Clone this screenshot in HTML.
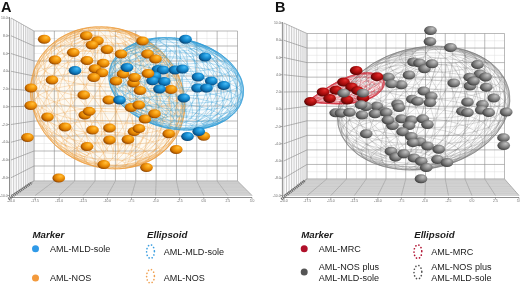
<!DOCTYPE html>
<html><head><meta charset="utf-8"><style>
html,body{margin:0;padding:0;background:#fff;width:520px;height:285px;overflow:hidden}
svg{display:block;filter:blur(0.3px)}
text{font-family:"Liberation Sans",sans-serif}
</style></head><body>
<svg width="520" height="285" viewBox="0 0 520 285">
<defs>
<radialGradient id="go" cx="0.58" cy="0.42" r="0.62" fx="0.66" fy="0.28"><stop offset="0" stop-color="#ffc040"/><stop offset="0.35" stop-color="#f8a012"/><stop offset="0.7" stop-color="#d87a00"/><stop offset="0.9" stop-color="#a45200"/><stop offset="1" stop-color="#7a3c00"/></radialGradient>
<radialGradient id="gb" cx="0.58" cy="0.42" r="0.62" fx="0.66" fy="0.28"><stop offset="0" stop-color="#4cbcf4"/><stop offset="0.35" stop-color="#2098dc"/><stop offset="0.7" stop-color="#0c72b2"/><stop offset="0.9" stop-color="#084e84"/><stop offset="1" stop-color="#063a64"/></radialGradient>
<radialGradient id="gr" cx="0.58" cy="0.42" r="0.62" fx="0.66" fy="0.28"><stop offset="0" stop-color="#e03232"/><stop offset="0.35" stop-color="#c21616"/><stop offset="0.7" stop-color="#940a0a"/><stop offset="0.9" stop-color="#640404"/><stop offset="1" stop-color="#440000"/></radialGradient>
<radialGradient id="gg" cx="0.58" cy="0.42" r="0.62" fx="0.66" fy="0.28"><stop offset="0" stop-color="#c2c2c2"/><stop offset="0.35" stop-color="#9a9a9a"/><stop offset="0.7" stop-color="#6c6c6c"/><stop offset="0.9" stop-color="#4a4a4a"/><stop offset="1" stop-color="#333"/></radialGradient>
</defs>
<rect width="520" height="285" fill="#fff"/>
<polygon points="11,18 34,31 34,181 11,195.5" fill="#fbfbfc"/>
<polygon points="11,195.5 252,195.5 237.5,181 34,181" fill="#dedede"/>
<line x1="44.17" y1="31" x2="44.17" y2="181" stroke="#dcdcdc" stroke-width="0.45"/>
<line x1="64.53" y1="31" x2="64.53" y2="181" stroke="#dcdcdc" stroke-width="0.45"/>
<line x1="84.88" y1="31" x2="84.88" y2="181" stroke="#dcdcdc" stroke-width="0.45"/>
<line x1="105.22" y1="31" x2="105.22" y2="181" stroke="#dcdcdc" stroke-width="0.45"/>
<line x1="125.58" y1="31" x2="125.58" y2="181" stroke="#dcdcdc" stroke-width="0.45"/>
<line x1="145.93" y1="31" x2="145.93" y2="181" stroke="#dcdcdc" stroke-width="0.45"/>
<line x1="166.28" y1="31" x2="166.28" y2="181" stroke="#dcdcdc" stroke-width="0.45"/>
<line x1="186.62" y1="31" x2="186.62" y2="181" stroke="#dcdcdc" stroke-width="0.45"/>
<line x1="206.97" y1="31" x2="206.97" y2="181" stroke="#dcdcdc" stroke-width="0.45"/>
<line x1="227.32" y1="31" x2="227.32" y2="181" stroke="#dcdcdc" stroke-width="0.45"/>
<line x1="34" y1="38.5" x2="237.5" y2="38.5" stroke="#dcdcdc" stroke-width="0.45"/>
<line x1="34" y1="53.5" x2="237.5" y2="53.5" stroke="#dcdcdc" stroke-width="0.45"/>
<line x1="34" y1="68.5" x2="237.5" y2="68.5" stroke="#dcdcdc" stroke-width="0.45"/>
<line x1="34" y1="83.5" x2="237.5" y2="83.5" stroke="#dcdcdc" stroke-width="0.45"/>
<line x1="34" y1="98.5" x2="237.5" y2="98.5" stroke="#dcdcdc" stroke-width="0.45"/>
<line x1="34" y1="113.5" x2="237.5" y2="113.5" stroke="#dcdcdc" stroke-width="0.45"/>
<line x1="34" y1="128.5" x2="237.5" y2="128.5" stroke="#dcdcdc" stroke-width="0.45"/>
<line x1="34" y1="143.5" x2="237.5" y2="143.5" stroke="#dcdcdc" stroke-width="0.45"/>
<line x1="34" y1="158.5" x2="237.5" y2="158.5" stroke="#dcdcdc" stroke-width="0.45"/>
<line x1="34" y1="173.5" x2="237.5" y2="173.5" stroke="#dcdcdc" stroke-width="0.45"/>
<line x1="34" y1="31" x2="34" y2="181" stroke="#8c8c8c" stroke-width="0.6"/>
<line x1="54.35" y1="31" x2="54.35" y2="181" stroke="#8c8c8c" stroke-width="0.6"/>
<line x1="74.7" y1="31" x2="74.7" y2="181" stroke="#8c8c8c" stroke-width="0.6"/>
<line x1="95.05" y1="31" x2="95.05" y2="181" stroke="#8c8c8c" stroke-width="0.6"/>
<line x1="115.4" y1="31" x2="115.4" y2="181" stroke="#8c8c8c" stroke-width="0.6"/>
<line x1="135.75" y1="31" x2="135.75" y2="181" stroke="#8c8c8c" stroke-width="0.6"/>
<line x1="156.1" y1="31" x2="156.1" y2="181" stroke="#8c8c8c" stroke-width="0.6"/>
<line x1="176.45" y1="31" x2="176.45" y2="181" stroke="#8c8c8c" stroke-width="0.6"/>
<line x1="196.8" y1="31" x2="196.8" y2="181" stroke="#8c8c8c" stroke-width="0.6"/>
<line x1="217.15" y1="31" x2="217.15" y2="181" stroke="#8c8c8c" stroke-width="0.6"/>
<line x1="237.5" y1="31" x2="237.5" y2="181" stroke="#8c8c8c" stroke-width="0.6"/>
<line x1="34" y1="31" x2="237.5" y2="31" stroke="#8c8c8c" stroke-width="0.6"/>
<line x1="34" y1="46" x2="237.5" y2="46" stroke="#8c8c8c" stroke-width="0.6"/>
<line x1="34" y1="61" x2="237.5" y2="61" stroke="#8c8c8c" stroke-width="0.6"/>
<line x1="34" y1="76" x2="237.5" y2="76" stroke="#8c8c8c" stroke-width="0.6"/>
<line x1="34" y1="91" x2="237.5" y2="91" stroke="#8c8c8c" stroke-width="0.6"/>
<line x1="34" y1="106" x2="237.5" y2="106" stroke="#8c8c8c" stroke-width="0.6"/>
<line x1="34" y1="121" x2="237.5" y2="121" stroke="#8c8c8c" stroke-width="0.6"/>
<line x1="34" y1="136" x2="237.5" y2="136" stroke="#8c8c8c" stroke-width="0.6"/>
<line x1="34" y1="151" x2="237.5" y2="151" stroke="#8c8c8c" stroke-width="0.6"/>
<line x1="34" y1="166" x2="237.5" y2="166" stroke="#8c8c8c" stroke-width="0.6"/>
<line x1="34" y1="181" x2="237.5" y2="181" stroke="#8c8c8c" stroke-width="0.6"/>
<line x1="11" y1="18" x2="11" y2="195.5" stroke="#989898" stroke-width="0.5"/>
<line x1="13.67" y1="19.51" x2="13.67" y2="193.81" stroke="#989898" stroke-width="0.5"/>
<line x1="16.25" y1="20.97" x2="16.25" y2="192.19" stroke="#989898" stroke-width="0.5"/>
<line x1="18.74" y1="22.38" x2="18.74" y2="190.62" stroke="#989898" stroke-width="0.5"/>
<line x1="21.15" y1="23.74" x2="21.15" y2="189.1" stroke="#989898" stroke-width="0.5"/>
<line x1="23.47" y1="25.05" x2="23.47" y2="187.64" stroke="#989898" stroke-width="0.5"/>
<line x1="25.72" y1="26.32" x2="25.72" y2="186.22" stroke="#989898" stroke-width="0.5"/>
<line x1="27.89" y1="27.55" x2="27.89" y2="184.85" stroke="#989898" stroke-width="0.5"/>
<line x1="29.99" y1="28.73" x2="29.99" y2="183.53" stroke="#989898" stroke-width="0.5"/>
<line x1="32.03" y1="29.88" x2="32.03" y2="182.24" stroke="#989898" stroke-width="0.5"/>
<line x1="34" y1="31" x2="34" y2="181" stroke="#989898" stroke-width="0.5"/>
<line x1="11" y1="18" x2="34" y2="31" stroke="#888888" stroke-width="0.6"/>
<line x1="11" y1="35.75" x2="34" y2="46" stroke="#888888" stroke-width="0.6"/>
<line x1="11" y1="53.5" x2="34" y2="61" stroke="#888888" stroke-width="0.6"/>
<line x1="11" y1="71.25" x2="34" y2="76" stroke="#888888" stroke-width="0.6"/>
<line x1="11" y1="89" x2="34" y2="91" stroke="#888888" stroke-width="0.6"/>
<line x1="11" y1="106.75" x2="34" y2="106" stroke="#888888" stroke-width="0.6"/>
<line x1="11" y1="124.5" x2="34" y2="121" stroke="#888888" stroke-width="0.6"/>
<line x1="11" y1="142.25" x2="34" y2="136" stroke="#888888" stroke-width="0.6"/>
<line x1="11" y1="160" x2="34" y2="151" stroke="#888888" stroke-width="0.6"/>
<line x1="11" y1="177.75" x2="34" y2="166" stroke="#888888" stroke-width="0.6"/>
<line x1="11" y1="195.5" x2="34" y2="181" stroke="#888888" stroke-width="0.6"/>
<line x1="11" y1="195.5" x2="34" y2="181" stroke="#7a7a7a" stroke-width="0.6"/>
<line x1="35.1" y1="195.5" x2="54.35" y2="181" stroke="#7a7a7a" stroke-width="0.6"/>
<line x1="59.2" y1="195.5" x2="74.7" y2="181" stroke="#7a7a7a" stroke-width="0.6"/>
<line x1="83.3" y1="195.5" x2="95.05" y2="181" stroke="#7a7a7a" stroke-width="0.6"/>
<line x1="107.4" y1="195.5" x2="115.4" y2="181" stroke="#7a7a7a" stroke-width="0.6"/>
<line x1="131.5" y1="195.5" x2="135.75" y2="181" stroke="#7a7a7a" stroke-width="0.6"/>
<line x1="155.6" y1="195.5" x2="156.1" y2="181" stroke="#7a7a7a" stroke-width="0.6"/>
<line x1="179.7" y1="195.5" x2="176.45" y2="181" stroke="#7a7a7a" stroke-width="0.6"/>
<line x1="203.8" y1="195.5" x2="196.8" y2="181" stroke="#7a7a7a" stroke-width="0.6"/>
<line x1="227.9" y1="195.5" x2="217.15" y2="181" stroke="#7a7a7a" stroke-width="0.6"/>
<line x1="252" y1="195.5" x2="237.5" y2="181" stroke="#7a7a7a" stroke-width="0.6"/>
<line x1="11" y1="195.5" x2="252" y2="195.5" stroke="#b8b8b8" stroke-width="0.45"/>
<line x1="12.35" y1="194.65" x2="251.15" y2="194.65" stroke="#cccccc" stroke-width="0.45"/>
<line x1="13.67" y1="193.81" x2="250.31" y2="193.81" stroke="#b8b8b8" stroke-width="0.45"/>
<line x1="14.98" y1="192.99" x2="249.49" y2="192.99" stroke="#cccccc" stroke-width="0.45"/>
<line x1="16.25" y1="192.19" x2="248.69" y2="192.19" stroke="#b8b8b8" stroke-width="0.45"/>
<line x1="17.51" y1="191.4" x2="247.9" y2="191.4" stroke="#cccccc" stroke-width="0.45"/>
<line x1="18.74" y1="190.62" x2="247.12" y2="190.62" stroke="#b8b8b8" stroke-width="0.45"/>
<line x1="19.96" y1="189.85" x2="246.35" y2="189.85" stroke="#cccccc" stroke-width="0.45"/>
<line x1="21.15" y1="189.1" x2="245.6" y2="189.1" stroke="#b8b8b8" stroke-width="0.45"/>
<line x1="22.32" y1="188.36" x2="244.86" y2="188.36" stroke="#cccccc" stroke-width="0.45"/>
<line x1="23.47" y1="187.64" x2="244.14" y2="187.64" stroke="#b8b8b8" stroke-width="0.45"/>
<line x1="24.6" y1="186.92" x2="243.42" y2="186.92" stroke="#cccccc" stroke-width="0.45"/>
<line x1="25.72" y1="186.22" x2="242.72" y2="186.22" stroke="#b8b8b8" stroke-width="0.45"/>
<line x1="26.81" y1="185.53" x2="242.03" y2="185.53" stroke="#cccccc" stroke-width="0.45"/>
<line x1="27.89" y1="184.85" x2="241.35" y2="184.85" stroke="#b8b8b8" stroke-width="0.45"/>
<line x1="28.95" y1="184.18" x2="240.68" y2="184.18" stroke="#cccccc" stroke-width="0.45"/>
<line x1="29.99" y1="183.53" x2="240.03" y2="183.53" stroke="#b8b8b8" stroke-width="0.45"/>
<line x1="31.02" y1="182.88" x2="239.38" y2="182.88" stroke="#cccccc" stroke-width="0.45"/>
<line x1="32.03" y1="182.24" x2="238.74" y2="182.24" stroke="#b8b8b8" stroke-width="0.45"/>
<line x1="33.02" y1="181.62" x2="238.12" y2="181.62" stroke="#cccccc" stroke-width="0.45"/>
<line x1="34" y1="181" x2="237.5" y2="181" stroke="#b8b8b8" stroke-width="0.45"/>
<line x1="9.5" y1="17" x2="9.5" y2="197.5" stroke="#707070" stroke-width="0.8"/>
<line x1="11" y1="197.5" x2="252" y2="197.5" stroke="#707070" stroke-width="0.8"/>
<line x1="7.5" y1="18" x2="9.5" y2="18" stroke="#707070" stroke-width="0.6"/>
<line x1="7.5" y1="35.75" x2="9.5" y2="35.75" stroke="#707070" stroke-width="0.6"/>
<line x1="7.5" y1="53.5" x2="9.5" y2="53.5" stroke="#707070" stroke-width="0.6"/>
<line x1="7.5" y1="71.25" x2="9.5" y2="71.25" stroke="#707070" stroke-width="0.6"/>
<line x1="7.5" y1="89" x2="9.5" y2="89" stroke="#707070" stroke-width="0.6"/>
<line x1="7.5" y1="106.75" x2="9.5" y2="106.75" stroke="#707070" stroke-width="0.6"/>
<line x1="7.5" y1="124.5" x2="9.5" y2="124.5" stroke="#707070" stroke-width="0.6"/>
<line x1="7.5" y1="142.25" x2="9.5" y2="142.25" stroke="#707070" stroke-width="0.6"/>
<line x1="7.5" y1="160" x2="9.5" y2="160" stroke="#707070" stroke-width="0.6"/>
<line x1="7.5" y1="177.75" x2="9.5" y2="177.75" stroke="#707070" stroke-width="0.6"/>
<line x1="7.5" y1="195.5" x2="9.5" y2="195.5" stroke="#707070" stroke-width="0.6"/>
<line x1="11" y1="197.5" x2="11" y2="199.5" stroke="#707070" stroke-width="0.6"/>
<line x1="35.1" y1="197.5" x2="35.1" y2="199.5" stroke="#707070" stroke-width="0.6"/>
<line x1="59.2" y1="197.5" x2="59.2" y2="199.5" stroke="#707070" stroke-width="0.6"/>
<line x1="83.3" y1="197.5" x2="83.3" y2="199.5" stroke="#707070" stroke-width="0.6"/>
<line x1="107.4" y1="197.5" x2="107.4" y2="199.5" stroke="#707070" stroke-width="0.6"/>
<line x1="131.5" y1="197.5" x2="131.5" y2="199.5" stroke="#707070" stroke-width="0.6"/>
<line x1="155.6" y1="197.5" x2="155.6" y2="199.5" stroke="#707070" stroke-width="0.6"/>
<line x1="179.7" y1="197.5" x2="179.7" y2="199.5" stroke="#707070" stroke-width="0.6"/>
<line x1="203.8" y1="197.5" x2="203.8" y2="199.5" stroke="#707070" stroke-width="0.6"/>
<line x1="227.9" y1="197.5" x2="227.9" y2="199.5" stroke="#707070" stroke-width="0.6"/>
<line x1="252" y1="197.5" x2="252" y2="199.5" stroke="#707070" stroke-width="0.6"/>
<line x1="8.5" y1="199" x2="32" y2="182.5" stroke="#6a6a6a" stroke-width="2.8" stroke-dasharray="1.1 0.8"/>
<text x="7.7" y="19.2" font-size="3.4" text-anchor="end" fill="#666">10.0</text>
<text x="7.7" y="36.95" font-size="3.4" text-anchor="end" fill="#666">8.0</text>
<text x="7.7" y="54.7" font-size="3.4" text-anchor="end" fill="#666">6.0</text>
<text x="7.7" y="72.45" font-size="3.4" text-anchor="end" fill="#666">4.0</text>
<text x="7.7" y="90.2" font-size="3.4" text-anchor="end" fill="#666">2.0</text>
<text x="7.7" y="107.95" font-size="3.4" text-anchor="end" fill="#666">0.0</text>
<text x="7.7" y="125.7" font-size="3.4" text-anchor="end" fill="#666">-2.0</text>
<text x="7.7" y="143.45" font-size="3.4" text-anchor="end" fill="#666">-4.0</text>
<text x="7.7" y="161.2" font-size="3.4" text-anchor="end" fill="#666">-6.0</text>
<text x="7.7" y="178.95" font-size="3.4" text-anchor="end" fill="#666">-8.0</text>
<text x="7.7" y="196.7" font-size="3.4" text-anchor="end" fill="#666">-10.0</text>
<text x="11" y="202.1" font-size="3.4" text-anchor="middle" fill="#666">-20.0</text>
<text x="35.1" y="202.1" font-size="3.4" text-anchor="middle" fill="#666">-17.5</text>
<text x="59.2" y="202.1" font-size="3.4" text-anchor="middle" fill="#666">-15.0</text>
<text x="83.3" y="202.1" font-size="3.4" text-anchor="middle" fill="#666">-12.5</text>
<text x="107.4" y="202.1" font-size="3.4" text-anchor="middle" fill="#666">-10.0</text>
<text x="131.5" y="202.1" font-size="3.4" text-anchor="middle" fill="#666">-7.5</text>
<text x="155.6" y="202.1" font-size="3.4" text-anchor="middle" fill="#666">-5.0</text>
<text x="179.7" y="202.1" font-size="3.4" text-anchor="middle" fill="#666">-2.5</text>
<text x="203.8" y="202.1" font-size="3.4" text-anchor="middle" fill="#666">0.0</text>
<text x="227.9" y="202.1" font-size="3.4" text-anchor="middle" fill="#666">2.5</text>
<text x="252" y="202.1" font-size="3.4" text-anchor="middle" fill="#666">5.0</text>
<polygon points="283.8,23 307,33.5 307,179 283.8,195.5" fill="#fbfbfc"/>
<polygon points="283.8,195.5 519,195.5 504.5,179 307,179" fill="#dedede"/>
<line x1="316.88" y1="33.5" x2="316.88" y2="179" stroke="#dcdcdc" stroke-width="0.45"/>
<line x1="336.62" y1="33.5" x2="336.62" y2="179" stroke="#dcdcdc" stroke-width="0.45"/>
<line x1="356.38" y1="33.5" x2="356.38" y2="179" stroke="#dcdcdc" stroke-width="0.45"/>
<line x1="376.12" y1="33.5" x2="376.12" y2="179" stroke="#dcdcdc" stroke-width="0.45"/>
<line x1="395.88" y1="33.5" x2="395.88" y2="179" stroke="#dcdcdc" stroke-width="0.45"/>
<line x1="415.62" y1="33.5" x2="415.62" y2="179" stroke="#dcdcdc" stroke-width="0.45"/>
<line x1="435.38" y1="33.5" x2="435.38" y2="179" stroke="#dcdcdc" stroke-width="0.45"/>
<line x1="455.12" y1="33.5" x2="455.12" y2="179" stroke="#dcdcdc" stroke-width="0.45"/>
<line x1="474.88" y1="33.5" x2="474.88" y2="179" stroke="#dcdcdc" stroke-width="0.45"/>
<line x1="494.62" y1="33.5" x2="494.62" y2="179" stroke="#dcdcdc" stroke-width="0.45"/>
<line x1="307" y1="40.77" x2="504.5" y2="40.77" stroke="#dcdcdc" stroke-width="0.45"/>
<line x1="307" y1="55.33" x2="504.5" y2="55.33" stroke="#dcdcdc" stroke-width="0.45"/>
<line x1="307" y1="69.88" x2="504.5" y2="69.88" stroke="#dcdcdc" stroke-width="0.45"/>
<line x1="307" y1="84.42" x2="504.5" y2="84.42" stroke="#dcdcdc" stroke-width="0.45"/>
<line x1="307" y1="98.97" x2="504.5" y2="98.97" stroke="#dcdcdc" stroke-width="0.45"/>
<line x1="307" y1="113.53" x2="504.5" y2="113.53" stroke="#dcdcdc" stroke-width="0.45"/>
<line x1="307" y1="128.07" x2="504.5" y2="128.07" stroke="#dcdcdc" stroke-width="0.45"/>
<line x1="307" y1="142.62" x2="504.5" y2="142.62" stroke="#dcdcdc" stroke-width="0.45"/>
<line x1="307" y1="157.18" x2="504.5" y2="157.18" stroke="#dcdcdc" stroke-width="0.45"/>
<line x1="307" y1="171.72" x2="504.5" y2="171.72" stroke="#dcdcdc" stroke-width="0.45"/>
<line x1="307" y1="33.5" x2="307" y2="179" stroke="#8c8c8c" stroke-width="0.6"/>
<line x1="326.75" y1="33.5" x2="326.75" y2="179" stroke="#8c8c8c" stroke-width="0.6"/>
<line x1="346.5" y1="33.5" x2="346.5" y2="179" stroke="#8c8c8c" stroke-width="0.6"/>
<line x1="366.25" y1="33.5" x2="366.25" y2="179" stroke="#8c8c8c" stroke-width="0.6"/>
<line x1="386" y1="33.5" x2="386" y2="179" stroke="#8c8c8c" stroke-width="0.6"/>
<line x1="405.75" y1="33.5" x2="405.75" y2="179" stroke="#8c8c8c" stroke-width="0.6"/>
<line x1="425.5" y1="33.5" x2="425.5" y2="179" stroke="#8c8c8c" stroke-width="0.6"/>
<line x1="445.25" y1="33.5" x2="445.25" y2="179" stroke="#8c8c8c" stroke-width="0.6"/>
<line x1="465" y1="33.5" x2="465" y2="179" stroke="#8c8c8c" stroke-width="0.6"/>
<line x1="484.75" y1="33.5" x2="484.75" y2="179" stroke="#8c8c8c" stroke-width="0.6"/>
<line x1="504.5" y1="33.5" x2="504.5" y2="179" stroke="#8c8c8c" stroke-width="0.6"/>
<line x1="307" y1="33.5" x2="504.5" y2="33.5" stroke="#8c8c8c" stroke-width="0.6"/>
<line x1="307" y1="48.05" x2="504.5" y2="48.05" stroke="#8c8c8c" stroke-width="0.6"/>
<line x1="307" y1="62.6" x2="504.5" y2="62.6" stroke="#8c8c8c" stroke-width="0.6"/>
<line x1="307" y1="77.15" x2="504.5" y2="77.15" stroke="#8c8c8c" stroke-width="0.6"/>
<line x1="307" y1="91.7" x2="504.5" y2="91.7" stroke="#8c8c8c" stroke-width="0.6"/>
<line x1="307" y1="106.25" x2="504.5" y2="106.25" stroke="#8c8c8c" stroke-width="0.6"/>
<line x1="307" y1="120.8" x2="504.5" y2="120.8" stroke="#8c8c8c" stroke-width="0.6"/>
<line x1="307" y1="135.35" x2="504.5" y2="135.35" stroke="#8c8c8c" stroke-width="0.6"/>
<line x1="307" y1="149.9" x2="504.5" y2="149.9" stroke="#8c8c8c" stroke-width="0.6"/>
<line x1="307" y1="164.45" x2="504.5" y2="164.45" stroke="#8c8c8c" stroke-width="0.6"/>
<line x1="307" y1="179" x2="504.5" y2="179" stroke="#8c8c8c" stroke-width="0.6"/>
<line x1="283.8" y1="23" x2="283.8" y2="195.5" stroke="#989898" stroke-width="0.5"/>
<line x1="286.51" y1="24.23" x2="286.51" y2="193.57" stroke="#989898" stroke-width="0.5"/>
<line x1="289.12" y1="25.41" x2="289.12" y2="191.71" stroke="#989898" stroke-width="0.5"/>
<line x1="291.64" y1="26.55" x2="291.64" y2="189.92" stroke="#989898" stroke-width="0.5"/>
<line x1="294.07" y1="27.65" x2="294.07" y2="188.2" stroke="#989898" stroke-width="0.5"/>
<line x1="296.41" y1="28.71" x2="296.41" y2="186.53" stroke="#989898" stroke-width="0.5"/>
<line x1="298.67" y1="29.73" x2="298.67" y2="184.92" stroke="#989898" stroke-width="0.5"/>
<line x1="300.86" y1="30.72" x2="300.86" y2="183.37" stroke="#989898" stroke-width="0.5"/>
<line x1="302.97" y1="31.68" x2="302.97" y2="181.86" stroke="#989898" stroke-width="0.5"/>
<line x1="305.02" y1="32.6" x2="305.02" y2="180.41" stroke="#989898" stroke-width="0.5"/>
<line x1="307" y1="33.5" x2="307" y2="179" stroke="#989898" stroke-width="0.5"/>
<line x1="283.8" y1="23" x2="307" y2="33.5" stroke="#888888" stroke-width="0.6"/>
<line x1="283.8" y1="40.25" x2="307" y2="48.05" stroke="#888888" stroke-width="0.6"/>
<line x1="283.8" y1="57.5" x2="307" y2="62.6" stroke="#888888" stroke-width="0.6"/>
<line x1="283.8" y1="74.75" x2="307" y2="77.15" stroke="#888888" stroke-width="0.6"/>
<line x1="283.8" y1="92" x2="307" y2="91.7" stroke="#888888" stroke-width="0.6"/>
<line x1="283.8" y1="109.25" x2="307" y2="106.25" stroke="#888888" stroke-width="0.6"/>
<line x1="283.8" y1="126.5" x2="307" y2="120.8" stroke="#888888" stroke-width="0.6"/>
<line x1="283.8" y1="143.75" x2="307" y2="135.35" stroke="#888888" stroke-width="0.6"/>
<line x1="283.8" y1="161" x2="307" y2="149.9" stroke="#888888" stroke-width="0.6"/>
<line x1="283.8" y1="178.25" x2="307" y2="164.45" stroke="#888888" stroke-width="0.6"/>
<line x1="283.8" y1="195.5" x2="307" y2="179" stroke="#888888" stroke-width="0.6"/>
<line x1="283.8" y1="195.5" x2="307" y2="179" stroke="#7a7a7a" stroke-width="0.6"/>
<line x1="307.32" y1="195.5" x2="326.75" y2="179" stroke="#7a7a7a" stroke-width="0.6"/>
<line x1="330.84" y1="195.5" x2="346.5" y2="179" stroke="#7a7a7a" stroke-width="0.6"/>
<line x1="354.36" y1="195.5" x2="366.25" y2="179" stroke="#7a7a7a" stroke-width="0.6"/>
<line x1="377.88" y1="195.5" x2="386" y2="179" stroke="#7a7a7a" stroke-width="0.6"/>
<line x1="401.4" y1="195.5" x2="405.75" y2="179" stroke="#7a7a7a" stroke-width="0.6"/>
<line x1="424.92" y1="195.5" x2="425.5" y2="179" stroke="#7a7a7a" stroke-width="0.6"/>
<line x1="448.44" y1="195.5" x2="445.25" y2="179" stroke="#7a7a7a" stroke-width="0.6"/>
<line x1="471.96" y1="195.5" x2="465" y2="179" stroke="#7a7a7a" stroke-width="0.6"/>
<line x1="495.48" y1="195.5" x2="484.75" y2="179" stroke="#7a7a7a" stroke-width="0.6"/>
<line x1="519" y1="195.5" x2="504.5" y2="179" stroke="#7a7a7a" stroke-width="0.6"/>
<line x1="283.8" y1="195.5" x2="519" y2="195.5" stroke="#b8b8b8" stroke-width="0.45"/>
<line x1="285.17" y1="194.53" x2="518.14" y2="194.53" stroke="#cccccc" stroke-width="0.45"/>
<line x1="286.51" y1="193.57" x2="517.31" y2="193.57" stroke="#b8b8b8" stroke-width="0.45"/>
<line x1="287.83" y1="192.63" x2="516.48" y2="192.63" stroke="#cccccc" stroke-width="0.45"/>
<line x1="289.12" y1="191.71" x2="515.67" y2="191.71" stroke="#b8b8b8" stroke-width="0.45"/>
<line x1="290.39" y1="190.81" x2="514.88" y2="190.81" stroke="#cccccc" stroke-width="0.45"/>
<line x1="291.64" y1="189.92" x2="514.1" y2="189.92" stroke="#b8b8b8" stroke-width="0.45"/>
<line x1="292.86" y1="189.05" x2="513.33" y2="189.05" stroke="#cccccc" stroke-width="0.45"/>
<line x1="294.07" y1="188.2" x2="512.58" y2="188.2" stroke="#b8b8b8" stroke-width="0.45"/>
<line x1="295.25" y1="187.36" x2="511.84" y2="187.36" stroke="#cccccc" stroke-width="0.45"/>
<line x1="296.41" y1="186.53" x2="511.12" y2="186.53" stroke="#b8b8b8" stroke-width="0.45"/>
<line x1="297.55" y1="185.72" x2="510.41" y2="185.72" stroke="#cccccc" stroke-width="0.45"/>
<line x1="298.67" y1="184.92" x2="509.7" y2="184.92" stroke="#b8b8b8" stroke-width="0.45"/>
<line x1="299.78" y1="184.14" x2="509.01" y2="184.14" stroke="#cccccc" stroke-width="0.45"/>
<line x1="300.86" y1="183.37" x2="508.34" y2="183.37" stroke="#b8b8b8" stroke-width="0.45"/>
<line x1="301.93" y1="182.61" x2="507.67" y2="182.61" stroke="#cccccc" stroke-width="0.45"/>
<line x1="302.97" y1="181.86" x2="507.02" y2="181.86" stroke="#b8b8b8" stroke-width="0.45"/>
<line x1="304.01" y1="181.13" x2="506.37" y2="181.13" stroke="#cccccc" stroke-width="0.45"/>
<line x1="305.02" y1="180.41" x2="505.74" y2="180.41" stroke="#b8b8b8" stroke-width="0.45"/>
<line x1="306.02" y1="179.7" x2="505.11" y2="179.7" stroke="#cccccc" stroke-width="0.45"/>
<line x1="307" y1="179" x2="504.5" y2="179" stroke="#b8b8b8" stroke-width="0.45"/>
<line x1="282.4" y1="22" x2="282.4" y2="197.5" stroke="#707070" stroke-width="0.8"/>
<line x1="283.8" y1="197.5" x2="519" y2="197.5" stroke="#707070" stroke-width="0.8"/>
<line x1="280.4" y1="23" x2="282.4" y2="23" stroke="#707070" stroke-width="0.6"/>
<line x1="280.4" y1="40.25" x2="282.4" y2="40.25" stroke="#707070" stroke-width="0.6"/>
<line x1="280.4" y1="57.5" x2="282.4" y2="57.5" stroke="#707070" stroke-width="0.6"/>
<line x1="280.4" y1="74.75" x2="282.4" y2="74.75" stroke="#707070" stroke-width="0.6"/>
<line x1="280.4" y1="92" x2="282.4" y2="92" stroke="#707070" stroke-width="0.6"/>
<line x1="280.4" y1="109.25" x2="282.4" y2="109.25" stroke="#707070" stroke-width="0.6"/>
<line x1="280.4" y1="126.5" x2="282.4" y2="126.5" stroke="#707070" stroke-width="0.6"/>
<line x1="280.4" y1="143.75" x2="282.4" y2="143.75" stroke="#707070" stroke-width="0.6"/>
<line x1="280.4" y1="161" x2="282.4" y2="161" stroke="#707070" stroke-width="0.6"/>
<line x1="280.4" y1="178.25" x2="282.4" y2="178.25" stroke="#707070" stroke-width="0.6"/>
<line x1="280.4" y1="195.5" x2="282.4" y2="195.5" stroke="#707070" stroke-width="0.6"/>
<line x1="283.8" y1="197.5" x2="283.8" y2="199.5" stroke="#707070" stroke-width="0.6"/>
<line x1="307.32" y1="197.5" x2="307.32" y2="199.5" stroke="#707070" stroke-width="0.6"/>
<line x1="330.84" y1="197.5" x2="330.84" y2="199.5" stroke="#707070" stroke-width="0.6"/>
<line x1="354.36" y1="197.5" x2="354.36" y2="199.5" stroke="#707070" stroke-width="0.6"/>
<line x1="377.88" y1="197.5" x2="377.88" y2="199.5" stroke="#707070" stroke-width="0.6"/>
<line x1="401.4" y1="197.5" x2="401.4" y2="199.5" stroke="#707070" stroke-width="0.6"/>
<line x1="424.92" y1="197.5" x2="424.92" y2="199.5" stroke="#707070" stroke-width="0.6"/>
<line x1="448.44" y1="197.5" x2="448.44" y2="199.5" stroke="#707070" stroke-width="0.6"/>
<line x1="471.96" y1="197.5" x2="471.96" y2="199.5" stroke="#707070" stroke-width="0.6"/>
<line x1="495.48" y1="197.5" x2="495.48" y2="199.5" stroke="#707070" stroke-width="0.6"/>
<line x1="519" y1="197.5" x2="519" y2="199.5" stroke="#707070" stroke-width="0.6"/>
<line x1="281.3" y1="199" x2="305" y2="180.5" stroke="#6a6a6a" stroke-width="2.8" stroke-dasharray="1.1 0.8"/>
<text x="280.6" y="24.2" font-size="3.4" text-anchor="end" fill="#666">10.0</text>
<text x="280.6" y="41.45" font-size="3.4" text-anchor="end" fill="#666">8.0</text>
<text x="280.6" y="58.7" font-size="3.4" text-anchor="end" fill="#666">6.0</text>
<text x="280.6" y="75.95" font-size="3.4" text-anchor="end" fill="#666">4.0</text>
<text x="280.6" y="93.2" font-size="3.4" text-anchor="end" fill="#666">2.0</text>
<text x="280.6" y="110.45" font-size="3.4" text-anchor="end" fill="#666">0.0</text>
<text x="280.6" y="127.7" font-size="3.4" text-anchor="end" fill="#666">-2.0</text>
<text x="280.6" y="144.95" font-size="3.4" text-anchor="end" fill="#666">-4.0</text>
<text x="280.6" y="162.2" font-size="3.4" text-anchor="end" fill="#666">-6.0</text>
<text x="280.6" y="179.45" font-size="3.4" text-anchor="end" fill="#666">-8.0</text>
<text x="280.6" y="196.7" font-size="3.4" text-anchor="end" fill="#666">-10.0</text>
<text x="283.8" y="202.1" font-size="3.4" text-anchor="middle" fill="#666">-20.0</text>
<text x="307.32" y="202.1" font-size="3.4" text-anchor="middle" fill="#666">-17.5</text>
<text x="330.84" y="202.1" font-size="3.4" text-anchor="middle" fill="#666">-15.0</text>
<text x="354.36" y="202.1" font-size="3.4" text-anchor="middle" fill="#666">-12.5</text>
<text x="377.88" y="202.1" font-size="3.4" text-anchor="middle" fill="#666">-10.0</text>
<text x="401.4" y="202.1" font-size="3.4" text-anchor="middle" fill="#666">-7.5</text>
<text x="424.92" y="202.1" font-size="3.4" text-anchor="middle" fill="#666">-5.0</text>
<text x="448.44" y="202.1" font-size="3.4" text-anchor="middle" fill="#666">-2.5</text>
<text x="471.96" y="202.1" font-size="3.4" text-anchor="middle" fill="#666">0.0</text>
<text x="495.48" y="202.1" font-size="3.4" text-anchor="middle" fill="#666">2.5</text>
<text x="519" y="202.1" font-size="3.4" text-anchor="middle" fill="#666">5.0</text>
<path d="M179.4,130.5 176.6,135.9 173.3,140.9 169.5,145.7 165.2,150.1 160.5,154.1 155.4,157.7 149.9,160.8 144.1,163.4 138.1,165.6 131.7,167.2 125.3,168.3 118.6,168.8 111.9,168.8 105.2,168.3 98.5,167.3 91.8,165.7 85.3,163.6 78.9,161 72.8,157.9 66.9,154.3 61.3,150.3 56.1,146 51.3,141.2 46.9,136.2 43,130.8 39.6,125.2 36.6,119.3 34.3,113.4 32.5,107.3 31.2,101.1 30.6,94.9 30.5,88.7 31,82.6 32.1,76.6 33.8,70.8 36,65.1 38.8,59.7 42.1,54.7 45.9,49.9 50.2,45.5 54.9,41.5 60,37.9 65.5,34.8 71.3,32.2 77.3,30 83.7,28.4 90.1,27.3 96.8,26.8 103.5,26.8 110.2,27.3 116.9,28.3 123.6,29.9 130.1,32 136.5,34.6 142.6,37.7 148.5,41.3 154.1,45.3 159.3,49.6 164.1,54.4 168.5,59.4 172.4,64.8 175.8,70.4 178.8,76.3 181.1,82.2 182.9,88.3 184.2,94.5 184.8,100.7 184.9,106.9 184.4,113 183.3,119 181.6,124.8 179.4,130.5Z" fill="#f8d898" fill-opacity="0.12"/>
<path d="M130.8,36.7 136.7,39.1 142.5,41.7 148,44.8 153.2,48.2 158.1,52 162.7,56 167,60.3 170.8,64.9 174.2,69.7 177.2,74.7 179.7,79.8 181.7,85.1 183.3,90.4 184.3,95.8 184.9,101.2 184.9,106.6 184.4,111.9 183.4,117.1 181.9,122.2 179.9,127.1 177.5,131.9 174.5,136.4 171.2,140.6 167.4,144.6 163.2,148.3 158.6,151.6 153.7,154.6 148.5,157.2 143.1,159.4 137.4,161.2 M117.4,34.1 124.4,36.2 131.2,38.9 137.8,42.1 144.1,45.8 150.2,49.9 155.8,54.4 161.1,59.3 165.8,64.5 170.1,70.1 173.8,75.8 177,81.8 179.6,87.9 181.5,94.1 182.8,100.3 183.5,106.5 183.5,112.6 182.8,118.6 181.5,124.4 179.5,129.9 177,135.2 173.8,140.2 170.1,144.8 165.8,149 161,152.8 155.7,156.1 150.1,158.8 144,161.1 137.7,162.8 131.1,163.9 124.3,164.5 M128.7,40.2 134.2,43.3 139.5,46.7 144.5,50.5 149.4,54.6 153.9,59 158.2,63.6 162.1,68.4 165.6,73.5 168.8,78.7 171.6,84 173.9,89.5 175.8,94.9 177.2,100.4 178.2,105.9 178.8,111.4 178.8,116.7 178.4,121.9 177.5,127 176.1,131.8 174.3,136.5 172.1,140.8 169.4,144.9 166.3,148.7 162.8,152.2 159,155.3 154.8,158 150.3,160.3 145.5,162.1 140.5,163.6 135.3,164.6 M115.3,35.7 121.1,38.7 126.8,42.2 132.3,46.1 137.6,50.5 142.7,55.4 147.4,60.6 151.8,66.1 155.9,71.9 159.5,77.9 162.6,84.1 165.3,90.4 167.5,96.7 169.2,103.1 170.3,109.4 170.9,115.7 171,121.7 170.5,127.6 169.4,133.2 167.9,138.5 165.8,143.5 163.2,148 160.1,152.1 156.6,155.8 152.6,158.9 148.2,161.6 143.6,163.6 138.5,165.1 133.3,166 127.8,166.4 122.1,166.1 M122.4,42.9 126.5,46.6 130.5,50.6 134.3,54.9 137.9,59.5 141.3,64.3 144.5,69.4 147.4,74.7 150.1,80.1 152.5,85.6 154.7,91.2 156.5,96.9 157.9,102.5 159.1,108.2 159.9,113.7 160.3,119.2 160.5,124.5 160.2,129.6 159.6,134.6 158.7,139.2 157.4,143.7 155.8,147.8 153.9,151.5 151.7,154.9 149.2,158 146.4,160.6 143.3,162.8 140,164.6 136.5,166 132.8,166.9 129,167.3 M111.2,36.8 114.9,40.3 118.5,44.3 122,48.8 125.4,53.7 128.7,59 131.7,64.6 134.6,70.6 137.2,76.7 139.6,83.1 141.7,89.5 143.5,96.1 145,102.6 146.1,109.1 147,115.5 147.5,121.8 147.6,127.8 147.4,133.6 146.9,139.1 146,144.2 144.8,148.9 143.3,153.2 141.4,157 139.3,160.3 136.9,163 134.2,165.2 131.3,166.8 128.3,167.8 125,168.2 121.6,168 118,167.2 M113,44.3 115,48.3 117,52.6 118.9,57.2 120.7,62.1 122.4,67.2 124.1,72.5 125.6,77.9 127,83.6 128.3,89.3 129.4,95 130.4,100.8 131.2,106.5 131.9,112.2 132.5,117.8 132.8,123.3 133,128.6 133.1,133.7 132.9,138.6 132.6,143.2 132.2,147.5 131.5,151.4 130.7,155 129.8,158.2 128.7,161.1 127.5,163.5 126.1,165.4 124.6,167 123,168 121.4,168.6 119.6,168.7 M105.9,37.1 106.8,40.8 107.8,45 108.7,49.7 109.6,54.8 110.5,60.2 111.4,66 112.3,72 113.1,78.3 113.8,84.7 114.5,91.3 115.2,97.9 115.8,104.5 116.3,111 116.7,117.5 117.1,123.7 117.4,129.8 117.6,135.6 117.7,141 117.7,146.1 117.7,150.7 117.5,154.9 117.3,158.6 117,161.7 116.6,164.4 116.1,166.4 115.6,167.8 115,168.7 114.3,168.9 113.5,168.5 112.8,167.5 M102.1,44.2 101.7,48.2 101.4,52.5 101.1,57 100.8,61.9 100.6,67 100.4,72.3 100.2,77.7 100.2,83.3 100.1,89 100.1,94.8 100.2,100.5 100.3,106.3 100.5,112 100.7,117.6 101,123 101.3,128.3 101.6,133.4 102,138.3 102.4,142.9 102.9,147.2 103.4,151.2 103.9,154.8 104.5,158 105,160.9 105.6,163.3 106.2,165.3 106.8,166.8 107.4,167.9 108.1,168.5 108.7,168.6 M100.4,36.7 98.4,40.2 96.5,44.1 94.7,48.6 93,53.4 91.4,58.7 90,64.3 88.8,70.2 87.7,76.3 86.7,82.6 86,89 85.4,95.5 85.1,102.1 84.9,108.6 84.9,115 85.1,121.2 85.6,127.3 86.2,133.1 87,138.6 87.9,143.7 89.1,148.5 90.4,152.8 91.9,156.6 93.5,159.9 95.2,162.7 97,164.9 98.9,166.5 100.9,167.6 103,168 105.1,167.8 107.2,167.1 M91.6,42.6 88.9,46.2 86.3,50.2 83.9,54.4 81.6,59 79.5,63.8 77.6,68.8 75.8,74 74.3,79.4 73,84.9 72,90.5 71.1,96.1 70.6,101.8 70.2,107.4 70.1,112.9 70.3,118.4 70.7,123.7 71.3,128.9 72.2,133.8 73.4,138.5 74.7,142.9 76.3,147.1 78.1,150.9 80.1,154.3 82.2,157.4 84.6,160.1 87,162.4 89.7,164.2 92.4,165.6 95.2,166.6 98.2,167.1 M95.5,35.5 91,38.4 86.6,41.8 82.4,45.7 78.4,50 74.7,54.8 71.2,59.9 68.1,65.3 65.3,71.1 62.9,77 60.9,83.2 59.3,89.4 58.1,95.8 57.3,102.1 57,108.4 57.1,114.7 57.6,120.7 58.6,126.6 60,132.3 61.8,137.6 64,142.6 66.6,147.2 69.5,151.4 72.8,155.1 76.4,158.3 80.3,161 84.3,163.1 88.6,164.7 93.1,165.7 97.7,166.1 102.3,165.9 M83.3,39.8 78.8,42.8 74.5,46.2 70.3,49.9 66.5,53.9 62.9,58.2 59.6,62.7 56.6,67.5 53.9,72.5 51.6,77.7 49.7,83 48.2,88.4 47,93.8 46.3,99.3 46,104.8 46.1,110.2 46.5,115.5 47.4,120.8 48.7,125.8 50.4,130.7 52.5,135.4 54.9,139.8 57.7,144 60.8,147.8 64.2,151.3 67.9,154.5 71.9,157.2 76.1,159.6 80.5,161.6 85.1,163.1 89.9,164.2 M92.1,33.9 85.8,35.9 79.8,38.5 73.9,41.5 68.4,45.1 63.1,49.1 58.3,53.5 53.9,58.4 50,63.5 46.5,69 43.6,74.7 41.3,80.6 39.5,86.7 38.3,92.8 37.7,99 37.7,105.2 38.4,111.3 39.6,117.3 41.4,123.1 43.8,128.8 46.7,134.1 50.2,139.1 54.2,143.8 58.6,148.1 63.5,151.9 68.7,155.3 74.3,158.2 80.2,160.5 86.3,162.3 92.6,163.6 99,164.3 M78.7,36.3 73.2,38.5 67.8,41.1 62.8,44.1 58,47.4 53.6,51.1 49.5,55 45.8,59.3 42.5,63.8 39.7,68.5 37.3,73.5 35.3,78.6 33.9,83.8 32.9,89.1 32.5,94.5 32.5,99.8 33,105.2 34.1,110.6 35.6,115.8 37.6,120.9 40,125.9 42.9,130.7 46.3,135.3 50,139.6 54.1,143.6 58.6,147.4 63.4,150.8 68.5,153.8 73.9,156.5 79.5,158.8 85.2,160.7 M90.9,32 83.9,33.1 77.2,34.7 70.7,36.8 64.6,39.5 58.8,42.7 53.5,46.3 48.6,50.5 44.2,55 40.4,59.9 37.2,65.1 34.5,70.6 32.6,76.3 31.2,82.2 30.5,88.3 30.5,94.4 31.2,100.6 32.5,106.7 34.5,112.8 37.1,118.7 40.3,124.5 44.1,130 48.4,135.3 53.3,140.2 58.6,144.7 64.4,148.9 70.5,152.6 77,155.8 83.7,158.5 90.6,160.7 97.7,162.4 M78.5,32.6 72.9,34 67.5,35.9 62.4,38.1 57.6,40.7 53.2,43.7 49.1,47.1 45.3,50.8 42,54.8 39.2,59.1 36.7,63.6 34.8,68.4 33.3,73.4 32.4,78.5 31.9,83.8 31.9,89.1 32.5,94.6 33.5,100 35,105.4 37,110.8 39.5,116.1 42.4,121.2 45.8,126.2 49.6,131.1 53.7,135.7 58.2,140 63.1,144.1 68.2,147.8 73.6,151.3 79.2,154.3 85.1,157 M91.9,30.3 85.6,30.4 79.4,31.1 73.4,32.4 67.8,34.2 62.5,36.6 57.6,39.5 53.1,43 49.1,46.9 45.6,51.2 42.6,56 40.3,61.1 38.4,66.5 37.2,72.2 36.6,78.2 36.6,84.2 37.3,90.5 38.5,96.7 40.4,103 42.8,109.3 45.8,115.4 49.3,121.4 53.3,127.2 57.8,132.7 62.7,137.9 68.1,142.8 73.7,147.3 79.7,151.4 85.9,155 92.3,158.1 98.8,160.6 M82.8,29.5 78.2,30.2 73.7,31.3 69.5,32.9 65.5,35 61.8,37.4 58.4,40.2 55.3,43.5 52.6,47 50.2,51 48.3,55.2 46.7,59.7 45.5,64.5 44.7,69.4 44.4,74.6 44.5,79.9 45,85.4 45.9,90.9 47.2,96.5 48.9,102.1 51,107.6 53.5,113.1 56.3,118.5 59.5,123.7 63,128.8 66.8,133.7 70.9,138.3 75.2,142.7 79.8,146.8 84.5,150.5 89.3,153.9 M95.1,28.9 90.4,28.3 85.9,28.3 81.5,28.9 77.4,30.1 73.5,31.9 69.9,34.3 66.6,37.2 63.7,40.7 61.2,44.6 59.1,49 57.4,53.8 56.1,59 55.3,64.5 55,70.4 55.1,76.4 55.6,82.7 56.6,89 58.1,95.5 59.9,102 62.2,108.4 64.9,114.7 68,120.9 71.3,126.9 75.1,132.7 79.1,138.1 83.3,143.2 87.7,147.9 92.4,152.2 97.1,156 102,159.3 M90.8,27.4 87.9,27.6 85.2,28.3 82.6,29.5 80.1,31.1 77.9,33.2 75.8,35.7 74,38.6 72.4,41.9 71,45.6 69.8,49.6 68.9,53.9 68.3,58.5 67.9,63.4 67.8,68.5 67.9,73.8 68.4,79.3 69,84.9 70,90.6 71.1,96.3 72.6,102 74.2,107.7 76.1,113.3 78.2,118.9 80.5,124.3 82.9,129.5 85.6,134.5 88.4,139.3 91.3,143.8 94.3,148 97.4,151.8 M99.9,28.2 97.7,27.2 95.6,26.9 93.6,27.1 91.7,28 89.9,29.5 88.3,31.5 86.9,34.2 85.6,37.4 84.5,41.1 83.7,45.3 83,49.9 82.6,55 82.4,60.5 82.4,66.2 82.6,72.3 83,78.5 83.6,85 84.5,91.5 85.6,98.1 86.8,104.7 88.2,111.2 89.8,117.7 91.6,123.9 93.5,129.9 95.5,135.7 97.6,141.1 99.8,146.1 102.1,150.7 104.4,154.9 106.8,158.6 M101.2,26.7 100.6,26.8 100.1,27.4 99.6,28.4 99.1,29.9 98.7,31.8 98.4,34.2 98.1,37 97.9,40.2 97.8,43.8 97.7,47.8 97.7,52 97.7,56.6 97.8,61.5 98,66.6 98.3,71.9 98.6,77.3 99,82.9 99.4,88.6 99.9,94.4 100.4,100.2 101,106 101.7,111.7 102.3,117.3 103,122.8 103.8,128.1 104.5,133.3 105.3,138.2 106.1,142.8 106.9,147.1 107.7,151.1 M105.4,28.2 106.1,27.3 106.8,27 107.5,27.2 108.2,28.1 108.9,29.6 109.6,31.7 110.3,34.4 110.9,37.6 111.6,41.3 112.1,45.5 112.7,50.2 113.2,55.3 113.7,60.7 114.1,66.5 114.4,72.6 114.7,78.8 114.9,85.2 115.1,91.8 115.2,98.4 115.3,105 115.2,111.5 115.2,117.9 115,124.1 114.8,130.1 114.5,135.8 114.2,141.2 113.8,146.2 113.3,150.8 112.8,155 112.3,158.6 M112.1,27.6 114,27.9 115.7,28.6 117.4,29.8 119.1,31.5 120.7,33.6 122.1,36.1 123.5,39 124.8,42.3 126,46 127,50.1 128,54.4 128.8,59 129.4,63.9 129.9,69.1 130.3,74.4 130.5,79.8 130.5,85.4 130.4,91.1 130.2,96.8 129.8,102.5 129.3,108.2 128.6,113.8 127.7,119.3 126.8,124.7 125.7,129.9 124.5,134.8 123.2,139.6 121.8,144 120.3,148.2 118.7,152 M110.8,29 114.2,28.5 117.7,28.6 121,29.3 124.2,30.5 127.3,32.4 130.2,34.8 132.9,37.8 135.3,41.3 137.6,45.3 139.6,49.7 141.3,54.5 142.7,59.8 143.8,65.3 144.6,71.1 145.1,77.2 145.3,83.4 145.1,89.8 144.6,96.2 143.8,102.7 142.7,109.1 141.3,115.4 139.6,121.6 137.6,127.5 135.3,133.2 132.8,138.6 130.1,143.6 127.2,148.3 124.2,152.5 120.9,156.2 117.6,159.4 M121.7,29.8 125.7,30.6 129.5,31.8 133.1,33.5 136.6,35.6 139.9,38.1 143,41 145.9,44.2 148.4,47.9 150.8,51.8 152.8,56.1 154.6,60.6 156,65.4 157.1,70.4 157.9,75.6 158.3,80.9 158.5,86.4 158.2,91.9 157.7,97.4 156.8,103 155.6,108.5 154,114 152.2,119.3 150.1,124.5 147.7,129.6 145,134.4 142.1,138.9 138.9,143.2 135.5,147.2 132,150.9 128.3,154.2 M115,30.5 120.6,30.7 126.2,31.5 131.6,32.9 136.8,34.8 141.7,37.3 146.4,40.3 150.7,43.8 154.6,47.8 158.1,52.2 161.2,57 163.9,62.2 166,67.6 167.6,73.4 168.8,79.3 169.3,85.4 169.4,91.6 168.9,97.9 167.9,104.1 166.4,110.3 164.3,116.4 161.8,122.4 158.8,128.1 155.4,133.6 151.5,138.7 147.3,143.5 142.7,147.9 137.8,151.9 132.7,155.4 127.4,158.4 121.8,160.8 M128.4,33.1 133.7,34.6 138.9,36.5 143.9,38.8 148.7,41.5 153.2,44.6 157.4,48 161.2,51.8 164.7,55.9 167.8,60.2 170.6,64.8 172.9,69.6 174.7,74.6 176.2,79.8 177.1,85.1 177.7,90.4 177.7,95.8 177.3,101.3 176.4,106.7 175.1,112 173.3,117.2 171.1,122.4 168.5,127.3 165.4,132.1 162,136.6 158.2,140.9 154.1,144.9 149.7,148.6 145,151.9 140.1,154.9 134.9,157.5 M117.3,32.3 124.2,33.4 131,35.1 137.5,37.4 143.8,40.2 149.8,43.5 155.4,47.2 160.6,51.4 165.4,56 169.6,61 173.3,66.3 176.5,71.8 179,77.6 181,83.5 182.3,89.6 182.9,95.8 182.9,101.9 182.3,108 181,114.1 179,120 176.5,125.7 173.3,131.1 169.6,136.3 165.4,141.2 160.6,145.6 155.4,149.7 149.8,153.3 143.8,156.4 137.5,159 130.9,161.1 124.2,162.6 M117.7,33.2 117.6,33.8 117.3,34.3 116.7,34.9 116,35.4 115,35.8 113.9,36.2 112.6,36.5 111.2,36.8 109.6,37 108,37.1 106.3,37.1 104.5,37.1 102.8,37 101,36.8 99.4,36.5 97.8,36.2 96.3,35.8 95,35.4 93.8,34.9 92.8,34.3 92,33.8 91.4,33.2 91,32.6 90.9,32 91,31.4 91.3,30.9 91.8,30.4 92.6,29.9 93.5,29.4 94.6,29 95.9,28.7 97.4,28.4 98.9,28.3 100.6,28.1 102.3,28.1 104,28.1 105.8,28.3 107.5,28.4 109.2,28.7 110.8,29 112.2,29.4 113.6,29.9 114.8,30.4 115.8,30.9 116.6,31.4 117.2,32 117.5,32.6 117.7,33.2 M130.8,36.7 130.7,37.9 130,39 129,40 127.5,41 125.7,41.9 123.4,42.6 120.9,43.3 118,43.8 115,44.2 111.7,44.4 108.3,44.5 104.9,44.4 101.4,44.2 98,43.8 94.8,43.3 91.6,42.6 88.7,41.9 86.1,41 83.8,40 81.8,39 80.2,37.9 79.1,36.8 78.3,35.6 78,34.4 78.2,33.3 78.8,32.2 79.9,31.2 81.3,30.2 83.2,29.3 85.4,28.6 88,27.9 90.8,27.4 93.9,27 97.2,26.8 100.5,26.7 104,26.8 107.4,27 110.8,27.4 114.1,27.9 117.2,28.5 120.1,29.3 122.8,30.2 125.1,31.2 127.1,32.2 128.6,33.3 129.8,34.4 130.5,35.6 130.8,36.7 M143.3,42.2 143,43.8 142.1,45.4 140.6,47 138.4,48.4 135.7,49.6 132.5,50.8 128.7,51.7 124.6,52.5 120.1,53 115.3,53.3 110.4,53.4 105.4,53.3 100.3,53 95.4,52.5 90.5,51.7 86,50.8 81.7,49.7 77.9,48.4 74.5,47 71.6,45.4 69.3,43.8 67.6,42.2 66.5,40.5 66.1,38.8 66.3,37.1 67.2,35.5 68.8,34 70.9,32.6 73.7,31.3 76.9,30.2 80.7,29.2 84.8,28.5 89.3,27.9 94,27.6 99,27.5 104,27.6 109.1,27.9 114,28.5 118.8,29.2 123.4,30.2 127.6,31.3 131.5,32.6 134.9,34 137.8,35.5 140.1,37.1 141.8,38.8 142.9,40.5 143.3,42.2 M154.6,49.3 154.3,51.4 153.2,53.5 151.2,55.4 148.4,57.2 144.9,58.9 140.7,60.3 135.9,61.5 130.6,62.5 124.8,63.2 118.7,63.6 112.4,63.8 105.9,63.6 99.4,63.2 93,62.5 86.9,61.5 81,60.3 75.5,58.9 70.6,57.3 66.2,55.4 62.5,53.5 59.5,51.4 57.3,49.3 56,47.1 55.4,44.9 55.7,42.8 56.9,40.7 58.9,38.8 61.6,36.9 65.2,35.3 69.3,33.9 74.1,32.6 79.5,31.7 85.2,31 91.4,30.5 97.7,30.4 104.2,30.5 110.6,31 117,31.7 123.2,32.6 129.1,33.8 134.5,35.3 139.5,36.9 143.9,38.7 147.6,40.7 150.5,42.8 152.7,44.9 154.1,47.1 154.6,49.3 M164.6,57.8 164.2,60.4 162.8,62.9 160.5,65.2 157.2,67.3 153,69.3 148,71 142.3,72.5 135.9,73.6 129,74.5 121.8,75 114.2,75.1 106.5,75 98.8,74.5 91.2,73.6 83.8,72.5 76.8,71 70.3,69.3 64.4,67.4 59.2,65.2 54.8,62.9 51.2,60.4 48.6,57.9 47,55.3 46.3,52.7 46.7,50.1 48.1,47.6 50.4,45.3 53.7,43.2 57.9,41.2 62.9,39.5 68.7,38 75,36.9 81.9,36 89.2,35.5 96.7,35.4 104.4,35.5 112.2,36 119.8,36.9 127.1,38 134.1,39.5 140.6,41.2 146.5,43.1 151.7,45.3 156.1,47.6 159.7,50.1 162.3,52.6 163.9,55.2 164.6,57.8 M172.8,67.6 172.4,70.5 170.8,73.3 168.2,75.9 164.4,78.4 159.7,80.6 154,82.5 147.6,84.2 140.4,85.5 132.6,86.4 124.4,87 115.8,87.2 107.1,87 98.4,86.4 89.8,85.5 81.5,84.2 73.6,82.5 66.2,80.6 59.5,78.4 53.6,75.9 48.7,73.3 44.7,70.5 41.7,67.6 39.9,64.7 39.1,61.8 39.5,58.9 41.1,56.1 43.8,53.5 47.5,51 52.2,48.8 57.9,46.9 64.3,45.2 71.5,43.9 79.3,43 87.5,42.4 96.1,42.2 104.8,42.4 113.5,43 122.1,43.9 130.5,45.2 138.4,46.9 145.7,48.8 152.4,51 158.3,53.5 163.3,56.1 167.3,58.9 170.2,61.8 172.1,64.7 172.8,67.6 M179,78.3 178.6,81.5 176.9,84.5 174,87.3 170,90 164.8,92.4 158.7,94.5 151.7,96.3 143.9,97.7 135.4,98.7 126.5,99.3 117.2,99.6 107.8,99.3 98.3,98.7 89,97.7 79.9,96.3 71.4,94.5 63.4,92.4 56.1,90 49.7,87.4 44.3,84.5 40,81.5 36.8,78.4 34.8,75.2 34,72 34.4,68.9 36.1,65.8 39,63 43.1,60.3 48.2,57.9 54.3,55.8 61.4,54 69.1,52.6 77.6,51.6 86.5,51 95.8,50.8 105.2,51 114.7,51.6 124.1,52.6 133.1,54 141.7,55.8 149.6,57.9 156.9,60.3 163.3,63 168.7,65.8 173,68.8 176.2,72 178.2,75.1 179,78.3 M183.1,89.6 182.6,92.9 180.9,96.1 177.8,99.1 173.6,101.9 168.2,104.4 161.8,106.6 154.4,108.4 146.3,109.9 137.4,111 128.1,111.6 118.3,111.9 108.4,111.7 98.5,111 88.7,109.9 79.2,108.4 70.2,106.6 61.9,104.4 54.3,101.9 47.6,99.1 41.9,96.1 37.4,92.9 34,89.7 31.9,86.3 31.1,83 31.6,79.7 33.3,76.5 36.4,73.5 40.6,70.8 46,68.2 52.4,66 59.8,64.2 67.9,62.7 76.8,61.6 86.1,61 95.9,60.7 105.8,61 115.7,61.6 125.5,62.7 135,64.2 143.9,66 152.3,68.2 159.9,70.7 166.6,73.5 172.3,76.5 176.8,79.7 180.2,83 182.3,86.3 183.1,89.6 M184.9,101.2 184.4,104.5 182.6,107.7 179.5,110.8 175.2,113.6 169.8,116.1 163.2,118.4 155.8,120.3 147.5,121.8 138.5,122.9 129,123.5 119.1,123.8 109.1,123.5 99,122.9 89,121.8 79.4,120.3 70.3,118.4 61.8,116.2 54.1,113.6 47.3,110.8 41.5,107.7 36.9,104.5 33.5,101.2 31.4,97.8 30.5,94.4 31,91.1 32.8,87.9 35.9,84.8 40.2,82 45.6,79.5 52.2,77.2 59.6,75.3 67.9,73.8 76.9,72.7 86.4,72.1 96.3,71.8 106.3,72.1 116.4,72.7 126.4,73.8 136,75.3 145.1,77.2 153.6,79.4 161.3,82 168.1,84.8 173.9,87.9 178.5,91.1 181.9,94.4 184,97.8 184.9,101.2 M184.3,112.6 183.8,115.9 182.1,119.1 179,122.1 174.8,124.8 169.4,127.4 163,129.6 155.6,131.4 147.5,132.9 138.6,134 129.3,134.6 119.5,134.9 109.6,134.6 99.7,134 89.9,132.9 80.4,131.4 71.5,129.6 63.1,127.4 55.5,124.9 48.8,122.1 43.1,119.1 38.6,115.9 35.2,112.6 33.1,109.3 32.3,106 32.8,102.7 34.5,99.5 37.6,96.5 41.8,93.7 47.2,91.2 53.6,89 61,87.2 69.1,85.7 78,84.6 87.3,84 97.1,83.7 107,83.9 116.9,84.6 126.7,85.7 136.2,87.2 145.2,89 153.5,91.2 161.1,93.7 167.8,96.5 173.5,99.5 178,102.7 181.4,105.9 183.5,109.3 184.3,112.6 M181.4,123.6 181,126.7 179.3,129.8 176.4,132.6 172.3,135.3 167.2,137.7 161.1,139.8 154,141.6 146.3,143 137.8,144 128.9,144.6 119.6,144.8 110.2,144.6 100.7,144 91.3,143 82.3,141.6 73.7,139.8 65.8,137.7 58.5,135.3 52.1,132.6 46.7,129.8 42.4,126.8 39.2,123.6 37.2,120.5 36.4,117.3 36.8,114.1 38.5,111.1 41.4,108.3 45.4,105.6 50.6,103.2 56.7,101.1 63.7,99.3 71.5,97.9 80,96.9 88.9,96.3 98.2,96 107.6,96.3 117.1,96.9 126.4,97.9 135.5,99.3 144,101.1 152,103.2 159.3,105.6 165.7,108.2 171.1,111.1 175.4,114.1 178.6,117.2 180.6,120.4 181.4,123.6 M176.3,133.8 175.9,136.7 174.3,139.5 171.6,142.1 167.9,144.6 163.2,146.8 157.5,148.7 151.1,150.4 143.9,151.7 136.1,152.6 127.9,153.2 119.3,153.4 110.6,153.2 101.9,152.6 93.3,151.7 84.9,150.4 77,148.7 69.7,146.8 63,144.6 57.1,142.1 52.1,139.5 48.1,136.7 45.2,133.8 43.3,130.9 42.6,128 43,125.1 44.6,122.3 47.2,119.7 51,117.2 55.7,115 61.4,113.1 67.8,111.4 75,110.1 82.8,109.2 91,108.6 99.6,108.4 108.3,108.6 117,109.2 125.6,110.1 133.9,111.4 141.8,113.1 149.2,115 155.9,117.2 161.8,119.7 166.7,122.3 170.7,125.1 173.7,128 175.5,130.9 176.3,133.8 M169.1,142.9 168.7,145.5 167.3,148 165,150.3 161.7,152.4 157.5,154.4 152.5,156.1 146.7,157.6 140.4,158.7 133.5,159.6 126.2,160.1 118.7,160.2 111,160.1 103.2,159.6 95.6,158.7 88.3,157.6 81.3,156.1 74.8,154.4 68.9,152.5 63.7,150.3 59.3,148 55.7,145.5 53.1,143 51.5,140.4 50.8,137.8 51.2,135.2 52.6,132.7 54.9,130.4 58.2,128.3 62.4,126.3 67.4,124.6 73.1,123.1 79.5,122 86.4,121.1 93.6,120.6 101.2,120.5 108.9,120.6 116.6,121.1 124.2,122 131.6,123.1 138.6,124.6 145.1,126.3 151,128.2 156.2,130.4 160.6,132.7 164.2,135.2 166.8,137.7 168.4,140.3 169.1,142.9 M160,150.7 159.7,152.8 158.5,154.9 156.5,156.8 153.8,158.7 150.2,160.3 146.1,161.7 141.3,163 135.9,163.9 130.2,164.6 124,165.1 117.7,165.2 111.2,165.1 104.8,164.6 98.4,163.9 92.2,163 86.3,161.8 80.9,160.3 75.9,158.7 71.5,156.9 67.8,154.9 64.9,152.8 62.7,150.7 61.3,148.5 60.8,146.3 61.1,144.2 62.2,142.1 64.2,140.2 67,138.4 70.5,136.7 74.7,135.3 79.5,134.1 84.8,133.1 90.6,132.4 96.7,132 103,131.8 109.5,132 116,132.4 122.4,133.1 128.5,134.1 134.4,135.3 139.9,136.7 144.8,138.3 149.2,140.2 152.9,142.1 155.9,144.2 158.1,146.3 159.4,148.5 160,150.7 M149.3,156.8 149.1,158.5 148.2,160.1 146.6,161.6 144.5,163 141.7,164.3 138.5,165.4 134.7,166.4 130.6,167.1 126.1,167.7 121.4,168 116.4,168.1 111.4,168 106.3,167.7 101.4,167.1 96.6,166.4 92,165.4 87.8,164.3 83.9,163 80.5,161.6 77.6,160.1 75.3,158.5 73.6,156.8 72.5,155.1 72.1,153.4 72.4,151.8 73.3,150.2 74.8,148.6 77,147.2 79.7,146 82.9,144.8 86.7,143.9 90.8,143.1 95.3,142.6 100.1,142.3 105,142.2 110,142.3 115.1,142.6 120,143.1 124.9,143.9 129.4,144.8 133.7,145.9 137.5,147.2 140.9,148.6 143.8,150.2 146.1,151.8 147.8,153.4 148.9,155.1 149.3,156.8 M137.4,161.2 137.2,162.3 136.6,163.4 135.5,164.4 134.1,165.4 132.2,166.3 130,167 127.4,167.7 124.6,168.2 121.5,168.6 118.2,168.8 114.9,168.9 111.4,168.8 108,168.6 104.6,168.2 101.3,167.7 98.2,167.1 95.3,166.3 92.6,165.4 90.3,164.4 88.3,163.4 86.8,162.3 85.6,161.2 84.9,160 84.6,158.9 84.7,157.7 85.4,156.6 86.4,155.6 87.9,154.6 89.7,153.7 92,153 94.5,152.3 97.4,151.8 100.4,151.4 103.7,151.2 107.1,151.1 110.5,151.2 114,151.4 117.4,151.8 120.6,152.3 123.8,153 126.7,153.7 129.3,154.6 131.6,155.6 133.6,156.6 135.2,157.7 136.3,158.8 137.1,160 137.4,161.2 M124.5,163.6 124.4,164.2 124.1,164.7 123.6,165.2 122.8,165.7 121.9,166.2 120.8,166.6 119.5,166.9 118,167.2 116.5,167.3 114.8,167.5 113.1,167.5 111.4,167.5 109.6,167.3 107.9,167.2 106.2,166.9 104.6,166.6 103.2,166.2 101.8,165.7 100.6,165.2 99.6,164.7 98.8,164.2 98.2,163.6 97.9,163 97.7,162.4 97.8,161.8 98.1,161.3 98.7,160.7 99.4,160.2 100.4,159.8 101.5,159.4 102.8,159.1 104.2,158.8 105.8,158.6 107.4,158.5 109.1,158.5 110.9,158.5 112.6,158.6 114.4,158.8 116,159.1 117.6,159.4 119.1,159.8 120.4,160.2 121.6,160.7 122.6,161.3 123.4,161.8 124,162.4 124.4,163 124.5,163.6 M130.3,38.6 141.6,46.1 150.7,55.8 157.2,67.3 160.7,80.2 161.3,93.7 158.9,107.4 154.2,120.6 147.5,132.9 139.5,143.8 131.2,153 123.2,160.2 116.4,165.2 111.4,168 108.7,168.6 M128.7,40.2 138.4,48.4 145.7,58.6 150.1,70.4 151.6,83.2 150.2,96.6 146.3,109.9 140.3,122.7 133.1,134.4 125.2,144.8 117.6,153.4 111,160.1 106,164.7 103.4,167.4 103.3,168 M126.1,41.7 133.8,50.3 138.9,60.8 141.1,72.7 140.4,85.5 137.2,98.5 131.8,111.4 125.1,123.7 117.6,134.8 110.2,144.6 103.6,152.8 98.7,159.1 95.9,163.6 95.6,166.2 98.2,167.1 M122.4,42.9 127.9,51.9 130.6,62.5 130.5,74.3 127.7,86.8 122.8,99.5 116.4,111.9 109.1,123.5 101.7,134.2 95.1,143.4 89.9,151.2 86.8,157.3 86.3,161.8 88.6,164.5 93.7,165.8 M118,43.8 121,52.9 121.2,63.5 118.8,75.1 114.1,87.2 107.8,99.3 100.5,111.2 93,122.3 86.1,132.4 80.6,141.2 77,148.7 76,154.8 77.8,159.4 82.5,162.5 89.9,164.2 M113,44.3 113.4,53.4 111.1,63.8 106.5,75 100.1,86.6 92.7,98.2 84.9,109.4 77.5,119.9 71.5,129.6 67.3,138.1 65.6,145.5 66.7,151.6 70.7,156.5 77.6,160.1 87,162.5 M107.7,44.5 105.4,53.3 100.7,63.3 94.2,74 86.4,85 78.2,96 70.2,106.6 63.4,116.6 58.4,125.9 55.8,134.3 56.1,141.6 59.3,148 65.4,153.3 74.2,157.5 85.2,160.7 M102.1,44.2 97.3,52.7 90.5,62.2 82.4,72.2 73.6,82.5 64.9,92.9 57.2,102.9 51.3,112.5 47.6,121.5 46.7,129.8 48.9,137.3 54,144 62,149.8 72.4,154.8 84.6,158.9 M96.7,43.6 89.6,51.5 81,60.3 71.6,69.7 62.1,79.3 53.5,89 46.4,98.5 41.5,107.7 39.4,116.6 40.3,124.9 44.3,132.7 51.2,139.8 60.8,146.3 72.3,152.1 85.1,157 M91.6,42.6 82.6,49.9 72.5,57.9 62.2,66.5 52.6,75.4 44.3,84.5 38.2,93.6 34.7,102.5 34.2,111.3 36.9,119.8 42.6,128 51,135.7 61.7,142.9 73.8,149.5 86.7,155.4 M87.1,41.4 76.5,47.8 65.4,55.1 54.8,62.9 45.4,71.1 37.9,79.6 33,88.3 31.1,97.1 32.3,106 36.6,114.8 43.8,123.4 53.4,131.8 64.7,139.8 77,147.2 89.3,153.9 M83.3,39.8 71.6,45.4 60.1,51.8 49.6,58.9 40.8,66.5 34.5,74.5 31.1,83 30.8,91.8 33.7,100.8 39.5,109.9 47.9,119.2 58.2,128.3 69.7,137 81.6,145.3 93,152.7 M80.5,38.1 68.2,42.8 56.7,48.4 46.8,54.7 39.1,61.8 34.3,69.5 32.5,77.8 33.9,86.6 38.3,95.9 45.4,105.6 54.7,115.4 65.3,125.2 76.5,134.8 87.5,143.7 97.4,151.8 M78.7,36.3 66.4,40.1 55.4,44.9 46.6,50.6 40.3,57.2 37.1,64.7 37.1,73 40.2,82 46,91.7 54.1,101.9 63.8,112.4 74.3,122.9 84.8,133.1 94.4,142.7 102.4,151.3 M78,34.4 66.2,37.4 56.3,41.5 48.9,46.7 44.4,53 43.1,60.3 44.8,68.7 49.4,78.1 56.5,88.2 65.2,99 75,110.1 84.9,121.3 94.2,132.1 102,142.2 107.7,151.1 M78.5,32.6 67.8,34.9 59.4,38.4 53.7,43.2 51.2,49.2 51.8,56.6 55.3,65.2 61.2,75 69.1,85.7 78.2,97.1 87.7,108.8 96.6,120.5 104.3,131.8 110,142.3 113.3,151.4 M80.1,31 70.9,32.6 64.4,35.6 60.8,40.1 60.4,46.2 62.9,53.7 67.9,62.7 75.1,72.9 83.6,84.2 92.6,96.1 101.3,108.4 108.9,120.6 114.7,132.3 118.1,142.9 118.7,152 M82.8,29.5 75.6,30.6 71.2,33.3 69.9,37.8 71.5,43.9 75.9,51.8 82.3,61.2 90.3,71.9 99,83.7 107.6,96.3 115.3,109 121.2,121.6 124.9,133.4 125.8,144.1 123.8,153 M86.4,28.3 81.5,29.1 79.5,31.7 80.5,36.2 84.2,42.6 90.2,50.8 97.8,60.8 106.3,72.1 114.9,84.4 122.7,97.4 129,110.6 133,123.4 134.4,135.3 132.8,145.7 128.3,154.2 M90.8,27.4 88.4,28 88.9,30.7 92.2,35.4 97.8,42.2 105.2,51 113.7,61.4 122.4,73.3 130.5,86.2 137.2,99.6 141.8,113.1 143.8,125.9 142.9,137.7 138.9,147.8 132.1,155.8 M95.8,26.9 96,27.5 99,30.4 104.4,35.5 111.8,42.8 120.3,52.2 129.3,63.2 137.9,75.7 145.2,89 150.5,102.7 153.3,116.3 153.2,129.1 150,140.5 143.8,150.2 134.9,157.5 M101.2,26.7 104,27.6 109.4,30.9 116.7,36.5 125.5,44.4 134.8,54.4 143.9,66 152,79 158.2,92.7 161.9,106.6 162.8,120.2 160.6,132.7 155.3,143.8 147.2,152.8 136.7,159.3 M106.7,27 112,28.2 119.5,32 128.6,38.3 138.4,46.9 148.1,57.5 157,69.7 164.1,83.1 169,97.1 171.1,111.1 170,124.5 165.8,136.7 158.7,147.2 149,155.5 137.4,161.2 M112.1,27.6 119.8,29.4 129.1,33.8 139.4,40.8 149.8,50.1 159.6,61.3 167.8,74.1 173.9,87.9 177.2,102 177.5,116 174.6,129.1 168.6,140.9 160,150.7 149.2,158.2 136.9,163 M117.2,28.5 126.8,31.1 137.6,36.2 148.7,44 159.3,54 168.7,65.8 176,79 180.7,93.1 182.4,107.3 180.9,121.1 176.3,133.8 168.8,145 159.1,154.1 147.6,160.7 135.3,164.6 M121.7,29.8 132.9,33.1 144.7,39.1 156.1,47.6 166.5,58.3 175.1,70.7 181.2,84.3 184.3,98.5 184.3,112.6 181.1,126.1 175.1,138.4 166.5,148.9 156,157.2 144.5,163 132.6,166.1 M125.5,31.4 137.8,35.5 150,42.3 161.4,51.6 171.1,62.9 178.5,75.8 183.1,89.6 184.6,103.8 182.9,117.8 178.3,130.9 171,142.6 161.7,152.4 151,160 139.8,165 129,167.3 M128.4,33.1 141.2,38.1 153.4,45.8 164.2,55.8 172.8,67.6 178.8,80.8 181.7,94.8 181.5,109 178.3,122.6 172.3,135.3 164.2,146.4 154.6,155.5 144.2,162.3 133.9,166.5 124.6,168.2 M130.2,34.9 143,40.8 154.6,49.3 164.4,59.9 171.6,72.2 175.9,85.7 177.1,99.7 175.2,113.6 170.6,126.9 163.6,139 155,149.4 145.5,157.8 135.9,163.9 127,167.6 119.6,168.7 M130.8,36.7 143.1,43.5 153.7,52.7 162,63.8 167.5,76.4 170,90 169.4,103.9 166,117.5 160.1,130.4 152.5,141.9 143.9,151.7 134.9,159.4 126.5,164.9 119.4,168.1 114.2,168.9" fill="none" stroke="#eb9a38" stroke-width="0.45" stroke-opacity="0.62"/>
<path d="M179.4,130.5 176.6,135.9 173.3,140.9 169.5,145.7 165.2,150.1 160.5,154.1 155.4,157.7 149.9,160.8 144.1,163.4 138.1,165.6 131.7,167.2 125.3,168.3 118.6,168.8 111.9,168.8 105.2,168.3 98.5,167.3 91.8,165.7 85.3,163.6 78.9,161 72.8,157.9 66.9,154.3 61.3,150.3 56.1,146 51.3,141.2 46.9,136.2 43,130.8 39.6,125.2 36.6,119.3 34.3,113.4 32.5,107.3 31.2,101.1 30.6,94.9 30.5,88.7 31,82.6 32.1,76.6 33.8,70.8 36,65.1 38.8,59.7 42.1,54.7 45.9,49.9 50.2,45.5 54.9,41.5 60,37.9 65.5,34.8 71.3,32.2 77.3,30 83.7,28.4 90.1,27.3 96.8,26.8 103.5,26.8 110.2,27.3 116.9,28.3 123.6,29.9 130.1,32 136.5,34.6 142.6,37.7 148.5,41.3 154.1,45.3 159.3,49.6 164.1,54.4 168.5,59.4 172.4,64.8 175.8,70.4 178.8,76.3 181.1,82.2 182.9,88.3 184.2,94.5 184.8,100.7 184.9,106.9 184.4,113 183.3,119 181.6,124.8 179.4,130.5Z" fill="none" stroke="#eb9a38" stroke-width="0.8" stroke-opacity="0.85"/>
<path d="M177.6,129.7 174.9,134.9 171.7,139.9 168,144.5 163.8,148.8 159.2,152.7 154.2,156.2 148.9,159.2 143.2,161.8 137.3,163.9 131.1,165.4 124.8,166.5 118.4,167.1 111.8,167.1 105.2,166.6 98.7,165.5 92.2,164 85.8,161.9 79.6,159.4 73.7,156.4 67.9,152.9 62.5,149 57.4,144.8 52.7,140.1 48.4,135.2 44.6,130 41.3,124.5 38.4,118.8 36.1,113 34.3,107 33.1,101 32.5,94.9 32.4,88.9 32.9,83 34,77.1 35.6,71.4 37.8,65.9 40.5,60.7 43.7,55.7 47.4,51.1 51.6,46.8 56.2,42.9 61.2,39.4 66.5,36.4 72.2,33.8 78.1,31.7 84.3,30.2 90.6,29.1 97,28.5 103.6,28.5 110.2,29 116.7,30.1 123.2,31.6 129.6,33.7 135.8,36.2 141.7,39.2 147.5,42.7 152.9,46.6 158,50.8 162.7,55.5 167,60.4 170.8,65.6 174.1,71.1 177,76.8 179.3,82.6 181.1,88.6 182.3,94.6 182.9,100.7 183,106.7 182.5,112.6 181.4,118.5 179.8,124.2 177.6,129.7Z M175.8,128.8 173.2,134 170,138.8 166.4,143.3 162.4,147.5 157.9,151.3 153,154.7 147.8,157.6 142.3,160.1 136.5,162.2 130.5,163.7 124.4,164.8 118.1,165.3 111.7,165.3 105.3,164.8 98.9,163.8 92.6,162.3 86.4,160.3 80.4,157.8 74.5,154.9 68.9,151.5 63.7,147.7 58.7,143.6 54.1,139.1 50,134.2 46.2,129.1 43,123.8 40.2,118.3 37.9,112.6 36.2,106.8 35,100.9 34.4,95 34.3,89.1 34.8,83.3 35.9,77.6 37.5,72.1 39.6,66.8 42.2,61.6 45.4,56.8 49,52.3 53,48.1 57.5,44.3 62.4,40.9 67.6,38 73.1,35.5 78.9,33.4 84.9,31.9 91,30.8 97.3,30.3 103.7,30.3 110.1,30.8 116.5,31.8 122.8,33.3 129,35.3 135,37.8 140.9,40.7 146.5,44.1 151.7,47.9 156.7,52 161.3,56.5 165.4,61.4 169.2,66.5 172.4,71.8 175.2,77.3 177.5,83 179.2,88.8 180.4,94.7 181,100.6 181.1,106.5 180.6,112.3 179.5,118 177.9,123.5 175.8,128.8Z" fill="none" stroke="#eb9a38" stroke-width="0.45" stroke-opacity="0.85"/>
<path d="M243,97 242,100.8 240.5,104.5 238.5,108.1 236,111.4 233,114.5 229.7,117.4 225.9,120.1 221.7,122.4 217.2,124.5 212.4,126.3 207.3,127.7 202,128.8 196.5,129.6 190.8,130 185,130.1 179.2,129.8 173.3,129.1 167.4,128.1 161.6,126.8 156,125.2 150.4,123.2 145.1,120.9 140,118.4 135.2,115.6 130.7,112.5 126.5,109.3 122.8,105.8 119.4,102.2 116.4,98.4 114,94.5 111.9,90.6 110.4,86.5 109.4,82.5 108.9,78.5 108.9,74.5 109.4,70.6 110.4,66.8 111.9,63.1 113.9,59.5 116.4,56.2 119.4,53.1 122.7,50.2 126.5,47.5 130.7,45.2 135.2,43.1 140,41.3 145.1,39.9 150.4,38.8 155.9,38 161.6,37.6 167.4,37.5 173.2,37.8 179.1,38.5 185,39.5 190.8,40.8 196.4,42.4 202,44.4 207.3,46.7 212.4,49.2 217.2,52 221.7,55.1 225.9,58.3 229.6,61.8 233,65.4 236,69.2 238.4,73.1 240.5,77 242,81.1 243,85.1 243.5,89.1 243.5,93.1 243,97Z" fill="#90ccf0" fill-opacity="0.06"/>
<path d="M195.2,45.7 200.4,47.3 205.4,49.2 210.3,51.3 214.9,53.6 219.2,56.1 223.3,58.7 227.1,61.6 230.5,64.6 233.5,67.7 236.2,71 238.5,74.3 240.4,77.7 241.8,81.1 242.8,84.5 243.4,88 243.5,91.4 243.2,94.7 242.4,98 241.2,101.2 239.6,104.3 237.5,107.2 235.1,110 232.2,112.6 229,115 225.4,117.2 221.5,119.2 217.3,121 212.8,122.5 208.1,123.8 203.2,124.7 M183.5,43.8 189.6,45.3 195.6,47.3 201.4,49.5 207,52 212.3,54.8 217.3,57.9 221.9,61.2 226.2,64.6 230,68.3 233.4,72.1 236.3,75.9 238.6,79.9 240.4,83.9 241.7,87.8 242.3,91.8 242.5,95.7 242,99.4 241,103.1 239.4,106.5 237.2,109.8 234.6,112.9 231.4,115.7 227.7,118.2 223.6,120.4 219.1,122.3 214.2,123.9 209,125.1 203.5,126 197.8,126.5 191.9,126.6 M193.5,48.2 198.3,50.4 202.9,52.7 207.4,55.3 211.7,58.1 215.8,61.1 219.6,64.2 223.1,67.4 226.2,70.7 229.1,74.2 231.6,77.7 233.7,81.2 235.5,84.7 236.9,88.3 237.8,91.8 238.4,95.3 238.5,98.6 238.2,101.9 237.6,105.1 236.5,108.1 235,111 233.1,113.7 230.8,116.1 228.2,118.4 225.3,120.5 222,122.3 218.4,123.8 214.5,125.1 210.4,126.1 206,126.8 201.5,127.2 M181.6,44.9 186.8,47 191.8,49.5 196.7,52.3 201.4,55.4 205.9,58.7 210.2,62.2 214.1,65.9 217.7,69.8 221,73.7 223.9,77.8 226.3,81.9 228.4,86.1 230,90.2 231.1,94.3 231.7,98.2 231.9,102.1 231.5,105.8 230.7,109.3 229.4,112.5 227.7,115.6 225.5,118.3 222.9,120.8 219.9,122.9 216.5,124.7 212.8,126.2 208.7,127.2 204.4,127.9 199.8,128.2 195,128.2 190,127.7 M188.1,50 191.7,52.6 195.2,55.3 198.6,58.3 201.9,61.4 204.9,64.7 207.8,68.1 210.5,71.6 213,75.2 215.2,78.9 217.1,82.5 218.8,86.2 220.2,89.9 221.3,93.5 222.1,97.1 222.6,100.6 222.8,103.9 222.7,107.2 222.2,110.2 221.5,113.2 220.5,115.9 219.2,118.4 217.6,120.6 215.7,122.6 213.5,124.4 211.1,125.9 208.5,127.1 205.7,128 202.6,128.7 199.4,129 196.1,129.1 M178.1,45.6 181.4,48.1 184.7,50.9 187.8,54.1 190.9,57.4 193.8,61 196.6,64.8 199.2,68.8 201.7,72.9 203.8,77.1 205.8,81.3 207.5,85.6 208.9,89.9 210.1,94.1 210.9,98.2 211.5,102.2 211.7,106 211.6,109.6 211.3,113.1 210.6,116.2 209.6,119.1 208.4,121.7 206.8,123.9 205,125.8 203,127.4 200.7,128.5 198.2,129.3 195.5,129.7 192.6,129.6 189.6,129.2 186.5,128.4 M179.9,50.8 181.8,53.6 183.5,56.5 185.3,59.7 187,62.9 188.6,66.4 190.1,69.9 191.6,73.5 192.9,77.2 194.1,81 195.2,84.8 196.2,88.5 197.1,92.2 197.8,95.9 198.4,99.5 198.8,103 199.1,106.3 199.2,109.6 199.1,112.6 199,115.4 198.6,118.1 198.1,120.5 197.5,122.7 196.7,124.6 195.8,126.2 194.8,127.6 193.6,128.6 192.4,129.4 191,129.9 189.5,130 187.9,129.9 M173.6,45.7 174.5,48.3 175.4,51.2 176.3,54.4 177.2,57.8 178.1,61.5 179,65.4 179.9,69.4 180.7,73.5 181.5,77.8 182.3,82 183,86.3 183.6,90.6 184.2,94.8 184.7,99 185.1,103 185.5,106.8 185.8,110.4 186,113.8 186.1,116.9 186.1,119.8 186,122.3 185.9,124.5 185.6,126.4 185.3,127.9 184.9,129 184.5,129.7 183.9,130 183.3,129.9 182.7,129.4 181.9,128.6 M170.4,50.5 170.2,53.2 170,56.1 169.8,59.2 169.7,62.4 169.6,65.8 169.5,69.2 169.5,72.8 169.6,76.5 169.7,80.2 169.8,83.9 170,87.7 170.2,91.4 170.4,95 170.7,98.6 171.1,102.1 171.4,105.4 171.8,108.7 172.3,111.7 172.7,114.6 173.2,117.3 173.7,119.7 174.2,121.9 174.7,123.8 175.2,125.5 175.8,126.9 176.3,128.1 176.9,128.9 177.4,129.4 177.9,129.7 178.4,129.6 M168.7,45.3 167.1,47.6 165.5,50.3 164.1,53.3 162.7,56.5 161.5,60 160.3,63.7 159.4,67.5 158.5,71.5 157.9,75.6 157.3,79.8 157,84 156.8,88.2 156.8,92.3 156.9,96.4 157.2,100.4 157.7,104.3 158.4,107.9 159.2,111.4 160.1,114.6 161.2,117.5 162.4,120.2 163.7,122.5 165.1,124.5 166.7,126.2 168.3,127.5 170,128.4 171.7,128.9 173.5,129 175.3,128.8 177.1,128.1 M161.3,49.1 159,51.5 156.8,54.1 154.8,56.9 152.9,59.8 151.2,63 149.6,66.2 148.2,69.6 147,73.1 146,76.6 145.2,80.2 144.6,83.8 144.2,87.4 144,91 144,94.6 144.2,98 144.7,101.4 145.4,104.7 146.2,107.8 147.3,110.7 148.5,113.5 150,116.1 151.6,118.5 153.4,120.6 155.3,122.5 157.4,124.2 159.6,125.5 161.9,126.6 164.3,127.4 166.7,128 169.3,128.2 M164.4,44.3 160.6,46.2 156.8,48.4 153.3,50.9 149.9,53.7 146.8,56.8 143.9,60 141.3,63.5 139,67.2 137,71 135.4,74.9 134.1,78.9 133.2,83 132.6,87 132.4,91.1 132.6,95 133.2,98.9 134.2,102.6 135.5,106.2 137.2,109.5 139.2,112.7 141.5,115.6 144.1,118.2 147.1,120.5 150.2,122.6 153.6,124.2 157.2,125.6 160.9,126.5 164.8,127.1 168.8,127.3 172.8,127.2 M154,46.9 150.1,48.8 146.4,50.9 142.9,53.2 139.6,55.8 136.6,58.5 133.8,61.4 131.3,64.4 129.1,67.6 127.2,70.9 125.6,74.2 124.4,77.6 123.5,81.1 123,84.6 122.8,88.1 122.9,91.5 123.5,94.9 124.3,98.2 125.6,101.5 127.1,104.6 129,107.5 131.2,110.3 133.7,113 136.4,115.4 139.5,117.7 142.8,119.7 146.3,121.5 150,123 153.8,124.2 157.8,125.2 162,126 M161.5,43 156.1,44.3 150.8,45.8 145.8,47.7 141,49.9 136.6,52.4 132.5,55.1 128.7,58.1 125.4,61.4 122.5,64.8 120.1,68.4 118.2,72.1 116.7,75.9 115.8,79.8 115.4,83.7 115.6,87.7 116.2,91.6 117.4,95.4 119.1,99.1 121.3,102.7 123.9,106.1 127,109.4 130.6,112.4 134.5,115.1 138.8,117.6 143.4,119.8 148.3,121.7 153.5,123.3 158.8,124.5 164.3,125.4 169.9,125.9 M149.8,44.2 145.1,45.5 140.5,47.1 136.1,48.8 132,50.9 128.3,53.1 124.8,55.5 121.7,58.2 118.9,61 116.5,63.9 114.5,67 112.9,70.2 111.8,73.5 111,76.8 110.7,80.2 110.8,83.6 111.4,87.1 112.4,90.5 113.8,93.8 115.7,97.1 117.9,100.3 120.5,103.4 123.5,106.4 126.8,109.2 130.5,111.8 134.5,114.3 138.7,116.5 143.2,118.6 147.9,120.4 152.8,122 157.9,123.3 M160.3,41.7 154.3,42.1 148.5,43 142.9,44.2 137.6,45.7 132.6,47.6 128.1,49.8 123.9,52.2 120.2,55 116.9,58 114.2,61.2 112,64.6 110.4,68.2 109.4,71.9 108.9,75.8 109,79.6 109.7,83.6 110.9,87.5 112.8,91.4 115.1,95.2 118,99 121.5,102.6 125.3,106 129.7,109.3 134.4,112.3 139.5,115.1 144.9,117.6 150.6,119.8 156.5,121.7 162.5,123.3 168.7,124.5 M149.6,41.5 144.7,42.2 140.1,43.2 135.7,44.5 131.5,46 127.7,47.7 124.2,49.7 121,51.9 118.2,54.4 115.8,57 113.8,59.8 112.2,62.8 111,65.9 110.2,69.1 109.9,72.4 110.1,75.8 110.6,79.3 111.6,82.7 113.1,86.2 114.9,89.7 117.2,93.1 119.8,96.5 122.8,99.8 126.2,103 129.9,106 133.9,108.9 138.2,111.7 142.7,114.2 147.5,116.6 152.5,118.7 157.6,120.6 M161.2,40.4 155.6,40.2 150.3,40.4 145.1,41 140.2,41.9 135.7,43.2 131.4,44.9 127.6,46.9 124.2,49.2 121.2,51.8 118.7,54.7 116.7,57.8 115.3,61.2 114.3,64.8 113.9,68.5 114,72.3 114.7,76.3 115.9,80.3 117.6,84.4 119.8,88.4 122.5,92.4 125.7,96.4 129.3,100.2 133.4,103.9 137.8,107.4 142.5,110.7 147.5,113.8 152.8,116.6 158.2,119.1 163.9,121.3 169.6,123.2 M153.2,39.3 149.2,39.6 145.3,40.1 141.6,40.9 138.2,41.9 135,43.3 132.1,44.9 129.5,46.8 127.2,49 125.2,51.3 123.6,53.9 122.3,56.7 121.3,59.6 120.7,62.7 120.5,66 120.7,69.4 121.2,72.8 122.1,76.4 123.4,80 125,83.6 126.9,87.2 129.2,90.8 131.8,94.4 134.7,97.8 137.8,101.2 141.2,104.5 144.9,107.6 148.7,110.6 152.7,113.4 156.9,116 161.2,118.4 M163.9,39.5 159.8,38.8 155.8,38.5 152,38.6 148.4,39.2 145.1,40 142,41.3 139.2,43 136.7,45 134.6,47.3 132.8,49.9 131.4,52.9 130.4,56.1 129.8,59.5 129.6,63.2 129.8,67 130.4,71 131.4,75.1 132.8,79.3 134.5,83.5 136.7,87.7 139.1,91.9 141.9,96 145,100 148.3,103.8 151.9,107.5 155.7,111 159.7,114.3 163.8,117.2 168,119.9 172.3,122.3 M160.1,38 157.6,37.9 155.2,38.1 153,38.7 150.8,39.5 148.9,40.6 147.1,42 145.6,43.7 144.2,45.6 143.1,47.8 142.1,50.3 141.4,52.9 141,55.8 140.7,58.8 140.7,62.1 140.9,65.4 141.4,68.9 142.1,72.5 143,76.1 144.2,79.8 145.5,83.6 147.1,87.3 148.8,91 150.7,94.7 152.8,98.3 155.1,101.8 157.5,105.2 160,108.4 162.6,111.5 165.4,114.4 168.1,117 M168.1,39 166.1,38.2 164.2,37.7 162.5,37.6 160.8,37.9 159.3,38.6 157.9,39.7 156.7,41.2 155.7,43 154.8,45.2 154.1,47.8 153.6,50.6 153.3,53.8 153.2,57.2 153.3,60.8 153.6,64.6 154.1,68.6 154.8,72.7 155.7,77 156.7,81.2 157.9,85.5 159.3,89.8 160.8,94.1 162.5,98.2 164.3,102.2 166.1,106.1 168.1,109.8 170.1,113.2 172.2,116.4 174.3,119.3 176.5,121.9 M169.1,37.7 168.6,37.6 168.1,37.7 167.7,38.2 167.3,39 167,40.1 166.7,41.4 166.5,43.1 166.4,45 166.3,47.1 166.3,49.6 166.4,52.2 166.5,55 166.7,58.1 167,61.3 167.3,64.6 167.7,68.1 168.1,71.7 168.6,75.4 169.1,79.1 169.7,82.9 170.3,86.6 171,90.4 171.7,94.1 172.4,97.7 173.2,101.3 174,104.7 174.7,108 175.5,111.1 176.3,114 177.2,116.8 M172.9,39.2 173.4,38.4 174,38 174.6,38 175.2,38.4 175.8,39.1 176.5,40.3 177.1,41.8 177.7,43.8 178.3,46 178.9,48.6 179.4,51.5 180,54.6 180.5,58 180.9,61.7 181.3,65.5 181.7,69.5 182,73.6 182.3,77.8 182.5,82.1 182.7,86.3 182.8,90.6 182.9,94.8 182.9,98.9 182.8,102.8 182.7,106.6 182.5,110.2 182.3,113.6 182,116.7 181.7,119.5 181.3,122 M178.7,38.6 180.2,38.6 181.8,39 183.3,39.6 184.7,40.6 186.1,41.8 187.4,43.3 188.7,45.1 189.9,47.1 190.9,49.4 191.9,51.9 192.8,54.6 193.6,57.5 194.2,60.6 194.7,63.8 195.2,67.2 195.4,70.7 195.6,74.2 195.6,77.9 195.5,81.5 195.3,85.2 194.9,88.9 194.5,92.5 193.9,96.1 193.1,99.6 192.3,103 191.4,106.3 190.3,109.4 189.2,112.3 188,115.1 186.7,117.6 M177.6,39.9 180.5,39.5 183.5,39.4 186.4,39.8 189.2,40.5 191.9,41.6 194.4,43 196.8,44.8 199,47 201,49.4 202.8,52.2 204.4,55.2 205.7,58.5 206.8,62 207.6,65.7 208.2,69.6 208.4,73.5 208.4,77.6 208.1,81.7 207.5,85.9 206.7,90 205.6,94 204.2,98 202.6,101.8 200.7,105.5 198.7,109 196.5,112.3 194,115.4 191.5,118.1 188.8,120.6 185.9,122.8 M187.1,40.4 190.5,40.9 193.8,41.6 197,42.7 200.1,44 203,45.5 205.7,47.3 208.3,49.4 210.6,51.7 212.7,54.2 214.5,56.8 216.1,59.7 217.4,62.7 218.5,65.9 219.3,69.2 219.8,72.6 220,76.1 219.9,79.6 219.5,83.1 218.8,86.6 217.9,90.2 216.7,93.7 215.2,97.1 213.4,100.4 211.4,103.6 209.2,106.7 206.7,109.6 204.1,112.4 201.3,115 198.3,117.3 195.1,119.5 M181.3,41 186.2,41.2 191,41.7 195.7,42.6 200.3,43.9 204.6,45.5 208.7,47.4 212.5,49.6 216,52.2 219.1,55 221.9,58 224.3,61.3 226.2,64.8 227.7,68.4 228.8,72.2 229.5,76.1 229.6,80 229.3,84 228.6,88 227.4,91.9 225.7,95.8 223.6,99.6 221.1,103.2 218.2,106.6 215,109.9 211.4,112.9 207.5,115.7 203.4,118.2 199,120.4 194.4,122.3 189.6,123.9 M192.9,43 197.6,44 202.2,45.2 206.6,46.8 210.8,48.5 214.7,50.6 218.4,52.8 221.8,55.2 224.9,57.8 227.7,60.6 230.2,63.6 232.3,66.7 234,69.9 235.3,73.2 236.3,76.5 236.8,79.9 237,83.4 236.7,86.8 236.1,90.2 235,93.6 233.6,96.9 231.7,100.1 229.5,103.3 227,106.2 224.1,109.1 220.9,111.7 217.4,114.2 213.6,116.5 209.6,118.6 205.4,120.4 200.9,122 M183.4,42.4 189.4,43.3 195.3,44.5 201,46.1 206.5,47.9 211.8,50.1 216.8,52.6 221.4,55.4 225.6,58.4 229.4,61.6 232.7,65.1 235.5,68.6 237.8,72.4 239.6,76.2 240.9,80 241.6,84 241.7,87.9 241.2,91.7 240.2,95.5 238.6,99.2 236.5,102.8 233.9,106.2 230.7,109.4 227.1,112.4 223.1,115.2 218.6,117.6 213.8,119.8 208.7,121.7 203.3,123.2 197.6,124.4 191.7,125.3 M183.7,43.1 183.6,43.5 183.4,43.9 182.9,44.3 182.3,44.6 181.5,44.9 180.5,45.2 179.4,45.4 178.1,45.6 176.8,45.7 175.3,45.7 173.9,45.7 172.3,45.6 170.8,45.5 169.3,45.3 167.8,45.1 166.5,44.8 165.2,44.5 164,44.2 162.9,43.8 162.1,43.4 161.3,43 160.8,42.5 160.5,42.1 160.3,41.7 160.4,41.2 160.6,40.8 161.1,40.5 161.7,40.1 162.5,39.8 163.5,39.6 164.6,39.3 165.9,39.2 167.2,39.1 168.7,39 170.2,39 171.7,39.1 173.2,39.2 174.7,39.4 176.2,39.6 177.6,39.9 178.8,40.2 180,40.6 181.1,41 181.9,41.4 182.7,41.8 183.2,42.2 183.5,42.7 183.7,43.1 M195.2,45.7 195.1,46.5 194.6,47.3 193.7,48.1 192.4,48.7 190.8,49.3 188.9,49.8 186.7,50.2 184.3,50.6 181.6,50.8 178.8,50.9 175.8,50.8 172.8,50.7 169.8,50.5 166.9,50.1 164,49.7 161.3,49.1 158.7,48.5 156.4,47.8 154.4,47.1 152.6,46.3 151.2,45.4 150.2,44.6 149.5,43.7 149.2,42.9 149.3,42 149.8,41.2 150.7,40.5 152,39.8 153.6,39.2 155.5,38.7 157.7,38.3 160.1,38 162.8,37.8 165.6,37.7 168.5,37.7 171.5,37.8 174.6,38.1 177.5,38.4 180.4,38.9 183.1,39.4 185.7,40 188,40.7 190,41.5 191.8,42.3 193.2,43.1 194.2,44 194.9,44.8 195.2,45.7 M206.1,49.4 206,50.7 205.2,51.8 203.9,52.9 202.1,53.9 199.8,54.8 196.9,55.5 193.7,56.1 190.1,56.6 186.3,56.9 182.1,57 177.8,57 173.5,56.8 169.1,56.4 164.7,55.9 160.5,55.3 156.5,54.5 152.8,53.6 149.4,52.6 146.4,51.5 143.9,50.3 141.8,49.1 140.3,47.8 139.3,46.5 138.9,45.3 139.1,44.1 139.8,42.9 141.1,41.9 142.9,40.9 145.3,40 148.1,39.2 151.3,38.6 154.9,38.2 158.8,37.9 162.9,37.7 167.2,37.8 171.6,38 176,38.3 180.3,38.8 184.5,39.5 188.5,40.3 192.2,41.2 195.6,42.2 198.6,43.3 201.1,44.5 203.2,45.7 204.7,46.9 205.7,48.2 206.1,49.4 M216.1,54.2 215.9,55.8 215,57.3 213.3,58.7 211,59.9 208,61.1 204.4,62 200.2,62.8 195.6,63.4 190.6,63.8 185.3,64 179.8,63.9 174.2,63.7 168.5,63.2 162.9,62.6 157.5,61.7 152.4,60.7 147.6,59.6 143.3,58.2 139.4,56.8 136.1,55.3 133.5,53.7 131.5,52.1 130.3,50.5 129.7,48.9 129.9,47.4 130.9,45.9 132.6,44.5 134.9,43.2 137.9,42.1 141.5,41.1 145.7,40.4 150.3,39.8 155.3,39.4 160.6,39.2 166.1,39.2 171.7,39.5 177.4,39.9 182.9,40.6 188.3,41.4 193.5,42.4 198.3,43.6 202.6,44.9 206.5,46.3 209.7,47.8 212.4,49.4 214.4,51 215.6,52.6 216.1,54.2 M225,59.9 224.7,61.8 223.6,63.6 221.6,65.2 218.8,66.7 215.2,68.1 210.9,69.2 206,70.1 200.5,70.8 194.5,71.3 188.2,71.5 181.6,71.5 174.9,71.2 168.2,70.6 161.5,69.9 155.1,68.9 149,67.7 143.3,66.3 138.1,64.7 133.5,63 129.6,61.2 126.4,59.3 124.1,57.4 122.6,55.5 122,53.6 122.2,51.7 123.3,50 125.3,48.3 128.1,46.8 131.7,45.5 136,44.3 141,43.4 146.5,42.7 152.4,42.2 158.7,42 165.3,42 172,42.3 178.7,42.9 185.4,43.7 191.8,44.7 197.9,45.9 203.6,47.3 208.8,48.8 213.4,50.5 217.3,52.3 220.5,54.2 222.8,56.1 224.3,58 225,59.9 M232.3,66.4 232,68.5 230.7,70.5 228.5,72.3 225.3,74 221.3,75.5 216.4,76.8 210.8,77.9 204.6,78.7 197.9,79.2 190.7,79.4 183.3,79.4 175.7,79.1 168.1,78.5 160.6,77.6 153.3,76.5 146.4,75.1 139.9,73.5 134.1,71.8 128.9,69.8 124.5,67.8 120.9,65.7 118.3,63.5 116.6,61.3 115.9,59.2 116.1,57.1 117.4,55.1 119.7,53.2 122.8,51.5 126.9,50 131.7,48.7 137.3,47.6 143.5,46.9 150.3,46.3 157.4,46.1 164.8,46.1 172.4,46.5 180,47.1 187.5,48 194.8,49.1 201.7,50.4 208.2,52 214.1,53.8 219.2,55.7 223.7,57.7 227.2,59.9 229.9,62 231.6,64.2 232.3,66.4 M237.9,73.3 237.6,75.6 236.2,77.8 233.8,79.8 230.3,81.6 225.9,83.3 220.7,84.7 214.6,85.8 207.9,86.7 200.6,87.3 192.8,87.5 184.8,87.5 176.5,87.1 168.3,86.4 160.1,85.5 152.2,84.3 144.7,82.8 137.7,81.1 131.3,79.2 125.7,77.1 120.9,74.9 117.1,72.6 114.2,70.2 112.4,67.9 111.6,65.5 111.9,63.2 113.3,61.1 115.7,59 119.1,57.2 123.5,55.5 128.8,54.1 134.9,53 141.6,52.1 148.9,51.6 156.7,51.3 164.7,51.4 173,51.7 181.2,52.4 189.4,53.3 197.3,54.6 204.8,56 211.8,57.8 218.1,59.7 223.8,61.7 228.5,64 232.4,66.3 235.3,68.6 237.1,71 237.9,73.3 M241.7,80.6 241.3,83 239.9,85.2 237.3,87.4 233.7,89.3 229.1,91 223.6,92.5 217.2,93.7 210.2,94.6 202.5,95.2 194.4,95.5 186,95.4 177.3,95 168.7,94.3 160.1,93.3 151.9,92.1 144,90.5 136.7,88.7 130,86.7 124.1,84.5 119.1,82.2 115,79.8 112,77.3 110.1,74.9 109.3,72.4 109.6,70 111,67.7 113.6,65.6 117.2,63.7 121.8,62 127.3,60.5 133.7,59.3 140.7,58.4 148.4,57.8 156.5,57.5 165,57.6 173.6,58 182.2,58.7 190.8,59.6 199.1,60.9 206.9,62.5 214.3,64.3 220.9,66.3 226.8,68.5 231.8,70.8 235.9,73.2 238.9,75.7 240.8,78.1 241.7,80.6 M243.4,88 243.1,90.4 241.6,92.7 239,94.8 235.4,96.8 230.7,98.6 225.1,100 218.6,101.3 211.5,102.2 203.7,102.8 195.4,103.1 186.9,103 178.1,102.6 169.3,101.9 160.6,100.9 152.2,99.6 144.2,98 136.8,96.2 130,94.2 124,92 118.9,89.6 114.8,87.2 111.8,84.7 109.8,82.1 109,79.6 109.3,77.2 110.8,74.9 113.4,72.8 117,70.8 121.7,69 127.3,67.6 133.8,66.3 140.9,65.4 148.7,64.8 157,64.5 165.5,64.6 174.3,65 183.1,65.7 191.8,66.7 200.2,68 208.2,69.6 215.6,71.4 222.4,73.4 228.4,75.6 233.5,78 237.6,80.4 240.6,82.9 242.6,85.5 243.4,88 M243.1,95.2 242.8,97.6 241.4,99.9 238.8,102 235.2,103.9 230.6,105.6 225.1,107.1 218.7,108.3 211.7,109.2 204,109.8 195.9,110.1 187.4,110 178.8,109.6 170.2,108.9 161.6,108 153.3,106.7 145.5,105.1 138.1,103.3 131.5,101.3 125.6,99.1 120.6,96.8 116.5,94.4 113.5,91.9 111.6,89.5 110.7,87 111.1,84.6 112.5,82.4 115.1,80.2 118.7,78.3 123.3,76.6 128.8,75.1 135.2,73.9 142.2,73 149.9,72.4 158,72.1 166.4,72.2 175.1,72.6 183.7,73.3 192.3,74.3 200.5,75.5 208.4,77.1 215.7,78.9 222.4,80.9 228.3,83.1 233.3,85.4 237.4,87.8 240.4,90.3 242.3,92.7 243.1,95.2 M240.8,102.1 240.5,104.4 239.1,106.5 236.7,108.6 233.3,110.4 228.9,112.1 223.6,113.5 217.5,114.6 210.8,115.5 203.5,116 195.7,116.3 187.7,116.2 179.4,115.9 171.2,115.2 163,114.3 155.1,113 147.6,111.6 140.6,109.8 134.3,107.9 128.6,105.9 123.9,103.6 120,101.3 117.1,99 115.3,96.6 114.5,94.3 114.8,92 116.2,89.8 118.6,87.8 122.1,86 126.5,84.3 131.7,82.9 137.8,81.8 144.5,80.9 151.8,80.3 159.6,80.1 167.6,80.1 175.9,80.5 184.1,81.2 192.3,82.1 200.2,83.3 207.7,84.8 214.7,86.5 221.1,88.4 226.7,90.5 231.5,92.7 235.3,95 238.2,97.4 240,99.7 240.8,102.1 M236.5,108.4 236.3,110.5 235,112.5 232.7,114.4 229.6,116.1 225.5,117.6 220.7,118.9 215.1,120 208.9,120.7 202.1,121.3 195,121.5 187.6,121.5 180,121.1 172.4,120.5 164.9,119.6 157.6,118.5 150.7,117.2 144.2,115.6 138.3,113.8 133.2,111.9 128.7,109.9 125.2,107.7 122.5,105.6 120.8,103.4 120.1,101.2 120.4,99.1 121.7,97.1 123.9,95.3 127.1,93.6 131.1,92.1 136,90.8 141.6,89.7 147.8,88.9 154.5,88.4 161.7,88.2 169.1,88.2 176.7,88.5 184.3,89.1 191.8,90 199.1,91.1 206,92.5 212.5,94.1 218.3,95.8 223.5,97.8 227.9,99.8 231.5,101.9 234.1,104.1 235.8,106.3 236.5,108.4 M230.4,114 230.2,115.9 229.1,117.6 227.1,119.3 224.3,120.8 220.7,122.1 216.4,123.3 211.4,124.2 205.9,124.9 200,125.4 193.7,125.6 187.1,125.6 180.4,125.3 173.7,124.7 167,123.9 160.6,122.9 154.5,121.7 148.8,120.3 143.6,118.8 139,117.1 135.1,115.3 131.9,113.4 129.6,111.5 128.1,109.6 127.4,107.7 127.7,105.8 128.8,104 130.8,102.4 133.6,100.9 137.2,99.5 141.5,98.4 146.4,97.5 151.9,96.8 157.9,96.3 164.2,96.1 170.8,96.1 177.5,96.4 184.2,97 190.9,97.7 197.3,98.7 203.4,99.9 209.1,101.3 214.3,102.9 218.9,104.6 222.8,106.4 226,108.3 228.3,110.2 229.8,112.1 230.4,114 M222.7,118.7 222.5,120.2 221.5,121.7 219.8,123.1 217.5,124.4 214.5,125.5 210.9,126.5 206.7,127.2 202.1,127.8 197.1,128.2 191.8,128.4 186.3,128.4 180.7,128.1 175,127.7 169.5,127 164.1,126.2 158.9,125.2 154.1,124 149.8,122.7 145.9,121.3 142.7,119.8 140,118.2 138,116.6 136.8,115 136.3,113.4 136.5,111.8 137.4,110.3 139.1,108.9 141.4,107.7 144.4,106.5 148,105.6 152.2,104.8 156.8,104.2 161.8,103.8 167.1,103.6 172.6,103.7 178.2,103.9 183.9,104.4 189.5,105 194.9,105.9 200,106.9 204.8,108 209.1,109.4 213,110.8 216.3,112.3 218.9,113.9 220.9,115.5 222.1,117.1 222.7,118.7 M213.5,122.3 213.3,123.5 212.6,124.7 211.3,125.7 209.5,126.7 207.1,127.6 204.3,128.4 201.1,129 197.5,129.4 193.6,129.7 189.5,129.9 185.2,129.8 180.8,129.6 176.4,129.3 172.1,128.8 167.9,128.1 163.9,127.3 160.2,126.4 156.8,125.4 153.8,124.3 151.3,123.1 149.2,121.9 147.7,120.7 146.7,119.4 146.3,118.2 146.4,116.9 147.2,115.8 148.5,114.7 150.3,113.7 152.6,112.8 155.5,112.1 158.7,111.5 162.3,111 166.1,110.7 170.3,110.6 174.6,110.6 178.9,110.8 183.3,111.2 187.7,111.7 191.9,112.3 195.9,113.1 199.6,114 203,115 206,116.1 208.5,117.3 210.6,118.5 212.1,119.8 213.1,121.1 213.5,122.3 M203.2,124.7 203.1,125.6 202.6,126.4 201.7,127.1 200.4,127.8 198.8,128.4 196.9,128.9 194.7,129.3 192.3,129.6 189.6,129.8 186.8,129.9 183.9,129.9 180.9,129.8 177.8,129.5 174.9,129.2 172,128.7 169.3,128.2 166.7,127.6 164.4,126.9 162.4,126.1 160.6,125.3 159.2,124.5 158.2,123.6 157.5,122.8 157.2,121.9 157.3,121.1 157.8,120.3 158.7,119.5 160,118.9 161.6,118.3 163.5,117.8 165.7,117.4 168.1,117 170.8,116.8 173.6,116.7 176.6,116.8 179.6,116.9 182.6,117.1 185.5,117.5 188.4,117.9 191.1,118.5 193.7,119.1 196,119.8 198,120.5 199.8,121.3 201.2,122.2 202.2,123 202.9,123.9 203.2,124.7 M192.1,125.9 192,126.4 191.8,126.8 191.3,127.1 190.7,127.5 189.9,127.8 188.9,128 187.8,128.3 186.5,128.4 185.2,128.5 183.7,128.6 182.2,128.6 180.7,128.5 179.2,128.4 177.7,128.2 176.2,128 174.8,127.7 173.6,127.4 172.4,127 171.3,126.6 170.5,126.2 169.7,125.8 169.2,125.4 168.9,124.9 168.7,124.5 168.8,124.1 169,123.7 169.5,123.3 170.1,123 170.9,122.7 171.9,122.4 173,122.2 174.3,122 175.6,121.9 177.1,121.9 178.5,121.9 180.1,122 181.6,122.1 183.1,122.3 184.6,122.5 185.9,122.8 187.2,123.1 188.4,123.4 189.5,123.8 190.3,124.2 191.1,124.6 191.6,125.1 191.9,125.5 192.1,125.9 M194.8,47 204.8,52.3 212.9,58.9 218.8,66.7 222.1,75.3 222.9,84.2 221.1,93 217.3,101.5 211.7,109.2 205,115.9 197.9,121.4 191.1,125.6 185.2,128.3 180.8,129.6 178.4,129.6 M193.5,48.2 202.1,53.9 208.6,60.9 212.7,68.8 214.2,77.3 213.3,86 210.2,94.6 205.3,102.7 199.2,110 192.5,116.3 186.1,121.4 180.4,125.3 176.2,127.8 173.8,129 173.7,129 M191.2,49.2 198.1,55.2 202.8,62.4 204.9,70.3 204.6,78.7 202.1,87.2 197.7,95.4 192,103.1 185.7,110 179.4,115.9 173.9,120.7 169.7,124.3 167.3,126.7 167.1,128 169.3,128.2 M188.1,50 193,56.2 195.6,63.4 195.7,71.2 193.6,79.4 189.6,87.5 184.2,95.4 178.1,102.6 171.9,109.1 166.3,114.7 161.9,119.2 159.3,122.7 158.9,125.2 160.9,126.6 165.3,127.2 M184.3,50.6 187.1,56.8 187.5,63.9 185.6,71.5 181.8,79.4 176.5,87.1 170.4,94.5 164.1,101.3 158.3,107.5 153.6,112.8 150.7,117.2 149.9,120.6 151.5,123.2 155.6,125 162,126 M179.9,50.8 180.4,57 178.7,63.9 174.9,71.2 169.6,78.6 163.4,85.9 156.8,92.9 150.6,99.3 145.5,105.1 142,110.2 140.6,114.5 141.7,118.1 145.2,121 151.3,123.1 159.5,124.6 M175.2,50.8 173.5,56.8 169.6,63.3 164.2,70.2 157.7,77.2 150.7,84 144,90.5 138.2,96.6 134,102.1 131.9,107.1 132.2,111.5 135.1,115.3 140.5,118.5 148.2,121.2 157.9,123.3 M170.4,50.5 166.5,56.1 160.8,62.3 153.9,68.6 146.4,75.1 139.1,81.4 132.6,87.5 127.5,93.3 124.5,98.7 123.9,103.6 125.8,108.2 130.4,112.3 137.5,115.9 146.6,119.1 157.2,121.9 M165.7,50 159.7,55.1 152.4,60.7 144.4,66.6 136.3,72.5 129,78.3 123,84.1 118.9,89.6 117.2,94.9 118.1,99.9 121.7,104.7 127.9,109.2 136.3,113.4 146.4,117.2 157.6,120.6 M161.3,49.1 153.5,53.8 144.9,58.8 136.2,64 127.9,69.4 120.9,74.9 115.8,80.3 112.9,85.7 112.6,91 115,96.2 120.1,101.2 127.6,106.2 136.9,110.9 147.6,115.3 158.9,119.4 M157.3,48.1 148.2,52.1 138.7,56.5 129.6,61.2 121.6,66.1 115.2,71.2 111.1,76.3 109.6,81.6 110.7,87 114.7,92.5 121,97.9 129.5,103.4 139.5,108.7 150.3,113.7 161.2,118.4 M154,46.9 143.9,50.3 134,54.1 124.9,58.2 117.5,62.6 112.1,67.4 109.3,72.4 109.2,77.7 111.8,83.2 117,89 124.5,94.9 133.6,100.9 143.8,106.7 154.3,112.4 164.3,117.6 M151.5,45.6 140.8,48.3 130.9,51.5 122.4,55.1 115.9,59.2 111.7,63.7 110.3,68.6 111.7,74 115.7,79.8 122.1,86 130.3,92.3 139.7,98.8 149.6,105.2 159.4,111.4 168.1,117 M149.8,44.2 139.2,46.3 129.7,48.9 122.1,52.1 116.8,55.9 114.1,60.2 114.2,65.2 117,70.8 122.3,76.9 129.5,83.4 138.2,90.3 147.5,97.3 156.8,104.2 165.3,110.8 172.5,116.8 M149.2,42.9 139,44.3 130.4,46.4 124,49.3 120.2,52.9 119.1,57.2 120.8,62.3 125,68.1 131.3,74.6 139.1,81.6 147.8,88.9 156.7,96.4 164.9,103.7 172,110.6 177.2,116.8 M149.6,41.5 140.3,42.5 133,44.2 128.1,46.8 126,50.3 126.6,54.7 129.8,60 135.1,66.1 142.2,73 150.3,80.4 158.8,88.2 166.8,96.1 173.7,103.7 178.9,110.8 182,117.1 M150.9,40.4 142.9,40.9 137.3,42.3 134.2,44.7 133.9,48.2 136.2,52.8 140.7,58.4 147.1,64.9 154.7,72.2 162.8,80.1 170.6,88.2 177.5,96.4 182.8,104.3 185.9,111.5 186.7,117.6 M153.2,39.3 146.9,39.5 143.1,40.8 142,43.2 143.5,46.9 147.4,51.7 153.2,57.6 160.4,64.5 168.2,72.2 175.9,80.5 182.8,89 188.2,97.4 191.6,105.3 192.7,112.5 191.1,118.5 M156.3,38.5 152,38.5 150.3,39.8 151.2,42.3 154.5,46.2 159.9,51.3 166.7,57.6 174.3,65 182,73.1 189,81.7 194.7,90.4 198.5,99 200,106.9 198.9,113.8 195.1,119.5 M160.1,38 158,37.9 158.4,39.2 161.3,42 166.3,46.2 173,51.7 180.5,58.5 188.3,66.3 195.6,74.7 201.7,83.6 206,92.5 208,101 207.5,108.8 204.2,115.5 198.4,120.7 M164.5,37.7 164.6,37.7 167.2,39.3 172,42.3 178.5,46.9 186.1,52.9 194.1,60.1 201.8,68.3 208.4,77.1 213.3,86.2 216.1,95.1 216.2,103.6 213.7,111.1 208.5,117.3 200.9,122 M169.1,37.7 171.6,38 176.2,39.8 182.7,43.3 190.5,48.4 198.8,54.8 206.9,62.5 214.2,71 219.8,80.1 223.4,89.3 224.5,98.2 222.8,106.4 218.4,113.5 211.6,119.3 202.6,123.4 M174,38 178.6,38.6 185.1,40.9 193.1,44.9 201.7,50.4 210.4,57.4 218.4,65.5 224.9,74.3 229.4,83.5 231.5,92.7 230.8,101.5 227.5,109.4 221.5,116.1 213.2,121.3 203.2,124.7 M178.7,38.6 185.3,39.6 193.5,42.4 202.5,47 211.8,53.1 220.5,60.5 227.9,68.9 233.5,78 236.6,87.3 237.2,96.4 234.9,105 230,112.5 222.7,118.7 213.4,123.3 202.8,126.1 M183.1,39.4 191.5,41 200.9,44.4 210.7,49.5 220.2,56.1 228.5,64 235.2,72.7 239.5,81.9 241.3,91.3 240.3,100.2 236.5,108.4 230.3,115.5 222,121.2 212.1,125.1 201.5,127.2 M187.1,40.4 196.8,42.6 207.2,46.6 217.3,52.3 226.6,59.4 234.3,67.7 239.8,76.6 242.8,86 243.1,95.2 240.7,103.9 235.6,111.7 228.4,118.3 219.4,123.4 209.5,126.7 199.2,128.3 M190.4,41.6 201.1,44.5 211.9,49.1 222,55.3 230.7,62.9 237.4,71.4 241.7,80.6 243.2,89.9 242.1,99 238.3,107.4 232.2,114.7 224.3,120.8 215.1,125.3 205.5,128.1 196.1,129.1 M192.9,43 204.2,46.4 214.9,51.7 224.5,58.4 232.3,66.4 237.7,75.1 240.6,84.4 240.7,93.6 238.2,102.4 233.3,110.4 226.4,117.3 218.2,122.9 209.3,126.8 200.4,129.1 192.3,129.6 M194.5,44.3 205.8,48.5 216.1,54.2 224.8,61.4 231.4,69.7 235.4,78.6 236.7,87.8 235.4,96.8 231.6,105.3 225.8,112.9 218.5,119.4 210.4,124.4 202.1,127.8 194.4,129.7 187.9,129.9 M195.2,45.7 206,50.4 215.5,56.7 222.9,64.2 227.9,72.7 230.3,81.6 230.1,90.7 227.4,99.5 222.6,107.6 216.2,114.8 208.9,120.7 201.2,125.3 194,128.4 187.8,129.9 183.3,129.9" fill="none" stroke="#2e9ad6" stroke-width="0.42" stroke-opacity="0.75"/>
<path d="M243,97 242,100.8 240.5,104.5 238.5,108.1 236,111.4 233,114.5 229.7,117.4 225.9,120.1 221.7,122.4 217.2,124.5 212.4,126.3 207.3,127.7 202,128.8 196.5,129.6 190.8,130 185,130.1 179.2,129.8 173.3,129.1 167.4,128.1 161.6,126.8 156,125.2 150.4,123.2 145.1,120.9 140,118.4 135.2,115.6 130.7,112.5 126.5,109.3 122.8,105.8 119.4,102.2 116.4,98.4 114,94.5 111.9,90.6 110.4,86.5 109.4,82.5 108.9,78.5 108.9,74.5 109.4,70.6 110.4,66.8 111.9,63.1 113.9,59.5 116.4,56.2 119.4,53.1 122.7,50.2 126.5,47.5 130.7,45.2 135.2,43.1 140,41.3 145.1,39.9 150.4,38.8 155.9,38 161.6,37.6 167.4,37.5 173.2,37.8 179.1,38.5 185,39.5 190.8,40.8 196.4,42.4 202,44.4 207.3,46.7 212.4,49.2 217.2,52 221.7,55.1 225.9,58.3 229.6,61.8 233,65.4 236,69.2 238.4,73.1 240.5,77 242,81.1 243,85.1 243.5,89.1 243.5,93.1 243,97Z" fill="none" stroke="#2e9ad6" stroke-width="0.8" stroke-opacity="0.75"/>
<path d="M241.3,96.7 240.3,100.4 238.9,104 236.9,107.4 234.5,110.7 231.6,113.8 228.3,116.6 224.6,119.2 220.6,121.5 216.2,123.5 211.5,125.2 206.5,126.6 201.4,127.7 196,128.4 190.4,128.8 184.8,128.9 179.1,128.6 173.3,128 167.6,127 162,125.7 156.5,124.1 151.1,122.2 145.9,120 140.9,117.5 136.2,114.8 131.8,111.8 127.8,108.6 124.1,105.2 120.8,101.7 117.9,98 115.5,94.2 113.6,90.4 112.1,86.5 111.1,82.5 110.6,78.6 110.6,74.7 111.1,70.9 112.1,67.2 113.5,63.6 115.5,60.2 117.9,56.9 120.8,53.8 124.1,51 127.8,48.4 131.8,46.1 136.2,44.1 140.9,42.4 145.9,41 151,39.9 156.4,39.2 162,38.8 167.6,38.7 173.3,39 179.1,39.6 184.8,40.6 190.4,41.9 195.9,43.5 201.3,45.4 206.5,47.6 211.5,50.1 216.2,52.8 220.6,55.8 224.6,59 228.3,62.4 231.6,65.9 234.5,69.6 236.9,73.4 238.8,77.2 240.3,81.1 241.3,85.1 241.8,89 241.8,92.9 241.3,96.7Z M239.7,96.4 238.7,100 237.3,103.5 235.3,106.8 233,110 230.2,113 227,115.7 223.4,118.3 219.5,120.5 215.2,122.5 210.6,124.1 205.8,125.5 200.7,126.6 195.5,127.3 190.1,127.7 184.6,127.7 179,127.5 173.4,126.9 167.9,125.9 162.4,124.7 157,123.1 151.7,121.2 146.7,119.1 141.8,116.7 137.2,114 133,111.1 129,108 125.4,104.7 122.2,101.2 119.4,97.7 117.1,94 115.2,90.2 113.7,86.4 112.7,82.6 112.3,78.7 112.3,75 112.7,71.2 113.7,67.6 115.1,64.1 117.1,60.8 119.4,57.6 122.2,54.6 125.4,51.9 129,49.3 132.9,47.1 137.2,45.1 141.8,43.5 146.6,42.1 151.7,41 156.9,40.3 162.3,39.9 167.8,39.9 173.4,40.1 179,40.7 184.5,41.7 190,42.9 195.4,44.5 200.7,46.4 205.7,48.5 210.6,50.9 215.2,53.6 219.4,56.5 223.4,59.6 227,62.9 230.2,66.4 233,69.9 235.3,73.6 237.2,77.4 238.7,81.2 239.7,85 240.1,88.9 240.1,92.6 239.7,96.4Z" fill="none" stroke="#2e9ad6" stroke-width="0.42" stroke-opacity="0.75"/>
<path d="M509,90.9 509.7,96.1 509.8,101.5 509.2,106.9 507.9,112.3 506.1,117.6 503.5,122.9 500.4,128.1 496.7,133.2 492.5,138 487.7,142.6 482.4,147 476.7,151 470.6,154.8 464.1,158.1 457.3,161.1 450.2,163.7 443,165.9 435.6,167.6 428.1,168.9 420.6,169.7 413.1,170 405.7,169.9 398.4,169.3 391.3,168.2 384.5,166.7 377.9,164.7 371.7,162.3 365.9,159.5 360.5,156.3 355.7,152.8 351.3,148.8 347.5,144.6 344.2,140.1 341.6,135.4 339.6,130.4 338.2,125.3 337.5,120.1 337.4,114.7 338,109.3 339.3,103.9 341.1,98.6 343.7,93.3 346.8,88.1 350.5,83 354.7,78.2 359.5,73.6 364.8,69.2 370.5,65.2 376.6,61.4 383.1,58.1 389.9,55.1 397,52.5 404.2,50.3 411.6,48.6 419.1,47.3 426.6,46.5 434.1,46.2 441.5,46.3 448.8,46.9 455.9,48 462.7,49.5 469.3,51.5 475.5,53.9 481.3,56.7 486.7,59.9 491.5,63.4 495.9,67.4 499.7,71.6 503,76.1 505.6,80.8 507.6,85.8 509,90.9Z" fill="#d0d0d0" fill-opacity="0.03"/>
<path d="M464.9,57 471.1,59 476.9,61.3 482.3,63.9 487.4,66.8 491.9,70 496.1,73.5 499.6,77.2 502.7,81.1 505.2,85.3 507.2,89.6 508.5,94 509.3,98.5 509.4,103.1 509,107.7 507.9,112.3 506.3,116.9 504.1,121.5 501.3,125.9 498,130.2 494.1,134.4 489.8,138.3 485,142.1 479.7,145.6 474.1,148.9 468.1,151.9 461.8,154.5 455.2,156.9 448.4,158.9 441.5,160.5 434.4,161.8 M452.1,55.2 459.3,57.1 466.2,59.5 472.7,62.4 478.7,65.6 484.3,69.2 489.3,73.1 493.7,77.4 497.5,81.9 500.7,86.7 503.2,91.7 504.9,96.8 506,102 506.3,107.2 505.9,112.5 504.7,117.7 502.8,122.9 500.3,127.9 497,132.7 493.1,137.3 488.6,141.7 483.5,145.7 477.9,149.5 471.7,152.8 465.2,155.8 458.3,158.3 451.1,160.4 443.6,162 436,163.2 428.2,163.8 420.4,164 M462,60.2 467.4,63 472.5,66.1 477.2,69.4 481.6,73.1 485.6,77 489.1,81.1 492.2,85.4 494.8,89.8 496.9,94.4 498.4,99.1 499.5,103.8 500,108.6 500,113.3 499.5,118.1 498.4,122.7 496.8,127.3 494.7,131.7 492,136 488.9,140 485.4,143.9 481.4,147.5 477,150.8 472.2,153.8 467.1,156.5 461.7,158.8 456,160.8 450.1,162.4 444,163.7 437.8,164.5 431.4,165 M449.7,56.7 455.5,59.5 460.9,62.7 466,66.4 470.8,70.4 475.1,74.8 479,79.4 482.4,84.3 485.2,89.4 487.6,94.7 489.3,100.1 490.5,105.6 491,111.1 491,116.5 490.4,121.9 489.2,127.2 487.4,132.3 485,137.2 482.1,141.8 478.7,146.1 474.7,150.1 470.4,153.7 465.6,156.9 460.4,159.7 454.9,162 449.2,163.9 443.2,165.2 437,166.1 430.7,166.4 424.4,166.2 418,165.5 M455.5,62.8 459.3,66.2 462.8,69.9 466,73.8 468.9,78 471.6,82.4 473.8,87 475.8,91.8 477.3,96.6 478.5,101.6 479.3,106.5 479.7,111.5 479.7,116.5 479.4,121.4 478.6,126.2 477.4,130.9 475.9,135.4 474,139.8 471.8,143.9 469.2,147.8 466.3,151.3 463.1,154.6 459.6,157.6 455.8,160.2 451.9,162.4 447.7,164.3 443.4,165.8 438.9,166.8 434.3,167.5 429.7,167.7 425,167.5 M445.7,57.7 449.1,61.1 452.3,65 455.2,69.2 457.8,73.8 460.1,78.6 462.1,83.8 463.8,89.1 465.1,94.6 466,100.3 466.6,106 466.7,111.7 466.5,117.4 466,123 465,128.5 463.7,133.8 462,138.8 459.9,143.6 457.6,148.1 454.9,152.2 452,156 448.8,159.3 445.4,162.1 441.8,164.5 438.1,166.4 434.2,167.7 430.2,168.6 426.1,168.9 422.1,168.6 418,167.8 414,166.5 M446.5,64.2 448,68 449.3,72 450.4,76.3 451.3,80.9 452.1,85.6 452.6,90.5 452.9,95.5 453.1,100.5 453,105.7 452.7,110.8 452.2,116 451.5,121.1 450.7,126 449.6,130.9 448.3,135.6 446.9,140.1 445.3,144.4 443.6,148.4 441.7,152.2 439.7,155.6 437.5,158.7 435.3,161.5 433,163.9 430.6,165.9 428.2,167.4 425.8,168.6 423.3,169.3 420.8,169.7 418.4,169.5 416,169 M440.8,58.1 441.2,61.8 441.6,65.9 441.7,70.3 441.7,75.1 441.5,80.2 441.2,85.5 440.7,91 440.1,96.7 439.3,102.5 438.4,108.3 437.4,114.2 436.2,119.9 434.9,125.6 433.5,131.1 432,136.4 430.5,141.5 428.9,146.2 427.2,150.7 425.5,154.7 423.8,158.3 422.1,161.5 420.4,164.2 418.8,166.4 417.1,168.1 415.6,169.3 414.1,169.9 412.7,170 411.4,169.5 410.2,168.5 409.1,166.9 M436.3,64.4 435.2,68.2 434,72.3 432.8,76.6 431.4,81.2 430.1,85.9 428.6,90.8 427.2,95.9 425.7,101 424.2,106.1 422.7,111.3 421.2,116.5 419.7,121.6 418.2,126.6 416.8,131.4 415.4,136.1 414.1,140.6 412.9,144.9 411.7,148.9 410.6,152.7 409.6,156.1 408.7,159.2 407.9,161.9 407.2,164.3 406.7,166.2 406.2,167.8 405.9,168.9 405.7,169.6 405.6,169.9 405.6,169.7 405.8,169.1 M435.6,57.9 433.1,61.4 430.4,65.3 427.7,69.6 425,74.3 422.2,79.2 419.5,84.4 416.8,89.8 414.1,95.4 411.5,101.1 409.1,106.9 406.8,112.6 404.6,118.3 402.6,124 400.8,129.5 399.1,134.8 397.7,139.8 396.6,144.6 395.6,149.1 394.9,153.2 394.5,156.9 394.3,160.1 394.4,162.9 394.8,165.2 395.4,167 396.2,168.3 397.3,169.1 398.7,169.3 400.2,169 402,168.1 403.9,166.7 M426.6,63.2 423,66.7 419.4,70.5 415.8,74.6 412.3,78.9 408.9,83.4 405.6,88.1 402.4,92.9 399.3,97.8 396.4,102.8 393.8,107.9 391.3,112.9 389,117.9 387,122.9 385.3,127.7 383.8,132.4 382.6,136.9 381.7,141.2 381,145.3 380.7,149.1 380.7,152.7 381,155.9 381.6,158.8 382.4,161.3 383.6,163.5 385,165.3 386.7,166.6 388.7,167.6 390.9,168.2 393.4,168.3 396,168 M431.1,57 425.8,60 420.5,63.4 415.3,67.2 410.1,71.4 405.1,75.9 400.2,80.6 395.5,85.7 391.1,90.9 386.9,96.3 383.1,101.8 379.6,107.3 376.6,112.9 373.9,118.4 371.7,123.8 370,129.1 368.7,134.1 367.9,139 367.6,143.6 367.8,147.9 368.5,151.8 369.7,155.3 371.4,158.4 373.5,161.1 376.1,163.3 379.1,165 382.5,166.2 386.2,166.9 390.3,167 394.7,166.7 399.4,165.8 M418.7,60.9 413.1,63.8 407.5,67.1 402.1,70.6 396.8,74.4 391.8,78.4 386.9,82.7 382.3,87.1 378,91.6 374,96.3 370.4,101.1 367.1,105.9 364.2,110.7 361.8,115.5 359.8,120.3 358.2,124.9 357.1,129.5 356.4,133.9 356.3,138.1 356.6,142.1 357.3,145.9 358.6,149.4 360.2,152.6 362.4,155.5 364.9,158.1 367.9,160.3 371.3,162.1 375,163.6 379.1,164.7 383.5,165.4 388.1,165.7 M427.8,55.6 420.6,57.8 413.4,60.4 406.3,63.4 399.4,66.8 392.7,70.6 386.3,74.8 380.2,79.2 374.5,83.9 369.2,88.8 364.4,93.8 360.1,99 356.4,104.3 353.3,109.6 350.8,114.9 349,120.2 347.8,125.3 347.3,130.3 347.4,135 348.3,139.6 349.8,143.8 352,147.8 354.8,151.4 358.2,154.6 362.2,157.4 366.7,159.7 371.8,161.6 377.3,163.1 383.2,164 389.5,164.4 396.1,164.4 M413.8,57.8 407,60 400.3,62.5 393.7,65.3 387.4,68.4 381.3,71.7 375.5,75.4 370.1,79.2 365,83.3 360.3,87.5 356.1,91.9 352.4,96.4 349.1,101 346.4,105.6 344.2,110.3 342.6,114.9 341.5,119.5 341,124 341.1,128.4 341.8,132.7 343.1,136.7 344.9,140.6 347.2,144.3 350.1,147.7 353.5,150.8 357.5,153.6 361.8,156.1 366.6,158.3 371.8,160.1 377.4,161.5 383.3,162.6 M426.3,53.9 418.2,55.1 410.1,56.7 402.2,58.8 394.5,61.4 387,64.3 379.9,67.7 373.1,71.4 366.8,75.4 361,79.7 355.8,84.3 351.1,89.1 347.1,94 343.8,99.1 341.2,104.2 339.3,109.4 338.2,114.6 337.8,119.7 338.2,124.7 339.3,129.6 341.2,134.3 343.8,138.7 347.2,142.9 351.2,146.8 355.8,150.3 361.1,153.4 366.9,156.2 373.2,158.5 379.9,160.4 387.1,161.8 394.6,162.7 M412.8,54.4 405.7,55.7 398.8,57.3 392,59.3 385.4,61.7 379.1,64.3 373.1,67.3 367.5,70.6 362.2,74.1 357.4,77.9 353.1,81.8 349.2,86 345.9,90.3 343.1,94.7 340.9,99.3 339.3,103.9 338.2,108.5 337.8,113.1 337.9,117.7 338.7,122.2 340,126.6 342,130.9 344.5,135.1 347.6,139 351.1,142.7 355.3,146.2 359.8,149.4 364.9,152.3 370.3,154.9 376.1,157.2 382.3,159.2 M426.8,52.2 419,52.4 411.2,53 403.6,54.2 396.1,55.8 388.9,57.9 382,60.4 375.5,63.4 369.3,66.7 363.7,70.5 358.6,74.5 354.1,78.9 350.2,83.5 346.9,88.3 344.4,93.3 342.5,98.5 341.3,103.7 340.9,109 341.2,114.2 342.3,119.4 344,124.5 346.5,129.5 349.7,134.3 353.5,138.8 357.9,143.1 362.9,147 368.5,150.6 374.5,153.8 381,156.7 387.9,159.1 395.1,161 M415.8,51.2 409.4,51.7 403.2,52.5 397.1,53.8 391.2,55.4 385.5,57.4 380.1,59.7 375,62.4 370.2,65.4 365.8,68.7 361.8,72.3 358.3,76.2 355.2,80.2 352.5,84.5 350.4,88.9 348.8,93.5 347.7,98.1 347.2,102.9 347.2,107.6 347.7,112.4 348.8,117.1 350.3,121.8 352.4,126.4 355,130.8 358.1,135.1 361.6,139.2 365.6,143.1 370,146.8 374.7,150.1 379.8,153.2 385.2,156 M429.2,50.7 422.8,50 416.5,49.8 410.2,50.1 404,51 398,52.3 392.3,54.2 386.8,56.5 381.6,59.3 376.8,62.5 372.5,66.1 368.5,70.1 365.1,74.4 362.2,79 359.8,83.9 358,89 356.8,94.3 356.2,99.7 356.2,105.1 356.7,110.6 357.9,116.1 359.6,121.5 362,126.8 364.8,131.9 368.2,136.8 372.1,141.4 376.4,145.8 381.2,149.8 386.3,153.5 391.7,156.7 397.5,159.5 M422.2,48.7 417.5,48.5 412.9,48.7 408.3,49.4 403.8,50.4 399.5,51.9 395.3,53.8 391.4,56 387.6,58.6 384.1,61.6 380.9,64.9 378,68.4 375.4,72.3 373.2,76.4 371.3,80.8 369.8,85.3 368.6,90 367.8,94.8 367.5,99.7 367.5,104.7 367.9,109.7 368.7,114.6 369.9,119.6 371.4,124.4 373.4,129.2 375.6,133.8 378.3,138.2 381.2,142.4 384.4,146.3 387.9,150 391.7,153.4 M433.2,49.7 429.2,48.4 425.1,47.6 421.1,47.3 417,47.6 413,48.5 409.1,49.8 405.4,51.7 401.8,54.1 398.4,56.9 395.2,60.2 392.3,64 389.6,68.1 387.3,72.6 385.2,77.4 383.5,82.4 382.2,87.7 381.2,93.2 380.7,98.8 380.5,104.5 380.6,110.2 381.2,115.9 382.1,121.6 383.4,127.1 385.1,132.4 387.1,137.6 389.4,142.4 392,147 394.9,151.2 398.1,155.1 401.5,158.5 M431.2,47.2 428.8,46.7 426.4,46.5 423.9,46.9 421.4,47.6 419,48.8 416.6,50.3 414.2,52.3 411.9,54.7 409.7,57.5 407.5,60.6 405.5,64 403.6,67.8 401.9,71.8 400.3,76.1 398.9,80.6 397.6,85.3 396.5,90.2 395.7,95.1 395,100.2 394.5,105.4 394.2,110.5 394.1,115.7 394.3,120.7 394.6,125.7 395.1,130.6 395.9,135.3 396.8,139.9 397.9,144.2 399.2,148.2 400.7,152 M438.1,49.3 437,47.7 435.8,46.7 434.5,46.2 433.1,46.3 431.6,46.9 430.1,48.1 428.4,49.8 426.8,52 425.1,54.7 423.4,57.9 421.7,61.5 420,65.5 418.3,70 416.7,74.7 415.2,79.8 413.7,85.1 412.3,90.6 411,96.3 409.8,102 408.8,107.9 407.9,113.7 407.1,119.5 406.5,125.2 406,130.7 405.7,136 405.5,141.1 405.5,145.9 405.6,150.3 406,154.4 406.4,158.1 M441.4,47.1 441.6,46.5 441.6,46.3 441.5,46.6 441.3,47.3 441,48.4 440.5,50 440,51.9 439.3,54.3 438.5,57 437.6,60.1 436.6,63.5 435.5,67.3 434.3,71.3 433.1,75.6 431.8,80.1 430.4,84.8 429,89.6 427.5,94.6 426,99.7 424.5,104.9 423,110.1 421.5,115.2 420,120.3 418.6,125.4 417.1,130.3 415.8,135 414.4,139.6 413.2,143.9 412,148 410.9,151.8 M443.3,49.5 445.2,48.1 447,47.2 448.5,46.9 449.9,47.1 451,47.9 451.8,49.2 452.4,51 452.8,53.3 452.9,56.1 452.7,59.3 452.3,63 451.6,67.1 450.6,71.6 449.5,76.4 448.1,81.4 446.4,86.7 444.6,92.2 442.6,97.9 440.4,103.6 438.1,109.3 435.7,115.1 433.1,120.8 430.4,126.4 427.7,131.8 425,137 422.2,141.9 419.5,146.6 416.8,150.9 414.1,154.8 411.6,158.3 M451.2,48.2 453.8,47.9 456.3,48 458.5,48.6 460.5,49.6 462.2,50.9 463.6,52.7 464.8,54.9 465.6,57.4 466.2,60.3 466.5,63.5 466.5,67.1 466.2,70.9 465.5,75 464.6,79.3 463.4,83.8 461.9,88.5 460.2,93.3 458.2,98.3 455.9,103.3 453.4,108.3 450.8,113.4 447.9,118.4 444.8,123.3 441.6,128.1 438.3,132.8 434.9,137.3 431.4,141.6 427.8,145.7 424.2,149.5 420.6,153 M447.8,50.4 452.5,49.5 456.9,49.2 461,49.3 464.7,50 468.1,51.2 471.1,52.9 473.7,55.1 475.8,57.8 477.5,60.9 478.7,64.4 479.4,68.3 479.6,72.6 479.3,77.2 478.5,82.1 477.2,87.1 475.5,92.4 473.3,97.8 470.6,103.3 467.6,108.9 464.1,114.4 460.3,119.9 456.1,125.3 451.7,130.5 447,135.6 442.1,140.3 437.1,144.8 431.9,149 426.7,152.8 421.4,156.2 416.1,159.2 M459.1,50.5 463.7,50.8 468.1,51.5 472.2,52.6 475.9,54.1 479.3,55.9 482.3,58.1 484.8,60.7 487,63.6 488.6,66.8 489.9,70.3 490.6,74.1 490.9,78.1 490.8,82.3 490.1,86.7 489,91.3 487.4,95.9 485.4,100.7 483,105.5 480.1,110.3 476.8,115.1 473.2,119.9 469.2,124.6 464.9,129.1 460.3,133.5 455.4,137.8 450.4,141.8 445.1,145.6 439.7,149.1 434.1,152.4 428.5,155.3 M451.1,51.8 457.7,51.8 464,52.2 469.9,53.1 475.4,54.6 480.5,56.5 485,58.8 489,61.6 492.4,64.8 495.2,68.4 497.4,72.4 498.9,76.6 499.8,81.2 499.9,85.9 499.4,90.9 498.2,96 496.4,101.3 493.9,106.6 490.8,111.9 487.1,117.2 482.8,122.4 478,127.4 472.7,132.3 467,137 460.9,141.4 454.5,145.6 447.8,149.4 440.9,152.8 433.8,155.8 426.6,158.4 419.4,160.6 M463.9,53.6 469.8,54.7 475.4,56.1 480.6,57.9 485.4,60.1 489.7,62.6 493.7,65.4 497.1,68.5 500,71.9 502.3,75.6 504.1,79.5 505.4,83.5 506.1,87.8 506.2,92.2 505.7,96.7 504.6,101.3 503,105.9 500.8,110.6 498.1,115.2 494.8,119.8 491.1,124.3 486.9,128.7 482.2,132.9 477.1,137 471.7,140.8 465.9,144.5 459.8,147.8 453.5,150.9 446.9,153.7 440.2,156.2 433.4,158.4 M452.6,53.5 460.1,54.4 467.3,55.8 474,57.7 480.3,60 486.1,62.8 491.4,65.9 496,69.4 500,73.3 503.4,77.5 506,81.9 507.9,86.6 509,91.5 509.4,96.5 509,101.6 507.9,106.8 506,112 503.4,117.1 500.1,122.2 496.1,127.1 491.4,131.9 486.2,136.5 480.4,140.8 474.1,144.8 467.3,148.5 460.2,151.9 452.7,154.8 445,157.4 437.1,159.5 429,161.1 420.9,162.3 M452.6,54.4 452.4,54.9 451.9,55.5 451.1,56 450.2,56.5 449.1,56.9 447.9,57.3 446.5,57.6 444.9,57.8 443.3,58 441.6,58.1 439.9,58.1 438.2,58.1 436.5,58 434.8,57.8 433.2,57.5 431.7,57.2 430.4,56.8 429.2,56.3 428.2,55.8 427.4,55.3 426.8,54.8 426.4,54.2 426.2,53.6 426.3,53 426.5,52.5 427,51.9 427.8,51.4 428.7,50.9 429.8,50.5 431,50.1 432.4,49.8 434,49.6 435.6,49.4 437.3,49.3 439,49.3 440.7,49.3 442.4,49.4 444.1,49.6 445.7,49.9 447.2,50.2 448.5,50.6 449.7,51.1 450.7,51.6 451.5,52.1 452.1,52.6 452.5,53.2 452.7,53.8 452.6,54.4 M464.9,57 464.4,58.1 463.4,59.2 462,60.2 460.2,61.2 458,62 455.5,62.8 452.7,63.4 449.7,63.9 446.5,64.2 443.2,64.4 439.8,64.5 436.3,64.4 433,64.1 429.7,63.7 426.6,63.2 423.6,62.6 421,61.8 418.7,60.9 416.7,60 415,58.9 413.8,57.8 413,56.7 412.7,55.6 412.8,54.4 413.4,53.3 414.3,52.2 415.8,51.2 417.6,50.3 419.7,49.4 422.2,48.7 425,48.1 428,47.6 431.2,47.2 434.6,47 438,47 441.4,47.1 444.8,47.3 448,47.7 451.2,48.2 454.1,48.9 456.7,49.6 459.1,50.5 461.1,51.5 462.7,52.5 463.9,53.6 464.7,54.7 465,55.9 464.9,57 M476.2,60.9 475.4,62.6 473.9,64.2 471.8,65.7 469.2,67.1 466,68.3 462.3,69.4 458.3,70.3 453.8,71 449.1,71.5 444.2,71.8 439.2,71.9 434.2,71.8 429.2,71.4 424.4,70.8 419.8,70 415.5,69.1 411.7,68 408.2,66.7 405.3,65.3 402.9,63.7 401.1,62.1 400,60.5 399.5,58.8 399.6,57.1 400.4,55.5 401.9,53.9 404,52.4 406.6,51 409.8,49.8 413.5,48.7 417.5,47.8 422,47 426.7,46.5 431.6,46.2 436.6,46.2 441.6,46.3 446.6,46.7 451.4,47.2 456,48 460.3,49 464.1,50.1 467.6,51.4 470.5,52.8 472.9,54.3 474.7,55.9 475.8,57.6 476.3,59.3 476.2,60.9 M486.1,66 485.1,68.2 483.2,70.2 480.5,72.1 477.1,73.9 473,75.5 468.2,77 462.9,78.1 457.2,79.1 451.1,79.7 444.8,80.1 438.3,80.2 431.8,80 425.4,79.6 419.1,78.8 413.2,77.8 407.6,76.6 402.6,75.1 398.1,73.4 394.3,71.6 391.3,69.6 389,67.6 387.5,65.4 386.8,63.2 387,61.1 388.1,58.9 390,56.9 392.6,54.9 396.1,53.2 400.2,51.5 404.9,50.1 410.2,49 416,48 422.1,47.4 428.4,47 434.9,46.9 441.4,47.1 447.8,47.5 454,48.3 460,49.3 465.5,50.5 470.6,52 475,53.7 478.8,55.5 481.9,57.5 484.2,59.5 485.7,61.7 486.3,63.9 486.1,66 M494.6,72.1 493.3,74.7 491,77.2 487.8,79.5 483.7,81.7 478.7,83.6 473,85.3 466.7,86.7 459.8,87.8 452.4,88.6 444.8,89.1 437,89.2 429.2,89 421.4,88.4 413.9,87.5 406.8,86.3 400.1,84.8 394.1,83.1 388.7,81.1 384.1,78.8 380.4,76.5 377.7,74 375.9,71.4 375.1,68.8 375.3,66.2 376.6,63.6 378.9,61.1 382.1,58.8 386.2,56.7 391.2,54.7 396.9,53 403.2,51.6 410.1,50.5 417.5,49.7 425.1,49.2 432.9,49.1 440.7,49.3 448.5,49.9 456,50.8 463.1,52 469.8,53.5 475.8,55.3 481.2,57.3 485.8,59.5 489.5,61.8 492.2,64.3 494,66.9 494.8,69.5 494.6,72.1 M501.2,79.2 499.8,82.1 497.2,84.9 493.5,87.6 488.8,90 483.1,92.2 476.6,94.2 469.3,95.8 461.4,97.1 453,98 444.3,98.5 435.4,98.7 426.4,98.4 417.6,97.8 409,96.7 400.8,95.4 393.2,93.7 386.3,91.6 380.1,89.3 374.9,86.8 370.7,84.1 367.5,81.2 365.4,78.3 364.5,75.3 364.8,72.3 366.3,69.4 368.9,66.6 372.5,63.9 377.3,61.4 382.9,59.2 389.5,57.3 396.7,55.7 404.6,54.4 413,53.5 421.8,52.9 430.7,52.8 439.6,53 448.5,53.7 457.1,54.7 465.2,56.1 472.9,57.8 479.8,59.8 485.9,62.1 491.2,64.6 495.4,67.4 498.6,70.2 500.6,73.2 501.5,76.2 501.2,79.2 M506,86.9 504.4,90.1 501.6,93.2 497.5,96.1 492.3,98.8 486.1,101.3 478.9,103.4 470.8,105.2 462.1,106.6 452.9,107.6 443.3,108.2 433.5,108.4 423.6,108.1 413.9,107.4 404.4,106.2 395.4,104.7 387,102.8 379.4,100.6 372.6,98.1 366.9,95.3 362.2,92.3 358.7,89.2 356.4,85.9 355.4,82.6 355.8,79.3 357.3,76.1 360.2,73 364.3,70.1 369.5,67.3 375.7,64.9 382.9,62.8 390.9,61 399.6,59.6 408.9,58.6 418.5,58 428.3,57.8 438.2,58.1 447.9,58.8 457.4,59.9 466.4,61.5 474.8,63.4 482.4,65.6 489.2,68.1 494.9,70.9 499.6,73.9 503.1,77 505.3,80.3 506.3,83.6 506,86.9 M508.8,95.1 507.1,98.6 504,101.9 499.7,105 494.1,107.9 487.5,110.5 479.8,112.8 471.2,114.7 461.9,116.2 452.1,117.3 441.8,117.9 431.3,118 420.8,117.7 410.4,117 400.3,115.8 390.7,114.2 381.7,112.2 373.6,109.8 366.4,107.1 360.2,104.1 355.2,100.9 351.5,97.6 349.1,94.1 348,90.6 348.4,87.1 350.1,83.6 353.1,80.3 357.4,77.2 363,74.3 369.7,71.7 377.3,69.4 385.9,67.5 395.2,66 405,64.9 415.3,64.3 425.8,64.1 436.3,64.4 446.7,65.2 456.8,66.4 466.4,68 475.4,70 483.5,72.4 490.8,75.1 496.9,78 501.9,81.2 505.6,84.6 508,88.1 509.1,91.6 508.8,95.1 M509.4,103.7 507.6,107.2 504.5,110.7 500,113.9 494.2,116.9 487.3,119.7 479.3,122 470.4,124 460.8,125.6 450.5,126.7 439.9,127.3 429,127.5 418,127.2 407.2,126.4 396.8,125.1 386.8,123.5 377.5,121.4 369,118.9 361.5,116.1 355.1,113 350,109.7 346.1,106.2 343.6,102.6 342.5,99 342.8,95.3 344.6,91.7 347.8,88.3 352.3,85 358,82 365,79.3 372.9,77 381.8,75 391.5,73.4 401.7,72.3 412.3,71.7 423.2,71.5 434.2,71.8 445,72.6 455.5,73.8 465.4,75.5 474.7,77.6 483.2,80.1 490.7,82.9 497.1,85.9 502.3,89.3 506.1,92.8 508.6,96.4 509.7,100 509.4,103.7 M507.9,112.3 506.1,116 502.9,119.4 498.4,122.7 492.5,125.8 485.5,128.5 477.4,130.9 468.5,132.9 458.7,134.5 448.3,135.6 437.5,136.3 426.5,136.4 415.4,136.1 404.5,135.3 393.9,134.1 383.8,132.4 374.4,130.3 365.8,127.8 358.2,124.9 351.7,121.8 346.5,118.5 342.6,114.9 340,111.3 338.9,107.6 339.3,103.9 341.1,100.2 344.3,96.8 348.8,93.5 354.7,90.4 361.7,87.7 369.8,85.3 378.7,83.3 388.5,81.7 398.9,80.6 409.7,79.9 420.7,79.8 431.8,80.1 442.7,80.9 453.3,82.1 463.4,83.8 472.8,85.9 481.4,88.4 489,91.3 495.5,94.4 500.7,97.7 504.6,101.3 507.2,104.9 508.3,108.6 507.9,112.3 M504.4,120.9 502.6,124.5 499.4,127.9 494.9,131.2 489.2,134.2 482.2,136.9 474.3,139.2 465.4,141.2 455.7,142.8 445.5,143.9 434.9,144.5 424,144.7 413,144.4 402.2,143.6 391.7,142.4 381.8,140.7 372.5,138.6 364,136.1 356.5,133.3 350.1,130.3 344.9,126.9 341.1,123.4 338.6,119.8 337.5,116.2 337.8,112.5 339.6,109 342.7,105.5 347.2,102.3 353,99.3 359.9,96.5 367.9,94.2 376.8,92.2 386.4,90.6 396.7,89.5 407.3,88.9 418.2,88.7 429.2,89 440,89.8 450.4,91.1 460.4,92.7 469.7,94.8 478.2,97.3 485.7,100.1 492.1,103.2 497.2,106.5 501.1,110 503.6,113.6 504.7,117.2 504.4,120.9 M498.8,129.1 497.1,132.6 494.1,135.9 489.8,139 484.2,141.9 477.5,144.5 469.9,146.8 461.3,148.7 452,150.2 442.2,151.3 431.9,151.9 421.4,152.1 410.9,151.8 400.5,151 390.4,149.8 380.8,148.2 371.8,146.2 363.7,143.8 356.4,141.1 350.3,138.2 345.3,135 341.6,131.6 339.2,128.1 338.1,124.6 338.4,121.1 340.1,117.6 343.2,114.3 347.5,111.2 353.1,108.3 359.7,105.7 367.4,103.4 376,101.5 385.3,100 395.1,98.9 405.4,98.3 415.9,98.2 426.4,98.5 436.8,99.2 446.9,100.4 456.5,102 465.5,104 473.6,106.4 480.8,109.1 487,112.1 492,115.3 495.7,118.6 498.1,122.1 499.2,125.6 498.8,129.1 M491.4,136.9 489.9,140.1 487,143.2 482.9,146.1 477.7,148.9 471.5,151.3 464.3,153.4 456.3,155.2 447.6,156.6 438.3,157.6 428.7,158.2 418.9,158.4 409,158.1 399.3,157.4 389.8,156.3 380.8,154.7 372.4,152.8 364.8,150.6 358,148.1 352.3,145.3 347.6,142.3 344.1,139.2 341.9,135.9 340.9,132.6 341.2,129.3 342.8,126.1 345.6,123 349.7,120.1 354.9,117.4 361.1,114.9 368.3,112.8 376.4,111 385.1,109.6 394.3,108.6 403.9,108 413.7,107.8 423.6,108.1 433.3,108.8 442.8,110 451.8,111.5 460.2,113.4 467.8,115.6 474.6,118.1 480.3,120.9 485,123.9 488.5,127 490.8,130.3 491.8,133.6 491.4,136.9 M482.4,143.9 480.9,146.8 478.3,149.6 474.7,152.3 469.9,154.8 464.3,157 457.7,158.9 450.5,160.5 442.6,161.8 434.2,162.7 425.4,163.3 416.5,163.4 407.6,163.2 398.7,162.5 390.1,161.5 382,160.1 374.3,158.4 367.4,156.4 361.3,154.1 356,151.6 351.8,148.8 348.6,146 346.6,143 345.7,140 346,137 347.4,134.1 350,131.3 353.7,128.6 358.4,126.2 364.1,124 370.6,122 377.9,120.4 385.8,119.1 394.2,118.2 402.9,117.7 411.8,117.5 420.8,117.8 429.6,118.4 438.2,119.5 446.4,120.8 454,122.5 460.9,124.6 467.1,126.9 472.3,129.4 476.5,132.1 479.7,135 481.8,137.9 482.7,140.9 482.4,143.9 M471.9,150 470.6,152.6 468.3,155.1 465.1,157.4 461,159.5 456,161.5 450.3,163.2 444,164.6 437.1,165.7 429.7,166.5 422.1,167 414.3,167.1 406.5,166.9 398.7,166.3 391.2,165.4 384.1,164.2 377.4,162.7 371.4,160.9 366,158.9 361.4,156.7 357.7,154.4 355,151.9 353.2,149.3 352.4,146.7 352.6,144.1 353.9,141.5 356.2,139 359.4,136.7 363.5,134.5 368.5,132.6 374.2,130.9 380.5,129.5 387.4,128.4 394.8,127.6 402.4,127.1 410.2,127 418,127.2 425.8,127.8 433.3,128.7 440.4,129.9 447.1,131.4 453.1,133.1 458.5,135.1 463.1,137.4 466.8,139.7 469.5,142.2 471.3,144.8 472.1,147.4 471.9,150 M460.2,155.1 459.1,157.3 457.2,159.3 454.6,161.3 451.1,163 447,164.7 442.3,166.1 437,167.2 431.2,168.2 425.1,168.8 418.8,169.2 412.3,169.3 405.8,169.1 399.4,168.7 393.2,167.9 387.2,166.9 381.7,165.7 376.6,164.2 372.2,162.5 368.4,160.7 365.3,158.7 363,156.7 361.5,154.5 360.9,152.3 361.1,150.2 362.1,148 364,146 366.7,144.1 370.1,142.3 374.2,140.7 379,139.2 384.3,138.1 390,137.1 396.1,136.5 402.4,136.1 408.9,136 415.4,136.2 421.8,136.6 428.1,137.4 434,138.4 439.6,139.6 444.6,141.1 449.1,142.8 452.9,144.6 455.9,146.6 458.2,148.6 459.7,150.8 460.4,153 460.2,155.1 M447.6,159.1 446.8,160.7 445.3,162.3 443.2,163.8 440.6,165.2 437.4,166.4 433.7,167.5 429.7,168.4 425.2,169.2 420.5,169.7 415.6,170 410.6,170 405.6,169.9 400.6,169.5 395.8,169 391.2,168.2 386.9,167.2 383.1,166.1 379.6,164.8 376.7,163.4 374.3,161.9 372.5,160.3 371.4,158.6 370.9,156.9 371,155.3 371.8,153.6 373.3,152 375.4,150.5 378,149.1 381.2,147.9 384.9,146.8 388.9,145.9 393.4,145.2 398.1,144.7 403,144.4 408,144.3 413,144.4 418,144.8 422.8,145.4 427.4,146.2 431.7,147.1 435.5,148.2 439,149.5 441.9,150.9 444.3,152.5 446.1,154.1 447.2,155.7 447.7,157.4 447.6,159.1 M434.4,161.8 433.8,162.9 432.9,164 431.4,165 429.6,165.9 427.5,166.8 425,167.5 422.2,168.1 419.2,168.6 416,169 412.6,169.2 409.2,169.2 405.8,169.1 402.4,168.9 399.2,168.5 396,168 393.1,167.3 390.5,166.6 388.1,165.7 386.1,164.7 384.5,163.7 383.3,162.6 382.5,161.5 382.2,160.3 382.3,159.2 382.8,158.1 383.8,157 385.2,156 387,155 389.2,154.2 391.7,153.4 394.5,152.8 397.5,152.3 400.7,152 404,151.8 407.4,151.7 410.9,151.8 414.2,152.1 417.5,152.5 420.6,153 423.6,153.6 426.2,154.4 428.5,155.3 430.5,156.2 432.2,157.3 433.4,158.4 434.2,159.5 434.5,160.6 434.4,161.8 M420.9,163.2 420.7,163.7 420.2,164.3 419.4,164.8 418.5,165.3 417.4,165.7 416.2,166.1 414.8,166.4 413.2,166.6 411.6,166.8 409.9,166.9 408.2,166.9 406.5,166.9 404.8,166.8 403.1,166.6 401.5,166.3 400,166 398.7,165.6 397.5,165.1 396.5,164.6 395.7,164.1 395.1,163.6 394.7,163 394.5,162.4 394.6,161.8 394.8,161.3 395.3,160.7 396.1,160.2 397,159.7 398.1,159.3 399.3,158.9 400.7,158.6 402.3,158.4 403.9,158.2 405.6,158.1 407.3,158.1 409,158.1 410.7,158.2 412.4,158.4 414,158.7 415.5,159 416.8,159.4 418,159.9 419,160.4 419.8,160.9 420.4,161.4 420.8,162 421,162.6 420.9,163.2 M463.9,58.7 473.5,64.6 480.5,72.1 484.8,81.1 486.1,91.2 484.3,101.9 479.8,112.8 472.7,123.5 463.7,133.8 453.2,143.1 442.2,151.3 431.2,158.1 421,163.4 412.3,167.1 405.8,169.1 401.9,169.6 400.8,168.7 M462,60.2 469.9,66.7 475.1,74.8 477.4,84 476.6,94.2 472.9,104.8 466.7,115.5 458.3,125.9 448.3,135.6 437.5,144.4 426.7,152.1 416.4,158.3 407.6,163.2 400.7,166.5 396.2,168.3 394.6,168.8 396,168 M459.1,61.6 465.1,68.6 468.2,77 468.3,86.4 465.4,96.5 459.9,106.9 452.1,117.3 442.6,127.2 432,136.4 421.2,144.7 410.9,151.8 401.7,157.6 394.4,162 389.4,165.1 387.2,166.9 388,167.5 391.8,167 M455.5,62.8 459.3,70.1 460.1,78.6 458,88 453,98 445.7,108.1 436.6,118 426.2,127.4 415.4,136.1 404.9,143.9 395.4,150.5 387.5,155.9 382,160.1 379.1,163.1 379.1,165 382.2,165.8 388.1,165.7 M451.2,63.6 452.7,71.2 451.1,79.7 446.7,89 439.9,98.6 431,108.3 420.8,117.7 409.9,126.6 399.1,134.8 389.2,142 380.8,148.2 374.5,153.4 370.8,157.4 370,160.5 372.2,162.5 377.4,163.8 385.3,164.2 M446.5,64.2 445.5,71.8 441.5,80.2 435,89.2 426.4,98.4 416.3,107.6 405.3,116.4 394.2,124.8 383.8,132.4 374.7,139.2 367.6,145.1 363,150 361.3,154.1 362.5,157.3 366.7,159.7 373.8,161.5 383.3,162.6 M441.5,64.5 438,71.9 431.8,80 423.4,88.6 413.2,97.3 402.1,105.9 390.7,114.2 379.7,121.9 370,129.1 362,135.5 356.4,141.1 353.6,146 353.8,150.2 356.9,153.7 363,156.7 371.6,159 382.3,160.9 M436.3,64.4 430.5,71.5 422.2,79.2 412.1,87.3 400.8,95.4 389.1,103.3 377.5,111 367,118.2 358.2,124.9 351.6,131 347.6,136.6 346.6,141.6 348.6,146 353.5,149.9 361.1,153.4 370.8,156.5 382.3,159.2 M431.3,64 423.2,70.6 413.2,77.8 401.7,85.2 389.6,92.7 377.6,100 366.4,107.1 356.6,113.8 349,120.2 343.8,126.1 341.6,131.6 342.3,136.7 346,141.5 352.4,146 361.1,150.2 371.6,154 383.3,157.5 M426.6,63.2 416.6,69.3 405.1,75.9 392.7,82.6 380.1,89.3 368.2,96 357.6,102.5 348.9,108.9 342.6,114.9 339.1,120.8 338.5,126.4 340.8,131.8 346,137 353.5,142.1 362.9,147 373.7,151.6 385.2,156 M422.3,62.2 410.7,67.6 398.1,73.4 385.2,79.4 372.6,85.5 361.2,91.5 351.5,97.6 344.1,103.5 339.3,109.4 337.4,115.3 338.4,121.1 342.3,126.9 348.6,132.7 356.9,138.4 366.7,144.1 377.3,149.5 388.1,154.6 M418.7,60.9 406,65.6 392.7,70.6 379.6,75.9 367.5,81.2 356.9,86.7 348.4,92.3 342.4,98 339.3,103.9 339,109.8 341.5,116 346.5,122.2 353.7,128.6 362.4,135.1 372.1,141.4 382.1,147.6 391.7,153.4 M415.8,59.4 402.4,63.3 389,67.6 376.2,72 364.8,76.8 355.4,81.8 348.4,87.1 344,92.6 342.5,98.5 343.7,104.7 347.5,111.2 353.5,118 361.1,125 369.8,132.2 379,139.2 387.9,146.1 396,152.6 M413.8,57.8 400.2,60.9 387,64.3 375,68.1 364.8,72.3 356.8,76.9 351.4,81.9 348.8,87.4 348.8,93.5 351.4,100 356.3,107 362.9,114.3 370.6,122 378.9,129.8 387.1,137.6 394.5,145 400.7,152 M412.8,56.1 399.4,58.4 387,61.1 376.2,64.2 367.4,67.9 361.1,72.2 357.4,77.2 356.5,82.7 358,89 361.8,95.9 367.4,103.4 374.3,111.4 381.8,119.7 389.2,128.2 396.1,136.5 401.7,144.4 405.7,151.7 M412.8,54.4 400.2,55.9 388.9,57.9 379.6,60.5 372.5,63.9 368.1,68 366.2,72.9 366.9,78.7 369.8,85.3 374.5,92.7 380.5,100.7 387.3,109.3 394.2,118.2 400.5,127.2 405.7,136 409.2,144.3 410.9,151.8 M413.8,52.7 402.3,53.5 392.6,54.9 385.1,57.2 380,60.3 377.4,64.3 377.3,69.4 379.5,75.4 383.5,82.4 388.9,90.3 395.1,98.9 401.5,108.1 407.3,117.6 412.2,127 415.4,136.2 416.7,144.7 415.9,152.2 M415.8,51.2 405.9,51.3 398,52.3 392.5,54.3 389.5,57.3 388.8,61.4 390.5,66.7 394,73.1 398.9,80.6 404.6,89 410.6,98.2 416.2,107.9 420.8,117.8 423.8,127.6 425,137 424,145.6 420.6,153 M418.6,49.8 410.7,49.5 404.9,50.1 401.6,51.9 400.6,55 401.9,59.3 405,64.9 409.7,71.8 415.2,79.8 421,88.8 426.4,98.5 430.9,108.6 434,118.9 435.1,128.9 434,138.4 430.6,146.9 424.9,154 M422.2,48.7 416.5,48 413,48.5 411.9,50.3 413,53.5 416,58.1 420.5,64.1 426,71.5 431.8,80.1 437.3,89.6 441.9,99.8 445.1,110.3 446.4,120.8 445.5,131 442.1,140.3 436.5,148.6 428.5,155.3 M426.5,47.8 423.1,46.9 422.1,47.4 423.2,49.3 426.2,52.8 430.8,57.9 436.3,64.4 442.3,72.3 448.1,81.4 453,91.4 456.5,102 458.1,112.9 457.6,123.5 454.5,133.6 449.1,142.8 441.2,150.6 431.4,156.8 M431.2,47.2 430.3,46.3 431.6,46.9 434.9,49.1 439.6,53 445.5,58.6 451.8,65.7 458,74.2 463.4,83.8 467.5,94.3 469.7,105.2 469.6,116.2 467.1,126.9 462,136.8 454.5,145.6 444.8,152.9 433.4,158.4 M436.3,47 437.8,46.2 441.4,47.1 446.5,49.7 452.8,54.2 459.7,60.3 466.4,68 472.5,77 477.2,87.1 480.2,98 480.8,109.1 479,120.2 474.6,130.7 467.6,140.3 458.2,148.6 447,155.3 434.4,160.1 M441.4,47.1 445.3,46.6 451,47.9 457.8,51.1 465.2,56.1 472.7,62.8 479.6,71.1 485.2,80.7 489,91.3 490.6,102.4 489.6,113.7 486,124.7 479.7,135 471,144.2 460.2,151.9 447.8,157.8 434.4,161.8 M446.4,47.5 452.6,47.4 460,49.3 468.1,53.1 476.4,58.8 484.2,66.2 490.8,75.1 495.6,85.2 498.2,96 498.3,107.3 495.7,118.6 490.3,129.5 482.4,139.4 472.2,148.1 460.2,155.1 447,160.3 433.4,163.5 M451.2,48.2 459.2,48.7 468.1,51.2 477.2,55.7 485.9,62.1 493.6,70.2 499.6,79.6 503.4,90.1 504.6,101.3 503.1,112.7 498.8,123.9 491.8,134.4 482.4,143.9 471,152 458.3,158.3 444.9,162.7 431.4,165 M455.4,49.2 465,50.4 475,53.7 484.7,58.9 493.4,66 500.6,74.6 505.6,84.6 508.1,95.4 507.9,106.8 504.8,118.2 498.8,129.1 490.4,139.3 479.8,148.3 467.6,155.7 454.6,161.3 441.3,164.9 428.6,166.4 M459.1,50.5 469.8,52.4 480.5,56.5 490.3,62.5 498.6,70.2 504.9,79.5 508.7,89.8 509.8,100.9 507.9,112.3 503.2,123.6 495.8,134.3 486.1,144 474.7,152.3 462.1,159 449.2,163.9 436.5,166.7 425,167.5 M461.9,52 473.4,54.7 484.2,59.5 493.7,66.3 501.2,74.7 506.4,84.4 508.8,95.1 508.2,106.4 504.7,117.7 498.4,128.8 489.8,139 479.1,148.2 467.2,155.9 454.7,161.9 442.3,166.1 430.7,168.2 420.7,168.4 M463.9,53.6 475.6,57.2 486.1,62.8 494.8,70.2 501.2,79.2 504.9,89.3 505.7,100.2 503.5,111.5 498.4,122.7 490.7,133.5 481,143.3 469.8,151.9 457.7,158.9 445.6,164.3 434.2,167.7 424.1,169.3 416,169 M464.9,55.3 476.4,59.7 486.1,66 493.7,74.1 498.6,83.5 500.7,94 499.7,105 495.8,116.2 489.2,127.2 480.3,137.5 469.9,146.8 458.4,154.8 446.6,161.2 435.3,165.9 425.1,168.8 416.9,169.9 410.9,169.2 M464.9,57 475.6,62.2 484.3,69.2 490.3,77.8 493.5,87.6 493.7,98.2 490.9,109.2 485.4,120.3 477.4,130.9 467.7,140.8 456.7,149.5 445.3,156.9 434.2,162.7 424,166.9 415.6,169.3 409.4,170 405.8,169.1" fill="none" stroke="#707070" stroke-width="0.36" stroke-opacity="0.65"/>
<path d="M509,90.9 509.7,96.1 509.8,101.5 509.2,106.9 507.9,112.3 506.1,117.6 503.5,122.9 500.4,128.1 496.7,133.2 492.5,138 487.7,142.6 482.4,147 476.7,151 470.6,154.8 464.1,158.1 457.3,161.1 450.2,163.7 443,165.9 435.6,167.6 428.1,168.9 420.6,169.7 413.1,170 405.7,169.9 398.4,169.3 391.3,168.2 384.5,166.7 377.9,164.7 371.7,162.3 365.9,159.5 360.5,156.3 355.7,152.8 351.3,148.8 347.5,144.6 344.2,140.1 341.6,135.4 339.6,130.4 338.2,125.3 337.5,120.1 337.4,114.7 338,109.3 339.3,103.9 341.1,98.6 343.7,93.3 346.8,88.1 350.5,83 354.7,78.2 359.5,73.6 364.8,69.2 370.5,65.2 376.6,61.4 383.1,58.1 389.9,55.1 397,52.5 404.2,50.3 411.6,48.6 419.1,47.3 426.6,46.5 434.1,46.2 441.5,46.3 448.8,46.9 455.9,48 462.7,49.5 469.3,51.5 475.5,53.9 481.3,56.7 486.7,59.9 491.5,63.4 495.9,67.4 499.7,71.6 503,76.1 505.6,80.8 507.6,85.8 509,90.9Z" fill="none" stroke="#707070" stroke-width="0.8" stroke-opacity="0.65"/>
<path d="M506.8,91.3 507.5,96.4 507.6,101.6 507,106.9 505.8,112.2 504,117.4 501.5,122.6 498.5,127.6 494.9,132.5 490.7,137.3 486.1,141.8 480.9,146 475.4,149.9 469.4,153.6 463.1,156.9 456.4,159.8 449.6,162.3 442.5,164.4 435.3,166.1 428,167.4 420.7,168.1 413.4,168.5 406.1,168.4 399,167.8 392.1,166.7 385.4,165.3 379.1,163.3 373,161 367.3,158.2 362.1,155.1 357.4,151.6 353.1,147.8 349.4,143.7 346.2,139.3 343.6,134.7 341.7,129.9 340.4,124.9 339.7,119.8 339.6,114.6 340.2,109.3 341.4,104 343.2,98.8 345.7,93.6 348.7,88.6 352.3,83.7 356.5,78.9 361.1,74.4 366.3,70.2 371.8,66.3 377.8,62.6 384.1,59.3 390.8,56.4 397.6,53.9 404.7,51.8 411.9,50.1 419.2,48.8 426.5,48.1 433.8,47.7 441.1,47.8 448.2,48.4 455.1,49.5 461.8,50.9 468.1,52.9 474.2,55.2 479.9,58 485.1,61.1 489.8,64.6 494.1,68.4 497.8,72.5 501,76.9 503.6,81.5 505.5,86.3 506.8,91.3Z M504.7,91.7 505.4,96.7 505.5,101.8 504.9,106.9 503.7,112.1 501.9,117.2 499.5,122.2 496.6,127.1 493.1,131.9 489,136.5 484.5,140.9 479.5,145 474,148.9 468.2,152.4 462.1,155.6 455.6,158.5 448.9,160.9 442,163 435,164.6 427.9,165.8 420.7,166.6 413.6,166.9 406.6,166.8 399.7,166.2 392.9,165.2 386.4,163.8 380.2,161.9 374.3,159.6 368.8,157 363.7,153.9 359.1,150.5 354.9,146.8 351.3,142.8 348.2,138.5 345.7,134 343.8,129.3 342.5,124.5 341.8,119.5 341.7,114.4 342.3,109.3 343.5,104.1 345.3,99 347.7,94 350.6,89.1 354.1,84.3 358.2,79.7 362.7,75.3 367.7,71.2 373.2,67.3 379,63.8 385.1,60.6 391.6,57.7 398.3,55.3 405.2,53.2 412.2,51.6 419.3,50.4 426.5,49.6 433.6,49.3 440.6,49.4 447.5,50 454.3,51 460.8,52.4 467,54.3 472.9,56.6 478.4,59.2 483.5,62.3 488.1,65.7 492.3,69.4 495.9,73.4 499,77.7 501.5,82.2 503.4,86.9 504.7,91.7Z" fill="none" stroke="#707070" stroke-width="0.36" stroke-opacity="0.65"/>
<path d="M384.2,81 384.4,82.5 384.4,84 384.1,85.6 383.4,87.2 382.6,88.9 381.4,90.5 379.9,92.1 378.2,93.6 376.3,95.1 374.1,96.5 371.7,97.8 369.1,99 366.3,100.1 363.3,101 360.2,101.8 357,102.4 353.7,103 350.3,103.4 346.9,103.6 343.5,103.8 340.1,103.9 336.8,103.9 333.6,103.8 330.5,103.7 327.5,103.6 324.7,103.4 322.1,103.2 319.7,103.1 317.5,102.9 315.6,102.7 313.9,102.5 312.6,102.2 311.4,102 310.6,101.7 310.1,101.4 309.8,101 309.8,100.5 310.1,99.9 310.7,99.3 311.6,98.5 312.6,97.6 314,96.6 315.5,95.5 317.3,94.2 319.3,92.8 321.5,91.4 323.8,89.8 326.3,88.2 329,86.6 331.7,84.9 334.6,83.3 337.6,81.6 340.6,80.1 343.7,78.6 346.8,77.3 349.9,76.1 353,75.1 356.1,74.2 359.2,73.5 362.1,73 365,72.8 367.7,72.7 370.3,72.8 372.7,73.1 375,73.6 377,74.3 378.9,75.1 380.4,76 381.8,77.1 382.9,78.3 383.7,79.6 384.2,81Z" fill="#f0a0a8" fill-opacity="0.07"/>
<path d="M373.7,76.1 375.3,75.9 376.7,75.9 378,75.9 379.1,76.1 380,76.3 380.8,76.5 381.5,76.9 382,77.3 382.3,77.8 382.4,78.4 382.4,79 382.1,79.7 381.8,80.4 381.2,81.2 380.5,82 379.6,82.9 378.6,83.8 377.4,84.7 376,85.7 374.5,86.7 372.9,87.6 371.1,88.6 369.2,89.6 367.2,90.5 365.1,91.5 362.9,92.4 360.6,93.2 358.3,94.1 355.9,94.9 353.4,95.7 M367.4,78.2 370,78 372.5,77.8 374.8,77.8 376.8,78 378.7,78.2 380.3,78.6 381.6,79.1 382.7,79.6 383.5,80.3 384.1,81 384.4,81.8 384.3,82.7 384,83.6 383.4,84.6 382.6,85.7 381.4,86.7 380,87.8 378.3,88.9 376.4,90 374.3,91.1 371.9,92.1 369.4,93.1 366.6,94 363.7,94.9 360.7,95.7 357.6,96.5 354.3,97.1 351,97.7 347.7,98.3 344.4,98.8 M374.4,79.9 376,80.2 377.5,80.6 378.8,81.1 380,81.6 381,82.2 381.9,82.8 382.6,83.5 383.1,84.2 383.4,84.9 383.6,85.7 383.6,86.4 383.4,87.2 383,88.1 382.5,88.9 381.7,89.7 380.9,90.5 379.8,91.4 378.6,92.1 377.2,92.9 375.6,93.7 373.9,94.4 372.1,95 370.2,95.7 368.1,96.2 365.9,96.8 363.7,97.3 361.3,97.7 358.9,98.1 356.4,98.4 353.8,98.7 M366.3,80.3 368.5,80.8 370.6,81.3 372.6,81.9 374.3,82.7 375.8,83.5 377.1,84.4 378.2,85.4 379.1,86.3 379.7,87.4 380.1,88.4 380.2,89.5 380,90.6 379.6,91.6 379,92.7 378.1,93.7 376.9,94.7 375.5,95.6 373.9,96.4 372.1,97.2 370.1,97.9 367.9,98.5 365.5,99 363,99.4 360.4,99.7 357.6,100 354.8,100.2 351.9,100.3 348.9,100.3 346,100.3 343,100.2 M369.5,83.9 370.5,84.7 371.4,85.5 372.2,86.4 372.9,87.3 373.5,88.2 373.9,89.2 374.2,90.1 374.4,91.1 374.4,92 374.3,92.9 374.1,93.8 373.7,94.7 373.2,95.5 372.6,96.3 371.8,97.1 370.9,97.8 369.9,98.5 368.7,99.1 367.5,99.6 366.1,100.1 364.7,100.5 363.1,100.9 361.5,101.2 359.8,101.4 358.1,101.5 356.2,101.6 354.4,101.7 352.5,101.7 350.5,101.6 348.6,101.5 M362.6,82.3 363.6,83.3 364.6,84.4 365.4,85.6 366.1,86.8 366.6,88 367,89.3 367.2,90.6 367.2,91.9 367.1,93.1 366.9,94.3 366.5,95.5 365.9,96.6 365.2,97.7 364.4,98.7 363.4,99.6 362.2,100.3 361,101 359.6,101.6 358.2,102.1 356.6,102.5 355,102.8 353.3,102.9 351.5,103 349.7,103 347.9,102.9 346.1,102.7 344.3,102.4 342.5,102.1 340.8,101.8 339.1,101.3 M360.6,86.9 360.6,87.9 360.5,89 360.3,90.1 360.1,91.2 359.8,92.3 359.4,93.3 359,94.3 358.5,95.3 358,96.3 357.3,97.2 356.7,98.1 356,98.9 355.2,99.6 354.4,100.3 353.5,100.9 352.6,101.5 351.7,102 350.8,102.5 349.8,102.8 348.8,103.2 347.8,103.4 346.8,103.6 345.8,103.7 344.9,103.8 343.9,103.8 342.9,103.7 342,103.6 341.1,103.4 340.2,103.2 339.3,103 M357.6,83.6 357,84.9 356.3,86.3 355.6,87.7 354.8,89.2 353.9,90.6 353,91.9 352,93.3 351,94.5 349.9,95.8 348.8,96.9 347.7,98 346.5,99 345.4,99.9 344.2,100.7 343.1,101.4 342,102.1 341,102.6 340,103 339,103.4 338.1,103.6 337.3,103.8 336.5,103.9 335.8,103.9 335.3,103.8 334.8,103.7 334.4,103.4 334.1,103.1 333.9,102.8 333.9,102.3 333.9,101.8 M350.7,88.2 349.5,89.3 348.2,90.5 347,91.6 345.7,92.6 344.5,93.7 343.2,94.7 341.9,95.6 340.7,96.5 339.5,97.4 338.3,98.2 337.2,98.9 336.1,99.6 335,100.2 334,100.8 333.1,101.3 332.2,101.8 331.4,102.2 330.7,102.5 330.1,102.8 329.5,103.1 329.1,103.3 328.7,103.4 328.4,103.5 328.2,103.6 328.1,103.6 328.1,103.6 328.2,103.5 328.4,103.4 328.7,103.3 329.1,103 M352.8,83.9 350.7,85.3 348.6,86.8 346.4,88.2 344.2,89.6 342.1,91 339.9,92.4 337.8,93.7 335.8,94.9 333.8,96 331.9,97.1 330.2,98 328.5,98.9 327,99.7 325.6,100.4 324.4,101 323.3,101.5 322.5,102 321.8,102.3 321.3,102.6 321,102.9 320.9,103 321.1,103.1 321.4,103.2 321.9,103.2 322.7,103.1 323.6,103 324.7,102.8 326,102.5 327.4,102.1 329,101.7 M343,87.8 340.9,89 338.8,90.1 336.7,91.2 334.7,92.2 332.7,93.2 330.8,94.2 328.9,95.1 327.1,96 325.4,96.8 323.9,97.6 322.4,98.3 321,99 319.8,99.5 318.7,100.1 317.7,100.6 316.8,101 316.1,101.3 315.6,101.7 315.2,101.9 315,102.2 314.9,102.3 315,102.5 315.2,102.6 315.6,102.7 316.2,102.7 316.9,102.7 317.8,102.7 318.8,102.6 320,102.5 321.3,102.3 M349.9,83.1 346.8,84.4 343.8,85.7 340.8,87.1 337.8,88.4 334.9,89.8 332.1,91.1 329.4,92.4 326.8,93.6 324.3,94.8 322,95.9 319.9,96.9 318,97.8 316.3,98.6 314.8,99.3 313.5,100 312.5,100.5 311.8,101 311.3,101.3 311.1,101.6 311.1,101.8 311.5,102 312.1,102.1 313,102.1 314.1,102.1 315.6,102 317.2,101.9 319.1,101.8 321.3,101.6 323.6,101.4 326.1,101.1 M339.9,85.9 337.5,86.9 335,87.9 332.7,88.9 330.4,89.9 328.2,90.9 326,91.9 324,92.9 322,93.8 320.2,94.7 318.5,95.6 317,96.4 315.5,97.1 314.2,97.8 313.1,98.4 312.1,98.9 311.3,99.4 310.7,99.8 310.2,100.2 309.9,100.5 309.8,100.7 309.9,100.9 310.1,101.1 310.5,101.2 311.1,101.2 311.9,101.3 312.9,101.3 314,101.3 315.3,101.2 316.8,101.1 318.4,101.1 M349.7,81.5 346.6,82.3 343.5,83.2 340.4,84.3 337.5,85.3 334.6,86.5 331.7,87.7 329,88.8 326.5,90 324.1,91.2 321.8,92.4 319.7,93.4 317.9,94.5 316.2,95.4 314.7,96.3 313.5,97 312.6,97.7 311.8,98.3 311.4,98.8 311.2,99.2 311.2,99.5 311.6,99.7 312.2,99.9 313,100 314.2,100.1 315.6,100.1 317.2,100.1 319.1,100.1 321.2,100.1 323.5,100.1 326.1,100 M342.3,82.3 340.1,83 338,83.7 335.9,84.4 333.9,85.2 331.9,86.1 330,86.9 328.2,87.8 326.5,88.7 324.9,89.5 323.4,90.4 322,91.2 320.6,92 319.5,92.7 318.4,93.5 317.5,94.1 316.7,94.8 316,95.3 315.5,95.8 315.2,96.3 315,96.7 314.9,97.1 315,97.4 315.2,97.7 315.6,98 316.2,98.2 316.9,98.4 317.7,98.5 318.7,98.7 319.9,98.8 321.2,99 M352.2,79.4 349.9,79.5 347.6,79.8 345.3,80.2 343.1,80.7 340.8,81.3 338.7,82 336.6,82.8 334.5,83.7 332.6,84.6 330.8,85.5 329.1,86.5 327.5,87.5 326.1,88.5 324.8,89.4 323.7,90.3 322.7,91.2 321.9,92 321.3,92.8 320.9,93.5 320.6,94.2 320.6,94.8 320.7,95.3 321.1,95.9 321.6,96.3 322.3,96.8 323.3,97.2 324.4,97.6 325.7,98 327.2,98.4 328.8,98.8 M349.3,78 347.9,78.1 346.6,78.3 345.2,78.6 343.9,79 342.6,79.4 341.3,79.9 340.1,80.4 338.8,81 337.6,81.6 336.5,82.3 335.4,83 334.4,83.8 333.4,84.5 332.5,85.3 331.6,86.1 330.8,86.8 330.1,87.6 329.5,88.4 328.9,89.1 328.4,89.9 328,90.6 327.7,91.3 327.5,92 327.4,92.7 327.3,93.3 327.4,93.9 327.5,94.5 327.8,95.1 328.1,95.7 328.6,96.2 M356.6,77.4 355.8,76.8 354.9,76.4 353.9,76.1 352.9,76 351.8,75.9 350.7,76 349.6,76.3 348.5,76.6 347.3,77.1 346.2,77.7 345.1,78.4 343.9,79.2 342.8,80.1 341.8,81 340.7,82 339.7,83.1 338.8,84.2 337.9,85.3 337.1,86.4 336.3,87.6 335.7,88.7 335,89.8 334.5,90.9 334.1,92 333.7,93 333.5,94 333.3,95 333.3,95.9 333.3,96.8 333.5,97.6 M358.8,74.7 358.5,74.4 358.2,74.2 357.9,74 357.5,73.9 357,74 356.6,74.1 356,74.3 355.4,74.6 354.8,75 354.2,75.5 353.5,76.1 352.8,76.7 352,77.4 351.2,78.2 350.4,79 349.6,79.9 348.8,80.8 348,81.8 347.1,82.8 346.3,83.8 345.4,84.8 344.6,85.9 343.7,87 342.9,88 342.1,89.1 341.3,90.1 340.5,91.2 339.8,92.2 339,93.1 338.4,94.1 M361.7,76.4 362.4,75.5 363.1,74.7 363.6,74 364,73.5 364.2,73.1 364.4,72.9 364.4,72.8 364.3,72.9 364,73.1 363.6,73.5 363.2,74 362.5,74.7 361.8,75.5 361,76.4 360,77.4 359,78.6 357.8,79.8 356.6,81.1 355.3,82.4 353.9,83.8 352.5,85.3 351,86.7 349.5,88.2 347.9,89.6 346.4,91 344.8,92.3 343.2,93.6 341.7,94.9 340.2,96 338.7,97.1 M367.9,74 368.7,73.6 369.5,73.3 370.1,73 370.6,72.9 371,72.9 371.3,72.9 371.5,73.1 371.5,73.3 371.5,73.7 371.3,74.1 371,74.6 370.6,75.2 370.1,75.9 369.4,76.7 368.7,77.5 367.8,78.4 366.9,79.4 365.8,80.4 364.7,81.5 363.4,82.5 362.1,83.7 360.7,84.8 359.3,86 357.7,87.1 356.2,88.3 354.5,89.4 352.8,90.6 351.1,91.7 349.4,92.7 347.6,93.8 M365.7,76.7 367.8,75.9 369.7,75.3 371.4,74.8 372.9,74.4 374.3,74.1 375.5,74 376.4,74.1 377.1,74.3 377.6,74.6 377.9,75.1 377.9,75.7 377.7,76.4 377.3,77.2 376.6,78.1 375.7,79.2 374.6,80.3 373.3,81.5 371.8,82.7 370,84 368.1,85.4 366.1,86.7 363.9,88.1 361.5,89.5 359,90.8 356.5,92.1 353.8,93.3 351.1,94.5 348.3,95.6 345.5,96.6 342.7,97.6 M366.9,77.4 367.2,77.7 367.4,78.1 367.4,78.6 367.3,79.1 367,79.6 366.6,80.1 366,80.5 365.3,81 364.4,81.5 363.5,81.9 362.5,82.3 361.4,82.7 360.2,83 359.1,83.3 357.9,83.5 356.7,83.7 355.6,83.8 354.5,83.9 353.4,83.9 352.5,83.8 351.6,83.8 350.9,83.6 350.3,83.4 349.9,83.1 349.6,82.8 349.4,82.5 349.4,82.1 349.6,81.7 349.9,81.2 350.3,80.7 350.9,80.2 351.6,79.7 352.4,79.2 353.3,78.7 354.3,78.3 355.4,77.8 356.5,77.4 357.7,77.1 358.9,76.8 360,76.6 361.2,76.4 362.3,76.4 363.3,76.3 364.2,76.4 365.1,76.6 365.8,76.8 366.4,77 366.9,77.4 M373.7,76.1 374.4,76.8 374.7,77.7 374.8,78.6 374.5,79.5 374,80.5 373.1,81.4 372,82.4 370.6,83.3 369,84.1 367.2,84.9 365.2,85.6 363.1,86.3 360.8,86.8 358.5,87.3 356.2,87.7 353.9,87.9 351.7,88.1 349.6,88.2 347.6,88.2 345.8,88.2 344.2,88 342.8,87.8 341.7,87.5 340.8,87.1 340.2,86.6 339.9,86 340,85.3 340.3,84.5 340.9,83.7 341.7,82.8 342.8,81.9 344.2,80.9 345.8,79.9 347.5,78.9 349.5,77.9 351.5,77 353.7,76.2 355.9,75.5 358.2,74.9 360.4,74.4 362.6,74.1 364.7,73.9 366.7,73.9 368.5,74.1 370.2,74.4 371.6,74.8 372.8,75.4 373.7,76.1 M378.8,76 379.7,77.1 380.2,78.4 380.3,79.6 379.9,81 379.2,82.3 378,83.7 376.4,85 374.4,86.2 372.1,87.4 369.5,88.5 366.7,89.4 363.6,90.2 360.5,90.9 357.2,91.4 353.9,91.8 350.6,92.1 347.4,92.3 344.4,92.4 341.6,92.4 339,92.3 336.8,92.2 334.8,91.9 333.3,91.5 332.1,91.1 331.3,90.5 331,89.8 331,89 331.5,88 332.3,86.9 333.6,85.7 335.2,84.4 337.1,83 339.3,81.6 341.8,80.2 344.5,78.7 347.4,77.4 350.4,76.2 353.6,75.1 356.7,74.2 359.9,73.5 363,73 366,72.8 368.8,72.8 371.4,73.1 373.8,73.5 375.8,74.2 377.5,75 378.8,76 M381.7,77.1 382.9,78.5 383.5,80 383.6,81.6 383.1,83.2 382.2,84.9 380.7,86.5 378.8,88.1 376.3,89.6 373.5,90.9 370.3,92.2 366.8,93.2 363.1,94.1 359.1,94.8 355.1,95.3 351,95.7 347,95.9 343.1,96.1 339.3,96.1 335.9,96.1 332.7,96 330,95.8 327.6,95.5 325.7,95.2 324.3,94.8 323.4,94.2 323,93.5 323.1,92.7 323.7,91.6 324.8,90.4 326.3,89 328.3,87.5 330.7,85.8 333.4,84.1 336.4,82.3 339.7,80.5 343.3,78.8 347,77.3 350.8,75.9 354.7,74.7 358.5,73.9 362.3,73.3 366,73 369.5,73 372.7,73.3 375.5,73.9 378,74.8 380.1,75.9 381.7,77.1 M382.3,79.2 383.6,80.7 384.3,82.4 384.4,84.2 383.9,86 382.8,87.8 381.2,89.6 379,91.3 376.3,93 373.1,94.4 369.5,95.7 365.6,96.7 361.3,97.6 356.9,98.2 352.4,98.7 347.8,98.9 343.2,99.1 338.8,99.1 334.7,99.1 330.8,99 327.3,98.8 324.2,98.7 321.6,98.4 319.5,98.2 318,97.8 317,97.3 316.6,96.7 316.8,95.9 317.5,94.9 318.7,93.7 320.5,92.3 322.7,90.6 325.3,88.9 328.4,87 331.8,85 335.5,83 339.4,81.1 343.6,79.4 347.8,77.8 352.1,76.5 356.4,75.5 360.7,74.9 364.7,74.5 368.6,74.6 372.2,74.9 375.4,75.6 378.2,76.6 380.5,77.8 382.3,79.2 M380.5,82 381.8,83.6 382.5,85.4 382.6,87.2 382.1,89 381,90.9 379.2,92.7 377,94.5 374.1,96 370.8,97.5 367.1,98.7 363,99.6 358.6,100.4 354,100.9 349.2,101.2 344.4,101.4 339.7,101.4 335.1,101.4 330.8,101.2 326.7,101.1 323.1,100.9 319.9,100.7 317.2,100.5 315.1,100.3 313.5,100 312.5,99.6 312.1,99 312.3,98.3 313.1,97.4 314.4,96.3 316.3,95 318.6,93.4 321.4,91.7 324.6,89.8 328.1,87.8 332,85.9 336.1,84 340.3,82.2 344.8,80.6 349.2,79.3 353.7,78.3 358.1,77.6 362.3,77.3 366.3,77.3 370,77.7 373.3,78.4 376.2,79.4 378.6,80.6 380.5,82 M376.4,85.5 377.6,87 378.3,88.6 378.4,90.3 377.9,92.1 376.8,93.8 375.1,95.5 372.9,97.1 370.1,98.5 366.9,99.8 363.2,100.9 359.2,101.7 355,102.3 350.5,102.7 345.9,103 341.2,103 336.6,103 332.2,102.8 328,102.7 324.1,102.5 320.5,102.3 317.5,102 314.9,101.8 312.8,101.6 311.3,101.3 310.3,101 310,100.5 310.2,99.9 310.9,99.1 312.2,98.1 314.1,96.9 316.3,95.5 319.1,94 322.2,92.3 325.6,90.6 329.4,88.8 333.4,87.1 337.5,85.4 341.8,84 346.2,82.8 350.5,81.9 354.7,81.3 358.8,81 362.7,81 366.2,81.3 369.4,82 372.2,82.9 374.6,84.1 376.4,85.5 M370.2,89.1 371.3,90.4 371.9,91.8 371.9,93.3 371.5,94.8 370.5,96.3 368.9,97.7 366.9,99 364.4,100.2 361.5,101.3 358.2,102.1 354.6,102.8 350.8,103.3 346.7,103.6 342.6,103.8 338.4,103.8 334.3,103.7 330.3,103.6 326.5,103.4 323,103.2 319.8,103 317,102.7 314.7,102.5 312.8,102.3 311.5,102 310.6,101.6 310.3,101.2 310.5,100.7 311.2,100 312.4,99.2 314,98.2 316.1,97 318.6,95.8 321.4,94.4 324.5,93 327.9,91.5 331.5,90.1 335.3,88.8 339.2,87.6 343.1,86.7 347,85.9 350.8,85.4 354.5,85.2 357.9,85.2 361.1,85.5 364,86.1 366.5,86.9 368.6,87.9 370.2,89.1 M362.4,92.6 363.2,93.6 363.7,94.7 363.7,95.8 363.3,97 362.5,98.1 361.2,99.2 359.5,100.2 357.5,101.1 355.1,101.9 352.4,102.5 349.4,103 346.3,103.4 343,103.7 339.6,103.8 336.2,103.8 332.8,103.8 329.6,103.7 326.5,103.5 323.6,103.3 321,103.1 318.7,102.9 316.8,102.6 315.3,102.4 314.1,102.1 313.4,101.8 313.2,101.4 313.3,100.9 313.9,100.3 314.8,99.6 316.2,98.9 317.9,98 319.9,97.1 322.3,96.1 324.9,95 327.7,94 330.7,93 333.8,92.1 337,91.2 340.2,90.5 343.4,90 346.6,89.7 349.6,89.5 352.4,89.6 355,89.8 357.4,90.3 359.4,90.9 361.1,91.7 362.4,92.6 M353.4,95.7 354,96.3 354.3,97 354.3,97.7 354,98.5 353.4,99.2 352.5,99.9 351.3,100.5 349.8,101.1 348.1,101.7 346.2,102.1 344.1,102.5 341.9,102.8 339.6,103 337.2,103.1 334.8,103.1 332.4,103.1 330.1,103.1 327.9,103 325.9,102.9 324.1,102.7 322.4,102.5 321.1,102.3 320,102.1 319.1,101.8 318.6,101.5 318.4,101.1 318.5,100.7 318.9,100.3 319.6,99.8 320.5,99.3 321.7,98.7 323.2,98.1 324.9,97.4 326.7,96.8 328.8,96.2 330.9,95.6 333.1,95 335.4,94.6 337.7,94.2 340,93.9 342.2,93.7 344.4,93.6 346.4,93.7 348.2,93.9 349.9,94.2 351.3,94.6 352.5,95.1 353.4,95.7 M343.9,98.1 344.2,98.4 344.4,98.7 344.4,99 344.2,99.4 343.9,99.7 343.4,100 342.7,100.4 342,100.7 341.1,100.9 340.1,101.2 339,101.4 337.9,101.5 336.7,101.7 335.5,101.8 334.2,101.8 333,101.8 331.8,101.8 330.7,101.8 329.7,101.7 328.7,101.7 327.9,101.5 327.1,101.4 326.6,101.2 326.1,101.1 325.9,100.9 325.7,100.6 325.8,100.4 326,100.1 326.3,99.9 326.8,99.6 327.4,99.3 328.2,99 329.1,98.7 330,98.4 331.1,98.1 332.2,97.9 333.4,97.6 334.6,97.5 335.8,97.3 337,97.2 338.2,97.1 339.3,97.1 340.3,97.2 341.3,97.3 342.1,97.4 342.9,97.6 343.5,97.8 343.9,98.1 M374.8,77.8 380.3,80 382.9,83.8 382.1,88.6 378.1,93.7 371.2,98 362.3,101 352.9,102.4 344.3,102.4 M374.4,79.9 378.7,83 379.7,87.4 377.3,92.4 371.8,97.1 363.9,100.7 355,102.8 346.3,103.4 339.3,103 M372.6,81.9 375.2,85.8 374.3,90.6 370.2,95.5 363.4,99.6 355,102.3 346.3,103.6 339,103.8 334.1,103.1 M369.5,83.9 370,88.3 367.1,93.1 361.3,97.6 353.5,100.9 345,103 337.3,103.8 331.6,103.7 329.1,103 M365.4,85.6 363.6,90.2 358.8,94.8 351.5,98.7 343.1,101.4 335,102.9 328.5,103.5 324.9,103.4 324.7,102.8 M360.6,86.9 356.6,91.5 349.9,95.8 341.6,99.1 333.1,101.3 325.8,102.6 320.9,103 319.3,102.9 321.3,102.3 M355.6,87.7 349.4,92.2 341.3,96.1 332.5,99 324.4,101 318.3,102.1 315.1,102.5 315.4,102.4 319.1,101.8 M350.7,88.2 342.8,92.4 333.8,96 325,98.7 317.7,100.6 313,101.6 311.5,102 313.4,101.7 318.4,101.1 M346.4,88.2 337.4,92.2 328,95.6 319.7,98.2 313.5,100 310.3,100.9 310.3,101.1 313.4,100.7 319.1,100.1 M343,87.8 333.4,91.6 324.3,94.8 316.9,97.3 312.1,98.9 310.3,99.7 311.6,99.7 315.4,99.3 321.2,99 M340.8,87.1 331.3,90.5 323,93.4 316.9,95.6 313.5,97 313,97.6 315.1,97.6 319.2,97.4 324.4,97.6 M339.9,85.9 331.1,88.7 324.1,91.2 319.4,93.1 317.5,94.1 318,94.6 320.6,94.8 324.4,95.2 328.6,96.2 M340.4,84.3 332.8,86.4 327.4,88.2 324.3,89.5 323.7,90.3 325,90.9 327.6,91.7 330.7,93 333.3,95 M342.3,82.3 336.3,83.6 332.6,84.6 331.1,85.4 331.6,86.1 333.4,87.1 335.7,88.7 337.6,91.1 338.4,94.1 M345.3,80.2 341.3,80.4 339.4,80.7 339.4,81.1 340.7,82 342.6,83.8 344.2,86.4 344.6,89.9 343.2,93.6 M349.3,78 347.4,77.4 347.3,77.1 348.6,77.6 350.4,79 352,81.6 352.5,85.3 351.1,89.5 347.6,93.8 M353.9,76.1 354.1,74.9 355.7,74.5 358,75.2 360,77.4 360.9,80.9 360,85.4 356.7,90.1 351.1,94.5 M358.8,74.7 361,73.3 364,73.1 366.9,74.5 368.7,77.5 368.6,81.8 366.1,86.7 360.9,91.6 353.4,95.7 M363.6,74 367.5,72.8 371.5,73.2 374.5,75.4 375.7,79.2 374.4,84 370.2,89.1 363.3,93.7 354.3,97.1 M367.9,74 373.2,73.4 377.6,74.6 380.3,77.7 380.5,82 377.7,87.1 371.9,92.1 363.7,96.1 353.8,98.7 M371.4,74.8 377.4,74.9 381.7,77.1 383.7,80.9 382.6,85.7 378.3,90.8 371.2,95.4 362,98.6 351.9,100.3 M373.7,76.1 379.8,77.2 383.5,80.3 384.3,84.6 381.7,89.7 376.1,94.6 367.9,98.5 358.3,100.8 348.6,101.5" fill="none" stroke="#d02838" stroke-width="0.4" stroke-opacity="0.65"/>
<path d="M384.2,81 384.4,82.5 384.4,84 384.1,85.6 383.4,87.2 382.6,88.9 381.4,90.5 379.9,92.1 378.2,93.6 376.3,95.1 374.1,96.5 371.7,97.8 369.1,99 366.3,100.1 363.3,101 360.2,101.8 357,102.4 353.7,103 350.3,103.4 346.9,103.6 343.5,103.8 340.1,103.9 336.8,103.9 333.6,103.8 330.5,103.7 327.5,103.6 324.7,103.4 322.1,103.2 319.7,103.1 317.5,102.9 315.6,102.7 313.9,102.5 312.6,102.2 311.4,102 310.6,101.7 310.1,101.4 309.8,101 309.8,100.5 310.1,99.9 310.7,99.3 311.6,98.5 312.6,97.6 314,96.6 315.5,95.5 317.3,94.2 319.3,92.8 321.5,91.4 323.8,89.8 326.3,88.2 329,86.6 331.7,84.9 334.6,83.3 337.6,81.6 340.6,80.1 343.7,78.6 346.8,77.3 349.9,76.1 353,75.1 356.1,74.2 359.2,73.5 362.1,73 365,72.8 367.7,72.7 370.3,72.8 372.7,73.1 375,73.6 377,74.3 378.9,75.1 380.4,76 381.8,77.1 382.9,78.3 383.7,79.6 384.2,81Z" fill="none" stroke="#d02838" stroke-width="0.8" stroke-opacity="0.65"/>
<path d="M383.3,81.3 383.5,82.7 383.5,84.2 383.1,85.7 382.5,87.3 381.7,88.9 380.5,90.5 379.1,92 377.4,93.5 375.5,95 373.4,96.3 371.1,97.6 368.5,98.7 365.8,99.8 362.9,100.7 359.9,101.5 356.7,102.1 353.5,102.6 350.2,103 346.9,103.3 343.6,103.5 340.3,103.6 337.1,103.6 333.9,103.6 330.9,103.5 328,103.4 325.3,103.2 322.7,103 320.4,102.9 318.3,102.7 316.4,102.5 314.8,102.2 313.4,102 312.3,101.8 311.5,101.5 311,101.1 310.7,100.7 310.8,100.2 311.1,99.7 311.6,99 312.4,98.2 313.5,97.4 314.8,96.4 316.3,95.3 318,94 320,92.7 322.1,91.3 324.4,89.8 326.8,88.2 329.4,86.6 332.1,85 334.9,83.4 337.8,81.9 340.8,80.4 343.8,79 346.8,77.7 349.9,76.5 352.9,75.5 355.9,74.7 358.9,74 361.8,73.5 364.5,73.3 367.2,73.2 369.7,73.3 372.1,73.6 374.3,74.1 376.3,74.7 378.1,75.5 379.6,76.4 380.9,77.5 382,78.7 382.7,79.9 383.3,81.3Z M382.3,81.5 382.6,82.9 382.5,84.4 382.2,85.9 381.6,87.4 380.8,88.9 379.6,90.5 378.3,92 376.7,93.4 374.8,94.8 372.7,96.1 370.4,97.4 367.9,98.5 365.3,99.5 362.5,100.4 359.5,101.2 356.5,101.8 353.3,102.3 350.1,102.7 346.9,103 343.7,103.2 340.5,103.3 337.4,103.4 334.3,103.3 331.4,103.3 328.5,103.1 325.9,103 323.4,102.8 321.1,102.6 319.1,102.5 317.2,102.2 315.6,102 314.3,101.8 313.2,101.5 312.5,101.2 311.9,100.9 311.7,100.5 311.7,100 312,99.4 312.5,98.8 313.3,98 314.3,97.1 315.6,96.1 317.1,95.1 318.8,93.9 320.6,92.6 322.7,91.2 324.9,89.7 327.3,88.2 329.8,86.7 332.5,85.1 335.2,83.6 338,82.1 340.9,80.6 343.9,79.3 346.8,78 349.8,76.9 352.8,75.9 355.7,75.1 358.6,74.5 361.4,74 364.1,73.8 366.7,73.7 369.2,73.8 371.5,74.1 373.6,74.5 375.5,75.1 377.3,75.9 378.8,76.8 380,77.8 381.1,79 381.8,80.2 382.3,81.5Z" fill="none" stroke="#d02838" stroke-width="0.4" stroke-opacity="0.65"/>
<ellipse cx="44.25" cy="39.25" rx="6.35" ry="4.45" fill="url(#go)"/>
<ellipse cx="86.25" cy="35.75" rx="6.35" ry="4.45" fill="url(#go)"/>
<ellipse cx="97.5" cy="40.75" rx="6.35" ry="4.45" fill="url(#go)"/>
<ellipse cx="92" cy="45" rx="6.35" ry="4.45" fill="url(#go)"/>
<ellipse cx="107" cy="49.5" rx="6.35" ry="4.45" fill="url(#go)"/>
<ellipse cx="73.25" cy="52.5" rx="6.35" ry="4.45" fill="url(#go)"/>
<ellipse cx="121" cy="54" rx="6.35" ry="4.45" fill="url(#go)"/>
<ellipse cx="55" cy="60" rx="6.35" ry="4.45" fill="url(#go)"/>
<ellipse cx="87" cy="60.5" rx="6.35" ry="4.45" fill="url(#go)"/>
<ellipse cx="103.25" cy="63.25" rx="6.35" ry="4.45" fill="url(#go)"/>
<ellipse cx="95" cy="68.75" rx="6.35" ry="4.45" fill="url(#go)"/>
<ellipse cx="102" cy="72.75" rx="6.35" ry="4.45" fill="url(#go)"/>
<ellipse cx="93.75" cy="77.5" rx="6.35" ry="4.45" fill="url(#go)"/>
<ellipse cx="52" cy="80" rx="6.35" ry="4.45" fill="url(#go)"/>
<ellipse cx="123" cy="74" rx="6.35" ry="4.45" fill="url(#go)"/>
<ellipse cx="116" cy="81" rx="6.35" ry="4.45" fill="url(#go)"/>
<ellipse cx="133.5" cy="83" rx="6.35" ry="4.45" fill="url(#go)"/>
<ellipse cx="134.5" cy="77.5" rx="6.35" ry="4.45" fill="url(#go)"/>
<ellipse cx="142.5" cy="41" rx="6.35" ry="4.45" fill="url(#go)"/>
<ellipse cx="147.5" cy="54" rx="6.35" ry="4.45" fill="url(#go)"/>
<ellipse cx="155.5" cy="59" rx="6.35" ry="4.45" fill="url(#go)"/>
<ellipse cx="31" cy="88" rx="6.35" ry="4.45" fill="url(#go)"/>
<ellipse cx="140" cy="90.5" rx="6.35" ry="4.45" fill="url(#go)"/>
<ellipse cx="171" cy="89.5" rx="6.35" ry="4.45" fill="url(#go)"/>
<ellipse cx="83.75" cy="95" rx="6.35" ry="4.45" fill="url(#go)"/>
<ellipse cx="108.75" cy="100" rx="6.35" ry="4.45" fill="url(#go)"/>
<ellipse cx="30.75" cy="105.5" rx="6.35" ry="4.45" fill="url(#go)"/>
<ellipse cx="131" cy="107.5" rx="6.35" ry="4.45" fill="url(#go)"/>
<ellipse cx="138.75" cy="105" rx="6.35" ry="4.45" fill="url(#go)"/>
<ellipse cx="84.8" cy="115" rx="6.35" ry="4.45" fill="url(#go)"/>
<ellipse cx="89.2" cy="111.3" rx="6.35" ry="4.45" fill="url(#go)"/>
<ellipse cx="47.5" cy="117" rx="6.35" ry="4.45" fill="url(#go)"/>
<ellipse cx="145" cy="119" rx="6.35" ry="4.45" fill="url(#go)"/>
<ellipse cx="65" cy="127" rx="6.35" ry="4.45" fill="url(#go)"/>
<ellipse cx="92.5" cy="130" rx="6.35" ry="4.45" fill="url(#go)"/>
<ellipse cx="109.5" cy="128" rx="6.35" ry="4.45" fill="url(#go)"/>
<ellipse cx="134" cy="131.5" rx="6.35" ry="4.45" fill="url(#go)"/>
<ellipse cx="139" cy="128.5" rx="6.35" ry="4.45" fill="url(#go)"/>
<ellipse cx="27.5" cy="137.5" rx="6.35" ry="4.45" fill="url(#go)"/>
<ellipse cx="109.5" cy="140" rx="6.35" ry="4.45" fill="url(#go)"/>
<ellipse cx="128" cy="139.5" rx="6.35" ry="4.45" fill="url(#go)"/>
<ellipse cx="87" cy="146.5" rx="6.35" ry="4.45" fill="url(#go)"/>
<ellipse cx="154.5" cy="113.75" rx="6.35" ry="4.45" fill="url(#go)"/>
<ellipse cx="168.75" cy="133.75" rx="6.35" ry="4.45" fill="url(#go)"/>
<ellipse cx="203.75" cy="136.25" rx="6.35" ry="4.45" fill="url(#go)"/>
<ellipse cx="176.25" cy="149.5" rx="6.35" ry="4.45" fill="url(#go)"/>
<ellipse cx="103.75" cy="164.5" rx="6.35" ry="4.45" fill="url(#go)"/>
<ellipse cx="58.75" cy="178" rx="6.35" ry="4.45" fill="url(#go)"/>
<ellipse cx="146.5" cy="167.5" rx="6.35" ry="4.45" fill="url(#go)"/>
<ellipse cx="75" cy="70.5" rx="6.35" ry="4.45" fill="url(#gb)"/>
<ellipse cx="127" cy="67.5" rx="6.35" ry="4.45" fill="url(#gb)"/>
<ellipse cx="185.5" cy="39.25" rx="6.35" ry="4.45" fill="url(#gb)"/>
<ellipse cx="205" cy="57" rx="6.35" ry="4.45" fill="url(#gb)"/>
<ellipse cx="158" cy="69.5" rx="6.35" ry="4.45" fill="url(#gb)"/>
<ellipse cx="163" cy="70" rx="6.35" ry="4.45" fill="url(#gb)"/>
<ellipse cx="175" cy="70" rx="6.35" ry="4.45" fill="url(#gb)"/>
<ellipse cx="182.5" cy="69" rx="6.35" ry="4.45" fill="url(#gb)"/>
<ellipse cx="155" cy="76" rx="6.35" ry="4.45" fill="url(#gb)"/>
<ellipse cx="198" cy="77" rx="6.35" ry="4.45" fill="url(#gb)"/>
<ellipse cx="152.5" cy="80.75" rx="6.35" ry="4.45" fill="url(#gb)"/>
<ellipse cx="164.25" cy="81.5" rx="6.35" ry="4.45" fill="url(#gb)"/>
<ellipse cx="211.25" cy="81" rx="6.35" ry="4.45" fill="url(#gb)"/>
<ellipse cx="223.75" cy="85.5" rx="6.35" ry="4.45" fill="url(#gb)"/>
<ellipse cx="197.5" cy="88" rx="6.35" ry="4.45" fill="url(#gb)"/>
<ellipse cx="206.5" cy="88" rx="6.35" ry="4.45" fill="url(#gb)"/>
<ellipse cx="159.5" cy="89" rx="6.35" ry="4.45" fill="url(#gb)"/>
<ellipse cx="119.5" cy="100" rx="6.35" ry="4.45" fill="url(#gb)"/>
<ellipse cx="183.75" cy="98" rx="6.35" ry="4.45" fill="url(#gb)"/>
<ellipse cx="198.75" cy="131.5" rx="6.35" ry="4.45" fill="url(#gb)"/>
<ellipse cx="187.5" cy="136.5" rx="6.35" ry="4.45" fill="url(#gb)"/>
<ellipse cx="148" cy="73.5" rx="6.35" ry="4.45" fill="url(#go)"/>
<ellipse cx="430.5" cy="30.5" rx="6.35" ry="4.45" fill="url(#gg)"/>
<ellipse cx="430" cy="41.5" rx="6.35" ry="4.45" fill="url(#gg)"/>
<ellipse cx="450.5" cy="47.5" rx="6.35" ry="4.45" fill="url(#gg)"/>
<ellipse cx="413.5" cy="62" rx="6.35" ry="4.45" fill="url(#gg)"/>
<ellipse cx="419.5" cy="63" rx="6.35" ry="4.45" fill="url(#gg)"/>
<ellipse cx="424.5" cy="68.75" rx="6.35" ry="4.45" fill="url(#gg)"/>
<ellipse cx="432" cy="63.75" rx="6.35" ry="4.45" fill="url(#gg)"/>
<ellipse cx="409" cy="75" rx="6.35" ry="4.45" fill="url(#gg)"/>
<ellipse cx="477.5" cy="64.5" rx="6.35" ry="4.45" fill="url(#gg)"/>
<ellipse cx="480" cy="74" rx="6.35" ry="4.45" fill="url(#gg)"/>
<ellipse cx="485.5" cy="77" rx="6.35" ry="4.45" fill="url(#gg)"/>
<ellipse cx="469.7" cy="77.2" rx="6.35" ry="4.45" fill="url(#gg)"/>
<ellipse cx="470" cy="86" rx="6.35" ry="4.45" fill="url(#gg)"/>
<ellipse cx="473.5" cy="81" rx="6.35" ry="4.45" fill="url(#gg)"/>
<ellipse cx="453.75" cy="83" rx="6.35" ry="4.45" fill="url(#gg)"/>
<ellipse cx="486.25" cy="87.2" rx="6.35" ry="4.45" fill="url(#gg)"/>
<ellipse cx="401.25" cy="84.8" rx="6.35" ry="4.45" fill="url(#gg)"/>
<ellipse cx="388.5" cy="77.3" rx="6.35" ry="4.45" fill="url(#gg)"/>
<ellipse cx="391.5" cy="83.8" rx="6.35" ry="4.45" fill="url(#gg)"/>
<ellipse cx="423.75" cy="91" rx="6.35" ry="4.45" fill="url(#gg)"/>
<ellipse cx="431.25" cy="96.25" rx="6.35" ry="4.45" fill="url(#gg)"/>
<ellipse cx="412.3" cy="99.1" rx="6.35" ry="4.45" fill="url(#gg)"/>
<ellipse cx="417.5" cy="101.25" rx="6.35" ry="4.45" fill="url(#gg)"/>
<ellipse cx="430" cy="102.5" rx="6.35" ry="4.45" fill="url(#gg)"/>
<ellipse cx="397.5" cy="104" rx="6.35" ry="4.45" fill="url(#gg)"/>
<ellipse cx="399" cy="107.5" rx="6.35" ry="4.45" fill="url(#gg)"/>
<ellipse cx="467.5" cy="102" rx="6.35" ry="4.45" fill="url(#gg)"/>
<ellipse cx="493.75" cy="98" rx="6.35" ry="4.45" fill="url(#gg)"/>
<ellipse cx="482.5" cy="104.5" rx="6.35" ry="4.45" fill="url(#gg)"/>
<ellipse cx="462.5" cy="111.25" rx="6.35" ry="4.45" fill="url(#gg)"/>
<ellipse cx="467.5" cy="112.5" rx="6.35" ry="4.45" fill="url(#gg)"/>
<ellipse cx="481.25" cy="110" rx="6.35" ry="4.45" fill="url(#gg)"/>
<ellipse cx="488.75" cy="112.5" rx="6.35" ry="4.45" fill="url(#gg)"/>
<ellipse cx="506.25" cy="112" rx="6.35" ry="4.45" fill="url(#gg)"/>
<ellipse cx="401.5" cy="118.75" rx="6.35" ry="4.45" fill="url(#gg)"/>
<ellipse cx="411.5" cy="120" rx="6.35" ry="4.45" fill="url(#gg)"/>
<ellipse cx="422.8" cy="118.8" rx="6.35" ry="4.45" fill="url(#gg)"/>
<ellipse cx="427.5" cy="124.5" rx="6.35" ry="4.45" fill="url(#gg)"/>
<ellipse cx="409" cy="125.5" rx="6.35" ry="4.45" fill="url(#gg)"/>
<ellipse cx="392.5" cy="125.5" rx="6.35" ry="4.45" fill="url(#gg)"/>
<ellipse cx="402.5" cy="131.7" rx="6.35" ry="4.45" fill="url(#gg)"/>
<ellipse cx="411.25" cy="136.5" rx="6.35" ry="4.45" fill="url(#gg)"/>
<ellipse cx="420" cy="141.7" rx="6.35" ry="4.45" fill="url(#gg)"/>
<ellipse cx="427.5" cy="146" rx="6.35" ry="4.45" fill="url(#gg)"/>
<ellipse cx="503.5" cy="137.7" rx="6.35" ry="4.45" fill="url(#gg)"/>
<ellipse cx="503.75" cy="145.5" rx="6.35" ry="4.45" fill="url(#gg)"/>
<ellipse cx="413" cy="142.7" rx="6.35" ry="4.45" fill="url(#gg)"/>
<ellipse cx="376.9" cy="106.2" rx="6.35" ry="4.45" fill="url(#gg)"/>
<ellipse cx="384" cy="111.5" rx="6.35" ry="4.45" fill="url(#gg)"/>
<ellipse cx="335.7" cy="112.8" rx="6.35" ry="4.45" fill="url(#gg)"/>
<ellipse cx="341" cy="113" rx="6.35" ry="4.45" fill="url(#gg)"/>
<ellipse cx="349.5" cy="112.3" rx="6.35" ry="4.45" fill="url(#gg)"/>
<ellipse cx="362" cy="115" rx="6.35" ry="4.45" fill="url(#gg)"/>
<ellipse cx="366" cy="106.5" rx="6.35" ry="4.45" fill="url(#gg)"/>
<ellipse cx="375" cy="113.75" rx="6.35" ry="4.45" fill="url(#gg)"/>
<ellipse cx="386.25" cy="112.5" rx="6.35" ry="4.45" fill="url(#gg)"/>
<ellipse cx="388" cy="120" rx="6.35" ry="4.45" fill="url(#gg)"/>
<ellipse cx="366.25" cy="133.75" rx="6.35" ry="4.45" fill="url(#gg)"/>
<ellipse cx="391" cy="151.25" rx="6.35" ry="4.45" fill="url(#gg)"/>
<ellipse cx="395.5" cy="157" rx="6.35" ry="4.45" fill="url(#gg)"/>
<ellipse cx="403.75" cy="153.75" rx="6.35" ry="4.45" fill="url(#gg)"/>
<ellipse cx="414" cy="158" rx="6.35" ry="4.45" fill="url(#gg)"/>
<ellipse cx="421.25" cy="161.25" rx="6.35" ry="4.45" fill="url(#gg)"/>
<ellipse cx="426.25" cy="167.5" rx="6.35" ry="4.45" fill="url(#gg)"/>
<ellipse cx="438.75" cy="149.25" rx="6.35" ry="4.45" fill="url(#gg)"/>
<ellipse cx="437.5" cy="159.5" rx="6.35" ry="4.45" fill="url(#gg)"/>
<ellipse cx="447" cy="162.5" rx="6.35" ry="4.45" fill="url(#gg)"/>
<ellipse cx="421" cy="178.75" rx="6.35" ry="4.45" fill="url(#gg)"/>
<ellipse cx="356.2" cy="70.5" rx="6.35" ry="4.45" fill="url(#gr)"/>
<ellipse cx="377" cy="76.7" rx="6.35" ry="4.45" fill="url(#gr)"/>
<ellipse cx="343.5" cy="82" rx="6.35" ry="4.45" fill="url(#gr)"/>
<ellipse cx="351.5" cy="87" rx="6.35" ry="4.45" fill="url(#gr)"/>
<ellipse cx="335.8" cy="90.2" rx="6.35" ry="4.45" fill="url(#gr)"/>
<ellipse cx="323" cy="92" rx="6.35" ry="4.45" fill="url(#gr)"/>
<ellipse cx="329.6" cy="98.5" rx="6.35" ry="4.45" fill="url(#gr)"/>
<ellipse cx="347.2" cy="100" rx="6.35" ry="4.45" fill="url(#gr)"/>
<ellipse cx="310.5" cy="101.5" rx="6.35" ry="4.45" fill="url(#gr)"/>
<ellipse cx="357.6" cy="90.6" rx="6.35" ry="4.45" fill="url(#gr)"/>
<ellipse cx="363" cy="98" rx="6.35" ry="4.45" fill="url(#gr)"/>
<ellipse cx="343.6" cy="93.1" rx="6.35" ry="4.45" fill="url(#gg)"/>
<ellipse cx="362.9" cy="93.1" rx="6.35" ry="4.45" fill="url(#gg)"/>
<ellipse cx="361.1" cy="104.8" rx="6.35" ry="4.45" fill="url(#gg)"/>
<text x="1" y="11.7" font-family="Liberation Sans" font-weight="bold" font-size="14.5" fill="#111">A</text>
<text x="275" y="11.6" font-family="Liberation Sans" font-weight="bold" font-size="14.5" fill="#111">B</text>
<text x="32.5" y="237.5" font-family="Liberation Sans" font-size="9.7" font-weight="bold" font-style="italic" fill="#1a1a1a">Marker</text>
<text x="147" y="237.5" font-family="Liberation Sans" font-size="9.7" font-weight="bold" font-style="italic" fill="#1a1a1a">Ellipsoid</text>
<text x="301.2" y="237.5" font-family="Liberation Sans" font-size="9.7" font-weight="bold" font-style="italic" fill="#1a1a1a">Marker</text>
<text x="414.2" y="237.5" font-family="Liberation Sans" font-size="9.7" font-weight="bold" font-style="italic" fill="#1a1a1a">Ellipsoid</text>
<circle cx="35.5" cy="248.7" r="3.5" fill="#2f9ae8"/>
<circle cx="35.5" cy="278" r="3.5" fill="#f39a3c"/>
<circle cx="304.2" cy="248.7" r="3.5" fill="#b0102a"/>
<circle cx="304.2" cy="272" r="3.5" fill="#555"/>
<text x="50" y="252" font-family="Liberation Sans" font-size="9.05" fill="#1a1a1a">AML-MLD-sole</text>
<text x="50" y="281.2" font-family="Liberation Sans" font-size="9.05" fill="#1a1a1a">AML-NOS</text>
<text x="163.7" y="254.5" font-family="Liberation Sans" font-size="9.05" fill="#1a1a1a">AML-MLD-sole</text>
<text x="163.7" y="280.5" font-family="Liberation Sans" font-size="9.05" fill="#1a1a1a">AML-NOS</text>
<text x="318.7" y="252" font-family="Liberation Sans" font-size="9.05" fill="#1a1a1a">AML-MRC</text>
<text x="318.7" y="270.2" font-family="Liberation Sans" font-size="9.05" fill="#1a1a1a">AML-NOS plus</text>
<text x="318.7" y="281.2" font-family="Liberation Sans" font-size="9.05" fill="#1a1a1a">AML-MLD-sole</text>
<text x="431.2" y="254.5" font-family="Liberation Sans" font-size="9.05" fill="#1a1a1a">AML-MRC</text>
<text x="431.2" y="270.2" font-family="Liberation Sans" font-size="9.05" fill="#1a1a1a">AML-NOS plus</text>
<text x="431.2" y="281.2" font-family="Liberation Sans" font-size="9.05" fill="#1a1a1a">AML-MLD-sole</text>
<ellipse cx="150.5" cy="251.6" rx="3.9" ry="6.8" fill="none" stroke="#3a9ee0" stroke-width="1.6" stroke-linecap="round" stroke-dasharray="0.1 3.2"/>
<ellipse cx="150.5" cy="276.3" rx="3.9" ry="6.8" fill="none" stroke="#f0a050" stroke-width="1.6" stroke-linecap="round" stroke-dasharray="0.1 3.2"/>
<ellipse cx="417.9" cy="251.7" rx="3.9" ry="6.8" fill="none" stroke="#b01030" stroke-width="1.6" stroke-linecap="round" stroke-dasharray="0.1 3.2"/>
<ellipse cx="417.9" cy="272.2" rx="3.9" ry="6.8" fill="none" stroke="#505050" stroke-width="1.6" stroke-linecap="round" stroke-dasharray="0.1 3.2"/>
</svg>
</body></html>
